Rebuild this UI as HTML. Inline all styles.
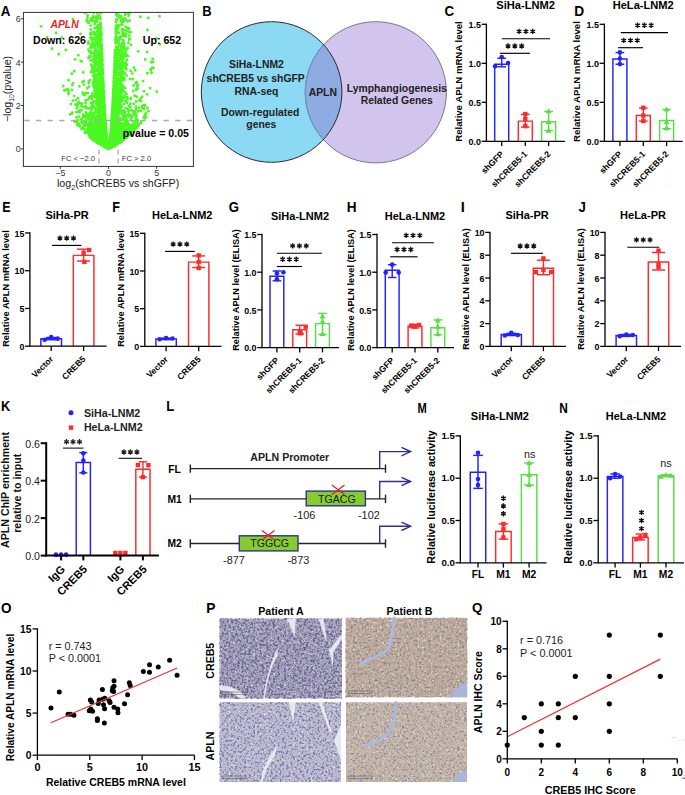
<!DOCTYPE html>
<html><head><meta charset="utf-8"><style>html,body{margin:0;padding:0;background:#fff;overflow:hidden}svg{display:block}text{font-family:"Liberation Sans",sans-serif}</style></head><body>
<svg width="685" height="795" viewBox="0 0 685 795" font-family='"Liberation Sans", sans-serif'>
<rect width="685" height="795" fill="#fff"/>
<text transform="translate(0.71,15.9) scale(0.923,1)" font-size="14.53" font-weight="bold" fill="#000">A</text>
<clipPath id="clipA"><rect x="23.4" y="12.4" width="170.0" height="154.0"/></clipPath>
<path clip-path="url(#clipA)" d="M104.5 139.1h0M113.8 81.0h0M108.1 148.6h0M117.5 130.7h0M105.6 134.3h0M102.7 130.1h0M107.2 147.5h0M105.6 136.8h0M109.8 141.4h0M97.0 96.9h0M88.0 21.8h0M124.2 136.6h0M111.0 128.8h0M114.6 137.3h0M102.1 81.7h0M108.3 148.6h0M95.1 85.5h0M112.3 115.7h0M106.5 136.0h0M110.3 138.8h0M110.2 147.2h0M107.4 141.7h0M74.6 121.7h0M108.1 147.2h0M108.0 147.7h0M116.7 144.0h0M100.3 58.1h0M111.2 137.9h0M118.9 66.9h0M105.4 145.1h0M111.5 135.0h0M108.2 147.5h0M115.1 132.2h0M109.4 143.3h0M105.4 132.4h0M99.2 97.3h0M106.5 135.8h0M100.5 112.7h0M104.7 121.3h0M111.8 142.6h0M108.6 148.7h0M106.0 141.0h0M109.0 146.9h0M106.2 142.1h0M106.3 132.8h0M114.6 100.4h0M104.2 106.1h0M117.9 49.0h0M107.3 142.8h0M107.0 145.3h0M109.7 144.3h0M99.4 34.0h0M109.0 147.1h0M106.1 141.2h0M110.1 144.2h0M104.4 146.6h0M116.6 120.6h0M100.5 116.6h0M105.7 137.6h0M107.3 142.1h0M106.2 130.3h0M99.8 82.3h0M111.6 145.4h0M114.7 106.7h0M98.5 142.1h0M101.9 143.3h0M105.1 145.4h0M113.6 144.0h0M122.7 128.1h0M104.0 96.0h0M118.5 105.6h0M109.5 146.9h0M108.5 148.8h0M108.4 148.4h0M111.9 121.1h0M107.3 146.3h0M106.3 140.1h0M116.5 60.0h0M110.9 139.4h0M114.8 92.0h0M106.6 138.8h0M115.3 83.2h0M100.2 93.7h0M111.2 145.4h0M103.7 141.7h0M109.7 147.4h0M102.5 123.3h0M118.3 123.1h0M107.5 146.5h0M119.1 136.4h0M113.9 132.9h0M96.0 19.9h0M111.2 143.7h0M108.6 148.5h0M109.3 144.8h0M104.0 145.1h0M99.3 139.8h0M83.7 81.0h0M109.2 144.9h0M102.0 56.0h0M120.6 99.4h0M112.7 136.2h0M108.5 148.9h0M118.4 27.5h0M106.6 143.1h0M111.8 140.3h0M108.4 148.8h0M101.8 119.5h0M96.7 20.5h0M109.3 144.4h0M116.6 137.4h0M104.2 143.2h0M109.5 145.2h0M111.3 134.1h0M101.7 129.7h0M124.7 130.0h0M108.8 147.7h0M109.1 147.2h0M106.4 141.4h0M135.3 129.0h0M99.2 122.8h0M111.8 133.7h0M113.0 142.9h0M96.3 102.2h0M108.8 147.7h0M110.3 138.5h0M113.4 141.8h0M107.6 147.1h0M115.0 119.8h0M111.4 137.5h0M117.6 91.1h0M108.6 148.6h0M113.1 138.7h0M108.0 146.6h0M118.1 128.3h0M115.9 31.7h0M111.0 144.6h0M98.1 126.8h0M106.5 143.7h0M136.9 82.3h0M106.8 139.1h0M108.9 147.9h0M103.5 95.4h0M94.8 136.3h0M111.3 126.0h0M106.9 147.0h0M102.8 113.7h0M106.7 139.7h0M108.7 148.6h0M99.9 47.4h0M109.1 147.2h0M108.0 147.2h0M105.0 125.7h0M115.8 139.7h0M114.9 143.2h0M109.4 144.2h0M111.3 139.8h0M113.0 143.3h0M103.2 128.0h0M107.9 146.3h0M109.5 147.1h0M112.3 108.5h0M121.4 87.6h0M105.7 137.4h0M103.3 136.4h0M102.3 103.6h0M108.7 148.2h0M110.0 145.1h0M113.0 135.8h0M102.8 77.9h0M117.0 91.6h0M109.0 146.4h0M96.0 139.5h0M121.5 21.3h0M103.7 110.4h0M118.7 111.5h0M102.0 99.6h0M109.5 143.4h0M109.7 146.2h0M97.7 43.6h0M110.9 142.3h0M115.0 90.7h0M106.1 143.4h0M107.6 145.3h0M104.9 115.8h0M108.8 147.6h0M109.4 144.6h0M108.8 148.3h0M106.9 138.5h0M110.3 136.4h0M116.3 106.0h0M109.3 145.1h0M107.2 142.5h0M107.4 142.8h0M110.2 139.5h0M98.3 115.7h0M109.8 143.7h0M106.2 133.5h0M107.4 146.9h0M108.4 148.5h0M110.9 132.2h0M111.4 127.1h0M117.7 130.4h0M95.6 49.0h0M110.6 145.3h0M107.0 147.8h0M106.2 141.3h0M118.5 104.7h0M115.6 114.8h0M97.2 115.6h0M109.0 147.2h0M106.3 136.2h0M106.3 140.5h0M106.6 138.7h0M110.4 135.3h0M95.0 133.7h0M103.2 127.3h0M111.0 140.4h0M105.5 139.8h0M107.3 147.3h0M109.9 140.5h0M114.7 57.6h0M112.3 146.9h0M119.3 134.0h0M101.0 116.5h0M108.2 147.8h0M113.3 145.5h0M109.6 146.2h0M98.2 104.2h0M110.6 136.3h0M110.9 139.3h0M106.3 143.0h0M105.0 114.6h0M112.7 138.8h0M102.5 100.2h0M105.5 136.7h0M104.7 141.3h0M108.8 147.5h0M147.0 51.9h0M115.0 118.7h0M99.8 132.0h0M108.0 148.6h0M108.2 147.8h0M103.9 140.5h0M107.2 147.5h0M116.5 137.4h0M112.8 113.1h0M109.4 144.2h0M101.7 140.3h0M107.7 145.2h0M113.0 137.6h0M105.9 146.9h0M121.8 69.3h0M108.6 148.5h0M107.9 147.8h0M109.8 142.8h0M110.1 141.9h0M113.9 144.0h0M108.4 148.6h0M111.7 135.2h0M109.5 145.4h0M102.3 142.3h0M109.7 145.6h0M106.7 138.8h0M107.8 145.8h0M106.3 133.0h0M116.3 123.9h0M103.4 134.2h0M106.0 134.1h0M99.6 97.8h0M109.7 145.8h0M100.8 118.1h0M101.7 126.9h0M123.6 77.0h0M102.5 64.3h0M107.1 143.6h0M125.4 56.1h0M112.1 139.6h0M102.2 131.9h0M104.5 137.6h0M105.3 146.2h0M127.7 130.8h0M108.2 148.1h0M117.1 144.1h0M108.8 147.9h0M111.5 145.5h0M108.9 147.7h0M107.0 148.2h0M106.7 141.0h0M108.6 148.2h0M129.1 132.8h0M138.2 125.9h0M110.5 141.9h0M110.0 139.6h0M110.7 147.1h0M105.4 144.9h0M104.3 113.2h0M112.1 122.2h0M106.0 132.9h0M112.1 124.6h0M129.9 130.1h0M107.1 148.2h0M108.0 148.3h0M110.0 147.3h0M97.9 53.0h0M109.7 146.6h0M101.0 40.6h0M117.2 141.1h0M109.7 142.3h0M112.3 142.2h0M104.5 145.8h0M100.7 127.4h0M102.4 65.1h0M111.3 140.5h0M112.7 137.0h0M106.3 140.1h0M135.9 117.4h0M100.5 116.7h0M113.5 102.9h0M102.7 141.1h0M127.7 134.9h0M101.2 119.8h0M103.1 140.8h0M113.6 138.7h0M113.7 129.8h0M85.7 117.4h0M112.5 122.4h0M86.7 123.6h0M114.3 97.2h0M105.4 141.1h0M116.2 121.0h0M109.5 143.1h0M113.8 86.3h0M108.4 148.5h0M111.7 146.9h0M115.3 139.5h0M88.7 81.4h0M112.4 109.7h0M100.3 142.5h0M109.7 143.2h0M106.4 134.9h0M109.0 146.2h0M106.8 143.8h0M105.2 137.9h0M106.6 137.2h0M124.9 122.6h0M117.2 123.3h0M106.7 137.5h0M110.2 144.9h0M102.7 124.1h0M105.4 137.6h0M121.5 112.5h0M110.3 145.5h0M104.3 121.2h0M109.4 145.5h0M97.4 133.0h0M107.0 148.0h0M105.6 142.3h0M99.4 115.7h0M109.6 145.9h0M109.4 146.0h0M113.0 145.5h0M121.2 71.7h0M110.2 146.3h0M110.9 143.0h0M110.3 147.5h0M107.6 146.4h0M108.2 147.9h0M111.3 129.3h0M106.2 142.2h0M106.7 137.9h0M115.4 106.2h0M114.9 130.1h0M105.5 136.9h0M110.1 145.3h0M107.3 146.8h0M114.0 101.8h0M107.5 144.4h0M103.0 133.2h0M106.6 144.5h0M110.1 145.0h0M112.2 131.0h0M120.0 139.0h0M90.1 127.0h0M109.2 145.9h0M108.5 148.9h0M105.5 142.3h0M112.9 130.7h0M107.2 145.2h0M107.7 147.1h0M109.4 147.0h0M114.0 145.4h0M106.1 138.0h0M109.1 147.1h0M116.0 116.2h0M107.7 145.7h0M100.1 116.2h0M107.4 144.2h0M103.9 144.9h0M93.9 116.4h0M114.3 141.8h0M107.6 147.7h0M122.0 135.3h0M105.2 132.1h0M102.4 82.9h0M107.4 147.0h0M109.6 147.3h0M88.7 108.3h0M107.7 146.7h0M105.8 129.0h0M103.9 135.8h0M107.2 148.3h0M102.0 61.5h0M105.6 144.7h0M106.6 145.8h0M110.8 131.5h0M108.6 148.4h0M98.1 143.3h0M105.9 125.9h0M109.3 147.9h0M109.1 147.0h0M110.7 142.8h0M101.4 87.0h0M109.7 143.3h0M115.8 69.9h0M110.8 141.8h0M112.7 126.5h0M110.0 141.1h0M108.6 148.6h0M109.1 145.9h0M93.6 32.4h0M108.1 147.9h0M111.2 135.9h0M91.7 134.8h0M107.2 142.2h0M119.5 97.7h0M110.6 139.2h0M106.8 144.7h0M118.7 130.3h0M98.6 128.2h0M107.5 146.7h0M112.9 140.7h0M147.5 108.0h0M109.8 142.0h0M109.7 144.6h0M102.1 56.9h0M109.4 145.7h0M108.3 148.7h0M105.0 143.0h0M104.1 134.3h0M105.5 121.9h0M114.1 129.2h0M105.8 138.6h0M91.8 102.7h0M110.3 142.2h0M111.0 139.4h0M109.5 144.2h0M109.3 145.8h0M103.5 121.1h0M115.1 139.5h0M107.7 145.2h0M106.8 141.0h0M103.3 137.9h0M98.2 134.1h0M105.4 137.1h0M108.4 148.7h0M114.5 121.4h0M104.5 136.0h0M126.3 65.1h0M115.8 37.4h0M100.6 124.4h0M109.6 144.3h0M105.4 139.2h0M129.6 20.7h0M109.3 146.6h0M124.8 73.4h0M110.8 137.0h0M114.6 130.6h0M107.4 144.1h0M104.2 138.7h0M115.8 141.9h0M111.7 146.1h0M107.8 145.9h0M137.8 123.4h0M101.6 48.6h0M109.6 142.7h0M102.0 145.0h0M101.0 143.8h0M125.7 132.2h0M106.4 141.3h0M106.4 136.5h0M111.8 116.2h0M106.8 142.5h0M106.0 138.3h0M107.8 146.6h0M95.0 128.4h0M109.7 142.6h0M98.2 138.5h0M109.8 147.9h0M108.2 148.1h0M108.9 148.0h0M103.1 128.8h0M113.1 146.6h0M117.6 140.7h0M111.3 128.3h0M120.4 135.8h0M97.9 80.8h0M108.6 148.6h0M95.4 68.4h0M123.8 124.4h0M97.6 139.6h0M109.2 145.5h0M104.7 109.8h0M116.7 135.7h0M110.8 143.7h0M94.7 48.5h0M102.4 59.1h0M111.4 142.2h0M107.8 144.9h0M97.4 13.0h0M107.0 147.2h0M106.6 144.5h0M117.5 141.9h0M103.9 129.3h0M108.0 147.3h0M107.2 145.6h0M115.5 141.4h0M115.9 77.0h0M108.0 146.6h0M100.4 128.1h0M100.6 95.0h0M105.5 141.0h0M109.6 142.9h0M104.1 99.4h0M108.0 147.6h0M107.3 142.6h0M114.1 116.8h0M108.5 148.9h0M106.8 145.8h0M122.8 21.3h0M107.5 146.4h0M108.6 148.3h0M103.0 138.0h0M103.6 119.3h0M106.9 139.5h0M107.7 146.3h0M108.9 146.9h0M111.8 134.0h0M106.9 146.9h0M106.9 139.3h0M107.3 146.0h0M117.6 107.3h0M100.5 24.6h0M117.6 142.4h0M102.0 130.0h0M96.8 104.0h0M109.9 141.3h0M120.9 127.7h0M109.6 148.2h0M104.7 132.7h0M115.6 115.7h0M95.4 130.3h0M120.0 87.6h0M107.0 143.9h0M106.0 127.8h0M112.0 130.0h0M127.6 134.7h0M121.4 19.6h0M93.6 129.9h0M109.5 147.2h0M102.7 138.1h0M95.2 126.7h0M106.4 140.3h0M99.3 88.6h0M113.5 139.6h0M113.5 118.3h0M106.8 139.5h0M113.2 142.8h0M99.2 133.3h0M105.8 139.1h0M102.0 120.5h0M93.5 43.3h0M99.2 75.1h0M110.5 134.1h0M99.7 33.2h0M104.3 105.1h0M105.9 146.9h0M101.3 139.3h0M117.4 140.7h0M112.7 139.1h0M105.3 123.2h0M115.0 81.7h0M114.0 100.7h0M98.7 143.1h0M108.6 148.4h0M103.1 144.5h0M109.1 146.2h0M116.8 102.9h0M108.2 147.8h0M110.2 147.4h0M111.8 120.4h0M126.4 93.9h0M98.9 136.6h0M111.7 130.0h0M111.4 129.7h0M106.1 132.3h0M110.2 147.7h0M108.7 147.9h0M125.8 131.1h0M93.3 132.8h0M106.2 133.6h0M111.1 144.6h0M109.6 146.7h0M102.5 111.4h0M109.6 142.8h0M109.3 145.3h0M106.6 146.8h0M83.1 117.3h0M119.7 106.7h0M123.8 44.3h0M111.3 143.8h0M112.2 144.6h0M144.6 104.9h0M113.3 144.4h0M111.4 146.5h0M104.9 146.4h0M106.6 145.5h0M110.3 140.8h0M110.7 144.7h0M117.6 111.1h0M105.3 131.3h0M110.5 144.7h0M116.0 128.6h0M110.8 145.1h0M112.3 115.9h0M106.4 146.6h0M105.6 143.2h0M117.4 130.0h0M103.1 84.4h0M109.1 147.1h0M108.1 148.7h0M102.7 140.2h0M106.0 143.8h0M111.4 145.1h0M100.9 99.2h0M116.3 46.7h0M108.9 147.0h0M106.9 140.2h0M113.7 101.0h0M104.7 131.0h0M116.9 125.9h0M106.4 135.1h0M109.6 143.7h0M109.6 148.0h0M109.4 147.6h0M108.1 147.3h0M104.8 143.3h0M118.4 126.5h0M103.1 121.5h0M104.1 141.0h0M100.1 137.0h0M110.4 146.7h0M107.9 148.6h0M105.3 146.1h0M107.5 142.9h0M105.5 138.3h0M111.1 146.1h0M110.9 147.1h0M105.4 135.1h0M114.7 145.2h0M110.3 144.5h0M102.7 143.6h0M113.7 145.2h0M106.9 139.9h0M105.9 135.7h0M114.5 144.1h0M104.7 140.0h0M105.9 140.1h0M118.5 137.7h0M98.3 141.1h0M105.9 133.0h0M101.1 34.0h0M96.2 83.1h0M107.2 148.0h0M109.8 146.4h0M111.0 141.7h0M104.1 144.1h0M130.1 134.7h0M97.1 42.4h0M108.8 147.8h0M131.0 45.0h0M119.1 126.3h0M106.7 139.0h0M130.1 127.2h0M114.3 144.7h0M110.4 138.4h0M106.6 142.3h0M108.1 147.6h0M114.6 81.7h0M109.3 146.9h0M110.0 147.8h0M108.8 148.0h0M106.2 145.6h0M112.0 140.4h0M116.7 71.5h0M107.9 148.1h0M107.6 146.1h0M107.5 145.2h0M104.1 115.4h0M109.4 144.5h0M112.1 126.3h0M134.3 126.8h0M107.6 145.8h0M107.6 145.4h0M112.9 143.6h0M98.2 31.7h0M109.8 140.4h0M97.9 28.3h0M105.5 139.5h0M110.2 145.8h0M101.9 140.6h0M107.4 144.3h0M110.9 138.1h0M113.6 135.5h0M108.7 147.7h0M112.3 142.4h0M103.5 133.2h0M113.2 113.8h0M99.9 30.9h0M110.1 145.4h0M108.5 148.8h0M112.3 122.7h0M105.4 141.5h0M109.7 143.8h0M114.2 136.1h0M120.2 141.9h0M106.3 143.1h0M98.4 139.9h0M115.4 124.3h0M105.6 142.4h0M117.0 48.2h0M109.6 142.9h0M103.9 126.9h0M106.6 139.4h0M104.9 114.5h0M113.1 118.5h0M111.2 141.4h0M109.3 144.2h0M99.3 140.0h0M117.9 93.9h0M124.6 121.1h0M108.5 148.8h0M101.0 138.5h0M118.1 138.8h0M109.1 146.1h0M103.6 110.5h0M140.8 110.9h0M119.6 107.1h0M110.3 138.9h0M106.3 135.7h0M107.7 146.7h0M109.2 146.4h0M133.8 103.7h0M105.5 137.9h0M150.6 69.4h0M107.4 146.0h0M118.3 126.2h0M108.9 147.4h0M108.5 148.8h0M110.3 144.9h0M118.9 111.2h0M113.1 146.1h0M108.8 148.2h0M108.1 147.1h0M108.3 148.3h0M106.6 140.2h0M112.5 124.4h0M113.9 103.8h0M93.8 62.1h0M92.7 132.0h0M114.2 140.3h0M109.3 147.2h0M104.6 127.4h0M106.5 145.2h0M112.9 140.1h0M105.9 135.5h0M119.1 108.2h0M99.9 110.4h0M104.5 144.3h0M111.7 145.0h0M112.8 100.5h0M111.0 146.1h0M104.2 139.8h0M106.3 138.2h0M105.3 144.0h0M115.5 141.8h0M106.1 143.0h0M106.1 143.7h0M113.8 84.6h0M106.2 147.0h0M113.0 116.8h0M115.7 140.3h0M91.6 126.1h0M117.9 133.6h0M108.8 147.9h0M105.6 145.8h0M104.7 143.9h0M106.0 147.2h0M116.4 111.4h0M108.3 148.1h0M97.4 93.3h0M104.9 112.8h0M116.3 98.0h0M106.2 139.0h0M88.6 57.9h0M112.8 134.5h0M110.8 143.3h0M109.8 146.3h0M108.0 146.3h0M107.9 145.9h0M110.2 139.7h0M105.9 135.4h0M106.6 147.4h0M127.8 56.2h0M113.2 112.9h0M108.6 148.7h0M104.6 116.5h0M109.1 147.3h0M116.1 53.5h0M112.8 141.0h0M107.6 147.1h0M113.1 120.9h0M107.2 145.9h0M105.3 139.1h0M113.1 138.5h0M94.6 80.5h0M111.7 124.9h0M92.0 137.1h0M108.1 148.6h0M127.8 115.0h0M107.1 142.3h0M108.1 147.2h0M111.4 147.0h0M100.4 114.6h0M116.2 139.8h0M101.2 123.5h0M107.5 143.4h0M116.1 142.8h0M111.4 134.3h0M101.5 44.0h0M111.5 145.6h0M109.2 145.5h0M105.3 138.3h0M100.6 107.1h0M102.3 144.4h0M119.2 59.5h0M114.1 139.2h0M113.9 140.5h0M113.0 138.8h0M117.0 115.7h0M109.7 148.0h0M110.3 140.8h0M106.3 139.1h0M105.6 142.6h0M101.5 132.9h0M97.9 11.7h0M104.4 144.2h0M104.3 104.0h0M115.3 127.2h0M107.4 146.3h0M109.8 146.7h0M110.1 142.6h0M115.5 104.0h0M81.6 106.5h0M105.5 137.2h0M110.0 143.9h0M105.3 144.2h0M106.3 143.5h0M95.0 32.8h0M105.2 136.4h0M112.1 144.3h0M106.0 133.5h0M107.7 145.9h0M121.7 140.3h0M107.3 146.5h0M119.1 136.9h0M85.3 115.3h0M112.0 132.9h0M105.0 144.1h0M122.5 58.4h0M105.2 137.4h0M106.4 133.6h0M105.7 126.9h0M118.2 78.9h0M104.4 145.6h0M110.0 142.3h0M101.8 49.3h0M110.5 137.9h0M115.1 65.0h0M101.8 101.5h0M113.8 112.4h0M110.1 139.7h0M81.7 61.2h0M101.7 68.6h0M106.7 146.3h0M105.9 142.7h0M105.6 146.2h0M104.2 127.6h0M109.4 146.5h0M102.0 72.4h0M106.1 146.6h0M108.4 148.5h0M108.6 148.7h0M110.6 140.1h0M104.2 113.5h0M94.7 90.8h0M109.3 147.8h0M125.2 111.9h0M116.8 13.1h0M116.5 70.8h0M109.3 144.5h0M99.3 130.6h0M108.1 146.7h0M115.4 132.8h0M116.9 59.3h0M104.8 123.3h0M123.2 133.4h0M108.7 148.4h0M114.2 99.5h0M96.2 121.1h0M117.0 112.7h0M99.9 98.2h0M121.1 125.0h0M110.0 140.0h0M106.4 137.1h0M107.9 148.2h0M111.5 141.1h0M106.6 136.5h0M110.4 136.3h0M108.6 148.4h0M101.9 131.1h0M106.5 135.0h0M109.1 147.1h0M109.7 142.3h0M107.8 146.0h0M105.5 137.3h0M112.0 142.0h0M109.0 146.2h0M105.0 145.6h0M98.4 125.7h0M113.5 137.0h0M107.4 144.0h0M95.3 136.7h0M107.3 146.3h0M96.0 125.5h0M122.0 78.3h0M112.7 139.4h0M103.8 144.6h0M113.0 99.5h0M107.0 144.8h0M109.9 147.6h0M110.1 145.7h0M107.2 145.6h0M105.9 146.3h0M108.7 148.5h0M108.8 147.8h0M108.1 148.5h0M100.1 137.7h0M108.6 148.6h0M99.0 115.8h0M105.7 135.8h0M114.3 144.6h0M106.2 132.5h0M104.9 124.9h0M118.0 64.2h0M111.9 115.6h0M107.4 144.5h0M78.7 101.9h0M111.0 142.7h0M101.8 58.2h0M111.6 137.7h0M106.9 144.9h0M110.3 145.5h0M103.1 106.3h0M110.4 140.8h0M112.0 142.4h0M112.4 131.2h0M107.2 145.8h0M110.3 143.0h0M112.2 139.0h0M108.3 148.3h0M110.4 138.5h0M104.0 110.0h0M112.9 137.6h0M126.0 108.1h0M119.6 123.6h0M102.7 145.2h0M112.4 108.1h0M110.2 138.1h0M113.7 102.8h0M106.8 143.9h0M98.6 110.4h0M107.8 146.4h0M112.4 112.5h0M110.1 139.3h0M112.0 114.7h0M99.5 52.7h0M106.9 147.6h0M113.4 145.7h0M107.7 144.5h0M106.7 147.2h0M114.4 123.3h0M104.1 98.0h0M132.9 79.1h0M148.4 111.2h0M106.1 132.6h0M111.4 140.9h0M100.8 137.0h0M106.3 147.5h0M114.2 142.5h0M106.3 143.3h0M107.1 144.8h0M112.0 135.5h0M123.5 21.3h0M111.2 128.7h0M107.4 147.8h0M99.6 87.0h0M111.9 135.8h0M112.5 144.0h0M107.0 142.8h0M108.7 147.9h0M117.4 68.8h0M94.9 130.8h0M108.7 148.6h0M114.8 143.6h0M123.2 58.8h0M122.4 134.4h0M104.4 134.9h0M105.6 136.5h0M115.4 127.5h0M111.6 136.7h0M117.9 25.2h0M104.9 136.7h0M103.6 119.4h0M102.3 112.0h0M110.0 141.6h0M107.1 142.5h0M106.7 144.1h0M119.3 68.7h0M108.2 148.1h0M103.1 143.8h0M109.8 141.8h0M114.2 125.0h0M116.3 142.8h0M109.4 147.6h0M107.4 146.1h0M108.2 147.7h0M112.9 130.2h0M114.0 135.7h0M93.9 140.2h0M107.1 145.5h0M104.9 136.1h0M95.8 112.3h0M112.8 146.5h0M95.8 68.2h0M108.6 148.6h0M104.4 138.6h0M110.2 141.4h0M108.2 147.2h0M104.8 139.2h0M129.1 40.1h0M113.0 146.0h0M106.5 135.7h0M99.5 93.4h0M109.0 147.4h0M104.4 141.1h0M111.3 144.7h0M110.0 145.4h0M105.8 131.2h0M110.3 136.8h0M110.6 138.0h0M105.8 136.2h0M107.1 147.8h0M106.5 136.8h0M112.1 142.1h0M111.3 144.8h0M106.4 141.5h0M107.3 142.5h0M114.1 143.8h0M120.0 17.8h0M117.0 141.9h0M108.6 148.5h0M96.5 132.8h0M111.0 133.0h0M109.2 145.7h0M105.5 145.8h0M88.2 132.0h0M99.6 32.5h0M107.1 148.0h0M110.5 145.0h0M123.4 138.0h0M109.1 147.1h0M109.1 147.8h0M111.0 141.4h0M110.1 139.6h0M108.2 148.1h0M123.2 46.4h0M103.1 137.6h0M109.9 144.2h0M107.6 148.0h0M107.2 141.4h0M110.3 140.5h0M109.8 143.9h0M110.7 137.2h0M87.0 124.3h0M109.9 140.3h0M122.8 138.5h0M111.2 124.6h0M108.8 147.6h0M103.8 141.0h0M107.4 146.3h0M110.7 142.1h0M107.3 141.9h0M101.7 91.7h0M110.0 142.0h0M110.3 140.0h0M95.3 45.3h0M111.6 123.7h0M124.6 138.2h0M105.1 135.8h0M102.7 128.8h0M112.5 124.0h0M106.2 135.0h0M108.4 148.4h0M100.5 137.5h0M114.9 144.9h0M110.2 140.8h0M110.0 139.4h0M109.4 147.0h0M104.5 144.2h0M79.1 116.6h0M106.6 147.1h0M105.3 118.6h0M95.8 91.3h0M99.4 46.5h0M106.5 142.2h0M110.6 147.6h0M108.3 148.0h0M107.9 147.5h0M106.3 143.2h0M108.6 148.3h0M111.0 147.7h0M99.1 135.3h0M96.4 135.1h0M92.4 128.8h0M101.4 140.6h0M107.7 144.7h0M88.3 125.8h0M99.8 59.9h0M120.1 119.7h0M107.3 142.1h0M103.8 120.3h0M100.9 97.0h0M108.0 146.7h0M109.8 141.4h0M108.6 148.7h0M109.7 147.6h0M109.2 145.1h0M109.6 145.4h0M111.8 119.0h0M106.3 146.7h0M117.7 132.0h0M109.8 143.8h0M104.8 116.8h0M107.7 146.8h0M108.7 148.4h0M114.8 141.0h0M103.0 142.5h0M102.9 111.5h0M103.2 118.9h0M118.4 100.0h0M93.7 43.0h0M108.7 148.0h0M113.2 139.9h0M107.4 147.7h0M107.5 145.2h0M103.5 107.1h0M101.5 86.8h0M93.0 60.0h0M106.7 141.6h0M68.9 91.6h0M108.8 148.7h0M109.7 145.2h0M103.6 115.9h0M109.7 141.3h0M110.8 133.7h0M91.7 96.2h0M108.4 148.7h0M111.0 139.2h0M90.9 34.7h0M111.5 133.9h0M113.0 131.2h0M91.3 48.1h0M124.5 133.2h0M109.6 145.6h0M108.6 148.6h0M101.9 132.1h0M110.7 138.8h0M104.2 124.9h0M111.4 132.6h0M106.7 144.8h0M112.5 131.5h0M96.1 50.7h0M111.0 141.2h0M101.1 124.0h0M97.9 139.7h0M113.3 113.5h0M107.3 146.6h0M111.1 143.7h0M110.1 144.3h0M108.3 148.7h0M112.3 114.7h0M116.6 84.4h0M120.1 109.1h0M105.8 139.4h0M99.0 41.7h0M108.4 148.3h0M99.9 54.5h0M114.6 130.0h0M115.4 134.2h0M108.7 148.1h0M100.0 141.1h0M103.3 118.0h0M112.7 124.3h0M108.6 148.8h0M108.6 148.8h0M106.1 143.0h0M102.1 139.2h0M108.9 148.4h0M151.5 72.7h0M108.2 147.9h0M94.3 136.4h0M111.4 126.8h0M85.9 124.2h0M103.8 133.1h0M121.9 137.8h0M110.3 143.2h0M124.2 43.1h0M108.4 148.4h0M94.9 137.3h0M123.7 127.0h0M113.3 146.3h0M111.7 139.0h0M107.4 144.2h0M106.9 142.6h0M109.0 146.5h0M116.7 52.3h0M108.9 147.3h0M106.4 144.1h0M113.8 122.2h0M108.3 148.4h0M99.6 72.9h0M109.7 148.1h0M118.0 127.9h0M118.1 137.3h0M94.7 107.7h0M107.9 147.8h0M110.4 140.1h0M107.8 146.1h0M92.0 132.2h0M113.7 93.7h0M110.7 143.5h0M108.3 148.2h0M111.5 139.5h0M115.2 72.9h0M121.9 134.7h0M109.4 148.0h0M111.7 144.4h0M116.1 129.1h0M114.5 140.8h0M114.8 142.9h0M102.8 101.6h0M107.3 144.5h0M102.5 136.0h0M110.8 133.9h0M103.1 143.8h0M111.6 143.2h0M107.3 146.5h0M108.3 148.7h0M116.5 137.7h0M111.6 144.0h0M105.1 123.2h0M122.6 133.9h0M138.7 124.5h0M110.5 138.8h0M116.0 111.7h0M108.1 146.9h0M107.5 146.3h0M110.0 142.8h0M106.9 139.5h0M115.3 144.1h0M109.2 147.5h0M105.2 136.6h0M94.6 126.4h0M105.1 117.4h0M103.1 86.1h0M114.0 75.3h0M109.2 147.1h0M90.8 138.0h0M115.6 143.2h0M118.8 141.7h0M118.1 121.9h0M111.6 146.2h0M126.5 125.8h0M123.8 127.5h0M121.2 75.4h0M111.4 144.8h0M104.0 144.9h0M83.3 122.2h0M112.3 137.7h0M110.3 138.2h0M104.7 127.4h0M113.0 123.4h0M112.4 112.1h0M96.6 68.4h0M104.0 102.2h0M105.9 145.6h0M110.0 146.9h0M110.2 141.9h0M107.0 139.0h0M108.2 147.7h0M92.7 42.5h0M107.1 140.1h0M109.0 147.0h0M125.2 132.4h0M107.6 148.3h0M125.9 132.0h0M109.5 144.1h0M105.5 130.7h0M98.8 26.0h0M130.6 32.3h0M107.5 144.1h0M100.4 74.0h0M108.6 148.8h0M112.5 139.8h0M123.7 104.3h0M105.9 129.9h0M107.9 146.8h0M105.2 138.3h0M101.0 118.6h0M106.2 135.1h0M114.7 91.8h0M106.8 137.9h0M110.0 141.1h0M92.5 126.5h0M101.9 103.7h0M113.4 133.7h0M110.7 134.0h0M109.5 146.4h0M121.5 101.8h0M113.9 94.7h0M109.1 147.5h0M111.3 135.3h0M145.2 59.5h0M107.6 148.0h0M94.6 70.7h0M100.1 110.7h0M100.2 119.1h0M110.0 141.5h0M108.6 148.6h0M111.7 134.4h0M112.3 114.6h0M108.4 148.7h0M107.0 139.8h0M103.9 130.5h0M110.4 139.4h0M98.3 142.4h0M77.4 104.0h0M108.0 146.5h0M108.9 146.8h0M96.0 136.2h0M114.1 110.0h0M79.3 124.3h0M102.8 142.7h0M107.5 145.6h0M98.7 35.1h0M109.7 142.7h0M109.1 148.5h0M114.4 128.4h0M112.4 140.6h0M111.4 128.8h0M109.0 146.9h0M104.5 144.4h0M96.3 97.5h0M98.4 133.9h0M112.8 132.2h0M90.5 11.5h0M101.1 74.8h0M123.1 138.0h0M110.2 145.4h0M103.1 78.2h0M108.8 148.3h0M104.9 112.9h0M118.3 139.6h0M109.3 146.5h0M115.2 53.4h0M110.8 139.1h0M112.1 133.3h0M134.6 95.7h0M98.9 111.8h0M104.2 133.6h0M112.3 108.8h0M105.3 146.2h0M114.9 136.1h0M125.9 137.2h0M112.2 139.0h0M126.1 124.4h0M109.9 141.2h0M102.4 143.3h0M105.4 142.6h0M119.5 123.5h0M114.2 72.2h0M114.1 145.4h0M106.7 137.5h0M110.8 140.9h0M116.8 142.6h0M102.3 98.4h0M107.7 145.3h0M106.3 130.9h0M108.0 148.4h0M106.6 145.7h0M108.5 148.9h0M100.0 121.2h0M110.9 136.0h0M107.6 144.0h0M110.5 133.5h0M102.6 129.5h0M106.5 145.2h0M96.3 137.8h0M114.5 133.5h0M109.1 148.0h0M103.7 109.2h0M113.1 111.0h0M103.3 135.3h0M106.8 142.3h0M108.2 147.7h0M109.8 143.0h0M103.5 110.8h0M109.7 147.3h0M101.7 122.6h0M79.3 111.1h0M113.2 143.9h0M109.2 144.9h0M101.3 72.9h0M122.0 134.5h0M121.9 140.6h0M89.4 126.2h0M101.7 130.7h0M110.4 145.0h0M103.5 105.7h0M108.0 146.6h0M99.6 126.3h0M105.9 136.7h0M113.0 140.6h0M115.5 65.3h0M106.9 139.4h0M106.6 135.9h0M109.4 144.0h0M113.6 128.5h0M114.8 142.8h0M106.6 147.2h0M127.2 131.1h0M112.2 121.1h0M117.4 131.4h0M104.4 140.1h0M111.2 134.5h0M109.7 144.9h0M105.9 147.2h0M123.1 41.5h0M110.1 139.7h0M106.3 146.4h0M103.9 113.0h0M97.6 131.8h0M105.9 129.1h0M134.5 121.4h0M109.2 146.9h0M111.8 147.0h0M102.5 77.9h0M98.0 138.1h0M112.4 127.2h0M119.6 16.4h0M112.6 145.6h0M75.2 59.4h0M119.8 134.5h0M113.4 130.7h0M103.5 84.8h0M128.5 128.8h0M102.8 87.5h0M109.0 147.8h0M109.2 145.4h0M102.5 127.4h0M107.7 145.0h0M108.2 147.8h0M108.5 148.9h0M101.5 116.1h0M104.7 130.9h0M107.4 145.9h0M112.7 128.9h0M110.4 143.5h0M106.9 144.3h0M110.6 134.5h0M113.4 126.6h0M109.3 146.5h0M111.1 141.3h0M110.5 136.5h0M111.0 143.0h0M109.9 146.6h0M106.2 134.9h0M103.3 127.5h0M111.1 131.9h0M106.0 143.5h0M117.3 138.3h0M107.6 144.5h0M122.8 127.8h0M112.2 140.9h0M107.3 147.1h0M103.3 104.7h0M116.9 69.8h0M108.0 146.6h0M109.1 145.9h0M104.9 135.6h0M100.2 82.5h0M112.8 121.7h0M107.7 145.7h0M109.5 144.4h0M105.8 132.4h0M112.6 125.7h0M114.5 125.7h0M118.6 143.4h0M111.5 127.3h0M108.4 148.5h0M109.4 144.9h0M107.9 146.1h0M107.5 143.8h0M118.1 119.0h0M100.7 115.7h0M96.8 120.3h0M106.7 144.7h0M94.5 130.5h0M109.9 141.1h0M116.8 116.9h0M110.1 146.2h0M109.9 143.8h0M105.4 139.0h0M112.4 146.6h0M110.6 145.2h0M110.1 140.1h0M102.2 56.3h0M112.3 111.1h0M110.2 142.6h0M101.3 145.0h0M94.9 118.5h0M114.4 121.5h0M106.5 144.9h0M124.1 138.4h0M102.9 118.8h0M120.8 125.0h0M114.0 93.8h0M113.1 128.3h0M96.8 137.2h0M109.0 146.3h0M106.0 138.6h0M88.4 49.8h0M111.9 127.1h0M101.6 128.8h0M106.3 133.9h0M101.7 121.9h0M108.5 148.9h0M107.0 143.4h0M117.3 15.9h0M114.0 144.7h0M108.9 147.8h0M106.6 145.5h0M109.9 143.9h0M110.9 144.0h0M113.6 146.5h0M109.1 145.6h0M116.4 27.3h0M108.8 147.8h0M110.6 137.4h0M110.0 143.7h0M90.9 137.9h0M105.6 140.7h0M126.7 125.7h0M102.7 140.7h0M113.7 143.4h0M105.2 147.4h0M120.7 75.7h0M105.2 130.3h0M107.6 148.3h0M102.2 142.1h0M107.3 140.9h0M109.2 145.1h0M113.4 107.9h0M121.1 139.3h0M103.8 111.5h0M111.7 142.4h0M105.3 142.7h0M108.8 148.4h0M107.4 146.0h0M104.2 133.2h0M105.7 141.5h0M101.2 117.2h0M119.8 53.8h0M94.5 140.8h0M116.2 134.9h0M108.9 148.2h0M109.2 147.2h0M110.2 140.0h0M75.6 121.2h0M112.1 128.8h0M116.4 124.6h0M110.0 146.1h0M98.2 141.2h0M105.8 136.0h0M106.8 147.4h0M108.1 147.5h0M107.9 148.3h0M112.8 136.2h0M106.0 127.9h0M103.7 136.1h0M109.1 147.9h0M108.0 148.3h0M130.8 115.1h0M106.7 141.5h0M109.4 146.2h0M129.3 135.5h0M105.6 140.9h0M108.4 148.6h0M113.4 137.2h0M109.0 147.5h0M97.9 107.2h0M111.3 133.5h0M109.6 147.2h0M110.2 141.6h0M106.8 146.0h0M116.0 58.2h0M125.1 14.8h0M101.3 106.6h0M112.8 145.9h0M112.0 139.8h0M108.9 147.2h0M109.2 145.4h0M84.5 95.1h0M107.2 143.5h0M116.0 43.0h0M109.6 147.4h0M112.8 128.8h0M120.9 140.4h0M110.2 141.7h0M103.6 134.5h0M108.9 147.1h0M110.6 137.2h0M103.3 96.7h0M99.8 122.1h0M119.8 104.9h0M106.2 140.5h0M107.3 145.2h0M104.8 138.4h0M110.9 145.6h0M112.1 138.6h0M87.4 17.4h0M110.9 146.9h0M101.3 90.5h0M108.1 146.8h0M104.8 139.5h0M124.3 80.0h0M103.8 136.7h0M113.4 108.6h0M100.9 144.7h0M115.1 118.7h0M101.0 136.2h0M100.0 117.9h0M120.6 134.4h0M98.8 129.4h0M107.7 145.3h0M108.5 148.8h0M105.4 135.3h0M108.7 148.0h0M104.9 116.7h0M104.8 146.3h0M109.2 147.2h0M94.2 137.2h0M107.2 145.7h0M119.9 66.6h0M131.5 127.0h0M102.3 125.2h0M104.0 140.3h0M110.5 138.7h0M108.0 146.1h0M110.6 136.2h0M115.0 74.8h0M119.2 60.7h0M117.9 11.4h0M100.6 87.7h0M104.7 137.4h0M110.4 139.1h0M112.2 114.2h0M118.9 137.2h0M99.3 133.4h0M102.7 99.0h0M108.9 147.6h0M114.0 75.3h0M92.8 127.6h0M108.5 148.8h0M99.2 82.6h0M108.5 148.9h0M124.1 110.4h0M109.4 146.7h0M108.1 148.1h0M125.5 132.5h0M104.4 145.9h0M103.9 125.2h0M110.0 142.6h0M106.9 140.3h0M112.4 140.9h0M118.1 139.4h0M108.5 148.7h0M107.9 146.8h0M106.7 136.9h0M88.4 125.6h0M107.0 143.5h0M112.2 143.8h0M111.6 143.7h0M113.5 106.2h0M106.3 147.3h0M112.8 109.3h0M82.4 82.0h0M101.7 143.3h0M84.6 116.6h0M109.3 148.3h0M111.7 139.2h0M106.5 143.6h0M108.3 148.0h0M108.3 148.3h0M99.4 36.6h0M110.4 144.1h0M111.1 140.1h0M61.7 37.7h0M106.4 142.7h0M113.1 141.7h0M116.2 128.8h0M118.2 135.9h0M119.8 109.8h0M105.2 131.2h0M111.4 139.6h0M109.7 148.2h0M101.5 39.7h0M107.9 147.1h0M109.3 145.7h0M105.3 136.5h0M117.2 95.7h0M117.0 51.1h0M112.0 145.5h0M104.8 131.7h0M108.3 148.1h0M107.2 141.8h0M106.6 136.5h0M104.1 115.5h0M102.5 129.6h0M94.2 115.3h0M118.4 140.7h0M114.0 144.3h0M107.4 144.4h0M101.2 143.0h0M76.5 117.4h0M112.4 127.7h0M106.9 143.3h0M105.8 144.5h0M106.3 133.9h0M106.9 148.0h0M98.9 34.1h0M108.4 148.4h0M108.9 147.7h0M109.2 147.1h0M98.0 55.0h0M107.7 147.0h0M100.4 124.7h0M109.3 146.7h0M107.5 144.8h0M112.9 130.3h0M109.7 145.2h0M110.7 147.9h0M111.6 134.2h0M110.3 137.2h0M105.2 138.4h0M108.8 148.2h0M103.2 113.0h0M120.3 106.3h0M126.9 97.3h0M106.3 146.8h0M108.9 146.9h0M101.8 59.7h0M110.1 145.9h0M91.0 72.2h0M90.3 129.3h0M120.5 129.6h0M109.4 147.1h0M114.2 145.4h0M107.9 146.7h0M105.9 141.4h0M114.5 89.3h0M110.1 143.8h0M122.8 40.3h0M109.8 144.7h0M117.8 137.6h0M93.9 125.3h0M108.2 148.7h0M111.5 143.0h0M113.0 136.1h0M107.6 147.0h0M111.3 145.0h0M103.9 132.8h0M106.3 141.8h0M104.8 139.9h0M97.5 120.2h0M105.9 135.5h0M104.4 135.5h0M99.4 133.5h0M100.8 117.7h0M102.8 77.6h0M92.3 67.4h0M99.3 88.4h0M110.4 147.4h0M104.6 109.6h0M103.5 125.2h0M110.0 147.7h0M111.2 137.4h0M111.7 142.0h0M108.8 148.5h0M102.0 137.5h0M112.1 142.5h0M110.6 143.9h0M105.6 146.8h0M99.8 134.5h0M105.2 120.7h0M99.9 144.3h0M110.9 133.7h0M107.2 145.5h0M111.2 130.7h0M111.8 123.1h0M108.4 148.6h0M118.9 93.1h0M118.2 124.6h0M102.2 119.6h0M110.0 140.4h0M105.3 138.1h0M112.4 121.2h0M117.9 126.9h0M102.0 144.8h0M109.0 147.0h0M104.8 139.2h0M114.1 110.6h0M104.6 140.1h0M109.1 147.4h0M108.0 146.8h0M108.8 148.2h0M108.7 148.8h0M116.9 143.3h0M107.5 145.1h0M116.8 79.7h0M111.8 130.9h0M102.7 98.4h0M109.7 143.4h0M96.6 131.0h0M118.0 141.2h0M96.7 136.5h0M112.1 146.5h0M103.9 146.6h0M110.5 137.7h0M104.1 116.9h0M103.5 140.5h0M99.2 99.5h0M110.1 141.0h0M108.2 147.6h0M99.7 103.2h0M107.9 147.0h0M114.4 71.3h0M108.6 148.7h0M109.9 141.0h0M117.8 129.4h0M107.8 145.8h0M108.5 148.8h0M92.4 136.5h0M117.0 14.7h0M100.7 125.5h0M110.4 142.0h0M113.8 85.8h0M114.4 132.1h0M106.3 139.1h0M111.3 134.7h0M107.6 145.7h0M108.2 147.8h0M106.1 131.9h0M105.1 147.0h0M105.1 139.7h0M101.5 114.2h0M109.8 141.2h0M113.3 143.4h0M98.8 72.1h0M108.0 147.0h0M107.5 144.0h0M103.2 137.1h0M109.4 144.2h0M125.5 137.2h0M111.4 126.0h0M122.7 138.2h0M92.1 134.3h0M113.6 124.2h0M101.7 114.6h0M115.5 142.5h0M106.3 145.4h0M105.1 136.9h0M109.6 144.0h0M119.4 124.2h0M108.2 148.3h0M101.6 120.9h0M106.9 143.0h0M110.0 147.6h0M111.6 145.5h0M112.8 144.8h0M106.7 140.4h0M104.0 111.1h0M101.5 137.8h0M118.1 142.3h0M106.4 136.0h0M111.3 141.1h0M105.6 132.5h0M109.2 147.7h0M114.4 82.8h0M106.6 145.3h0M108.5 148.8h0M114.4 144.8h0M104.3 108.3h0M110.0 142.8h0M92.4 135.5h0M111.6 134.9h0M102.2 139.8h0M107.6 143.9h0M104.9 116.7h0M108.4 148.6h0M115.6 70.8h0M114.6 140.4h0M107.6 143.6h0M107.6 145.9h0M114.1 100.3h0M109.0 146.7h0M102.1 130.5h0M108.3 147.8h0M108.1 148.1h0M110.4 136.9h0M108.3 147.9h0M109.0 147.6h0M103.9 94.1h0M117.0 143.1h0M121.3 53.5h0M112.7 137.1h0M122.8 47.4h0M105.4 144.6h0M114.8 144.2h0M97.8 93.9h0M103.8 131.2h0M98.3 124.9h0M106.1 139.3h0M109.8 141.9h0M106.7 139.3h0M107.3 142.2h0M108.7 148.7h0M105.5 139.1h0M113.6 116.0h0M109.9 142.3h0M104.2 142.7h0M114.5 145.0h0M105.6 145.6h0M105.2 140.2h0M109.8 146.7h0M115.1 74.5h0M102.3 141.4h0M101.7 136.9h0M113.6 89.3h0M125.9 121.7h0M101.1 143.3h0M105.2 132.8h0M123.6 139.9h0M110.9 143.4h0M120.2 141.2h0M111.5 123.6h0M105.5 138.5h0M108.4 148.6h0M109.7 147.2h0M110.2 143.1h0M113.4 125.5h0M111.2 145.3h0M112.0 145.0h0M107.7 146.2h0M110.7 143.9h0M99.3 142.2h0M121.4 65.8h0M93.6 68.5h0M104.2 133.1h0M103.8 138.3h0M95.8 88.3h0M107.1 142.1h0M104.5 105.2h0M114.0 146.2h0M108.1 148.5h0M107.7 146.0h0M111.4 138.3h0M103.3 101.3h0M107.5 146.5h0M101.4 101.2h0M106.6 142.8h0M106.9 139.3h0M94.3 136.3h0M113.1 136.8h0M102.4 109.5h0M111.2 145.8h0M106.9 145.7h0M94.7 61.7h0M108.1 147.6h0M105.8 128.9h0M104.4 128.0h0M107.5 147.5h0M111.6 130.0h0M105.0 121.2h0M101.8 93.2h0M123.0 126.6h0M108.1 147.0h0M109.6 142.4h0M105.6 134.9h0M98.8 139.7h0M99.6 110.7h0M110.6 142.6h0M107.1 141.5h0M115.1 127.4h0M106.0 136.5h0M106.9 139.1h0M115.8 139.5h0M94.5 88.1h0M107.9 147.7h0M102.8 78.8h0M99.9 70.7h0M105.5 132.0h0M111.6 146.6h0M110.0 139.3h0M113.1 133.7h0M108.4 148.3h0M99.0 142.8h0M111.0 128.6h0M109.4 146.5h0M122.0 30.4h0M101.4 145.1h0M102.6 132.7h0M103.1 135.9h0M107.8 146.9h0M101.8 144.7h0M106.3 132.1h0M110.0 144.9h0M112.8 105.5h0M117.0 19.7h0M111.5 124.3h0M104.0 138.2h0M104.7 115.4h0M105.0 136.3h0M117.8 134.4h0M113.0 141.1h0M114.3 122.2h0M107.9 146.8h0M110.5 142.1h0M108.3 148.2h0M106.3 145.3h0M121.9 138.7h0M107.9 147.7h0M107.7 146.8h0M109.8 143.0h0M109.7 147.5h0M119.1 40.3h0M109.8 143.5h0M114.5 120.5h0M104.7 115.6h0M103.7 136.9h0M111.3 134.7h0M106.7 147.9h0M94.5 137.8h0M97.9 141.2h0M110.4 140.2h0M109.4 146.0h0M114.1 72.4h0M109.2 147.1h0M111.9 133.4h0M109.4 148.0h0M72.3 84.9h0M111.4 123.7h0M97.0 131.2h0M108.1 147.6h0M103.7 134.6h0M110.5 146.7h0M112.8 145.9h0M110.1 138.5h0M107.6 143.9h0M108.5 148.9h0M106.3 135.0h0M135.3 111.2h0M109.6 146.7h0M110.0 143.3h0M109.6 146.3h0M117.1 140.4h0M111.2 136.7h0M109.4 146.7h0M105.9 134.9h0M121.9 133.7h0M114.1 113.9h0M107.3 143.9h0M105.0 132.7h0M114.2 72.4h0M96.2 139.8h0M105.5 144.0h0M108.7 148.1h0M117.8 117.0h0M109.6 146.9h0M111.7 144.2h0M108.4 148.7h0M108.6 148.8h0M81.7 128.5h0M104.2 100.5h0M90.6 126.0h0M102.7 133.6h0M106.4 139.9h0M112.4 124.8h0M103.9 143.5h0M100.7 144.0h0M103.6 90.3h0M110.1 137.2h0M122.4 89.5h0M97.4 90.4h0M112.3 146.4h0M115.3 143.3h0M101.5 100.0h0M110.4 148.0h0M109.7 145.3h0M111.6 128.7h0M118.8 100.6h0M115.2 128.9h0M110.3 146.0h0M93.4 128.1h0M108.6 148.7h0M102.0 115.2h0M116.9 134.7h0M110.4 135.9h0M101.0 139.4h0M109.9 141.0h0M108.3 148.5h0M101.2 141.5h0M112.0 113.7h0M112.7 126.4h0M106.9 145.3h0M105.0 147.2h0M101.9 108.6h0M92.5 130.8h0M108.6 148.8h0M109.3 147.1h0M117.6 90.2h0M113.5 101.5h0M104.9 146.6h0M103.0 141.9h0M108.5 148.9h0M110.6 142.5h0M108.8 147.9h0M110.4 147.0h0M138.1 51.4h0M105.7 147.0h0M105.6 146.6h0M105.1 138.6h0M110.5 138.9h0M123.9 33.7h0M114.6 132.8h0M102.5 110.1h0M106.2 140.5h0M112.0 141.1h0M107.5 144.1h0M106.1 129.4h0M111.2 140.5h0M104.8 131.0h0M106.6 143.2h0M93.0 138.2h0M106.7 144.5h0M112.9 129.1h0M100.6 134.2h0M104.9 117.8h0M115.4 136.3h0M92.3 105.7h0M114.7 139.3h0M111.5 137.6h0M109.4 144.8h0M95.4 134.8h0M93.6 12.7h0M110.1 141.8h0M108.2 147.9h0M109.6 147.9h0M104.3 141.0h0M117.7 142.9h0M113.9 140.1h0M91.1 64.7h0M106.6 145.4h0M124.8 129.0h0M107.4 146.4h0M108.0 146.7h0M128.3 122.9h0M110.8 136.8h0M95.5 70.3h0M112.0 140.3h0M119.3 119.2h0M99.4 143.5h0M108.1 146.7h0M102.6 133.5h0M103.6 100.9h0M110.2 138.4h0M121.5 128.7h0M108.5 148.8h0M122.6 74.2h0M108.0 146.6h0M112.4 123.5h0M109.0 147.9h0M114.3 132.1h0M116.3 124.5h0M110.2 138.0h0M126.2 100.6h0M106.9 142.0h0M111.0 141.8h0M107.7 146.4h0M102.9 123.8h0M105.5 135.5h0M103.6 108.5h0M132.3 125.0h0M99.6 105.0h0M109.9 146.6h0M118.2 142.2h0M99.6 112.9h0M109.1 147.8h0M103.1 88.3h0M106.6 138.7h0M114.2 121.6h0M123.3 140.0h0M106.3 135.6h0M111.0 135.1h0M110.7 147.4h0M112.1 133.4h0M100.8 113.2h0M98.7 100.6h0M118.2 139.1h0M108.1 147.8h0M105.2 146.5h0M104.0 139.6h0M112.2 142.5h0M109.7 143.7h0M99.2 10.5h0M113.2 107.6h0M103.2 140.0h0M90.6 124.4h0M116.4 139.4h0M110.8 147.8h0M112.5 125.5h0M105.8 131.9h0M119.1 74.5h0M108.9 148.3h0M108.5 148.8h0M96.2 98.2h0M106.6 147.1h0M102.7 106.9h0M101.0 121.1h0M101.4 123.1h0M99.0 15.4h0M115.9 144.7h0M112.5 132.0h0M111.1 137.8h0M108.7 148.5h0M109.4 144.5h0M116.5 126.5h0M109.4 145.3h0M120.2 139.4h0M109.5 145.2h0M100.4 143.3h0M107.4 144.7h0M104.9 136.7h0M107.1 143.8h0M114.9 102.1h0M108.1 147.1h0M107.4 142.7h0M102.8 111.2h0M107.8 146.3h0M111.7 129.7h0M102.3 139.4h0M111.4 130.1h0M110.9 130.7h0M106.2 144.4h0M102.9 135.0h0M98.4 129.8h0M106.9 139.0h0M102.3 120.0h0M89.1 135.1h0M101.3 28.5h0M101.5 129.9h0M100.1 123.7h0M112.1 129.2h0M107.0 144.5h0M110.1 140.2h0M107.9 148.6h0M107.1 147.5h0M111.1 137.1h0M107.4 146.9h0M108.3 148.2h0M108.1 147.5h0M114.3 126.8h0M110.8 133.4h0M108.4 148.7h0M111.4 133.3h0M85.7 131.6h0M113.0 98.5h0M122.4 61.5h0M104.9 142.7h0M83.4 123.4h0M99.8 119.6h0M98.0 33.9h0M117.6 117.9h0M120.5 51.4h0M114.0 102.4h0M115.0 142.6h0M121.5 125.1h0M103.8 131.2h0M110.0 141.5h0M111.6 137.9h0M122.7 56.6h0M109.6 144.4h0M109.1 146.2h0M84.2 115.4h0M109.5 143.7h0M105.9 140.4h0M116.3 118.4h0M112.2 111.1h0M99.0 143.0h0M109.0 148.4h0M107.9 147.7h0M114.6 133.3h0M108.8 147.9h0M103.9 141.0h0M107.0 139.5h0M107.6 145.6h0M106.3 147.7h0M106.5 139.4h0M106.8 144.9h0M105.8 137.9h0M106.5 147.7h0M109.8 144.5h0M109.4 147.1h0M104.1 141.4h0M106.6 144.8h0M126.9 137.4h0M104.6 145.1h0M107.7 144.7h0M107.8 148.5h0M110.5 146.2h0M102.4 103.4h0M109.5 143.2h0M120.4 136.1h0M79.2 111.5h0M108.0 146.7h0M108.2 147.3h0M112.9 97.8h0M100.7 117.5h0M110.6 139.3h0M110.5 144.1h0M106.6 145.5h0M108.2 148.8h0M122.0 134.3h0M115.6 127.5h0M99.3 31.0h0M109.4 146.1h0M108.1 148.2h0M107.9 146.0h0M113.3 110.6h0M108.7 148.4h0M107.5 144.1h0M113.7 138.2h0M109.8 147.3h0M116.3 35.8h0M104.3 130.6h0M124.1 139.4h0M112.0 113.8h0M102.5 74.0h0M122.8 139.2h0M106.2 137.8h0M104.2 136.9h0M114.7 130.8h0M118.8 96.9h0M110.2 139.2h0M120.8 136.9h0M108.5 148.9h0M111.9 137.4h0M110.6 140.2h0M108.7 148.2h0M104.8 120.3h0M116.0 60.0h0M116.8 56.6h0M95.7 121.6h0M96.3 101.4h0M105.7 142.5h0M100.9 140.7h0M116.9 119.3h0M106.4 134.4h0M110.0 142.6h0M104.9 132.1h0M105.7 134.2h0M121.7 74.5h0M113.6 135.5h0M102.4 136.4h0M81.5 121.9h0M106.9 139.6h0M107.8 147.5h0M145.3 114.6h0M106.6 147.4h0M107.8 145.5h0M98.5 125.6h0M101.2 52.8h0M119.8 95.3h0M111.4 136.6h0M101.9 128.0h0M108.8 148.1h0M105.3 144.7h0M108.8 148.2h0M119.8 139.3h0M92.5 19.1h0M102.6 132.6h0M110.1 145.1h0M104.1 133.8h0M134.1 114.4h0M114.7 120.5h0M105.5 124.8h0M109.6 143.6h0M107.1 143.1h0M114.7 141.0h0M95.8 134.9h0M97.5 131.0h0M98.1 130.7h0M102.6 110.2h0M118.1 142.1h0M107.1 141.5h0M104.2 126.4h0M100.4 123.5h0M98.6 138.0h0M98.5 130.5h0M86.8 132.1h0M112.1 115.3h0M112.8 135.8h0M104.5 119.5h0M105.1 138.7h0M116.6 121.5h0M106.4 142.7h0M116.6 131.9h0M114.1 142.1h0M102.4 145.2h0M107.9 146.3h0M110.2 137.9h0M107.4 142.6h0M111.4 143.5h0M106.4 146.5h0M105.0 147.0h0M125.4 132.4h0M120.7 125.5h0M101.6 119.4h0M109.2 144.7h0M103.7 144.7h0M131.0 118.9h0M102.4 122.1h0M115.9 40.9h0M111.7 141.1h0M115.7 123.3h0M108.9 147.2h0M104.1 113.2h0M105.5 125.3h0M91.2 20.7h0M113.3 144.1h0M102.8 130.6h0M109.4 144.3h0M107.5 143.3h0M104.5 146.5h0M116.3 38.2h0M110.4 143.8h0M102.6 135.4h0M110.2 140.5h0M109.9 144.2h0M109.7 145.5h0M119.2 138.7h0M126.3 30.8h0M92.2 116.4h0M106.2 141.7h0M102.3 60.7h0M103.9 144.0h0M106.7 139.6h0M108.1 147.9h0M115.4 140.0h0M134.5 124.0h0M107.1 142.4h0M114.2 69.5h0M110.5 139.4h0M114.9 141.2h0M101.0 137.9h0M111.4 130.5h0M110.1 140.9h0M91.1 124.5h0M108.7 148.5h0M113.6 142.5h0M112.7 140.2h0M109.6 144.8h0M96.3 16.9h0M125.4 137.8h0M109.5 143.4h0M97.8 50.7h0M112.3 132.2h0M73.1 83.1h0M107.9 148.0h0M88.4 119.4h0M106.3 134.7h0M104.2 139.6h0M110.4 139.6h0M113.6 85.5h0M110.1 147.9h0M100.5 124.8h0M152.1 67.7h0M110.5 134.8h0M108.0 146.7h0M84.0 129.0h0M104.3 131.2h0M112.0 141.4h0M121.3 133.7h0M108.6 148.7h0M91.8 131.2h0M108.2 147.4h0M109.7 144.0h0M105.1 142.3h0M105.8 146.4h0M110.9 136.4h0M101.1 96.8h0M114.2 135.8h0M97.9 108.0h0M105.9 143.8h0M109.6 145.3h0M115.5 100.8h0M109.9 142.5h0M111.2 134.2h0M115.6 140.8h0M104.6 114.6h0M104.9 134.5h0M103.1 91.4h0M110.1 140.9h0M132.5 116.6h0M107.8 146.7h0M113.1 101.6h0M114.9 122.6h0M114.3 117.6h0M101.0 144.7h0M111.9 118.8h0M106.8 141.3h0M109.7 144.5h0M108.2 148.2h0M107.0 142.6h0M102.7 113.3h0M94.5 79.3h0M121.0 95.3h0M109.5 146.8h0M100.8 137.9h0M102.6 65.1h0M114.8 145.8h0M115.4 83.3h0M105.1 119.4h0M99.8 64.6h0M115.0 118.0h0M110.3 142.6h0M101.5 68.7h0M105.9 128.8h0M108.2 148.0h0M104.4 131.1h0M108.1 148.6h0M118.7 63.3h0M103.1 139.6h0M108.8 147.7h0M114.8 132.1h0M109.8 145.8h0M106.3 135.2h0M108.0 146.4h0M98.3 84.2h0M109.9 146.5h0M114.4 133.5h0M96.5 117.4h0M97.8 94.7h0M104.4 128.5h0M156.6 38.4h0M107.5 148.4h0M103.2 83.7h0M100.3 138.5h0M90.8 56.5h0M111.5 139.7h0M108.9 146.7h0M107.5 143.7h0M112.9 98.8h0M106.6 146.1h0M94.8 130.0h0M111.9 122.5h0M115.0 137.0h0M120.7 90.8h0M101.3 134.0h0M110.3 143.6h0M115.7 62.1h0M107.6 146.1h0M106.8 147.0h0M111.4 146.3h0M106.8 137.9h0M112.6 112.3h0M103.6 133.4h0M103.2 99.9h0M105.9 129.9h0M108.0 147.3h0M105.2 119.0h0M116.7 97.6h0M105.3 137.6h0M107.1 145.2h0M116.5 134.8h0M103.4 142.7h0M89.5 133.4h0M117.4 101.5h0M103.0 107.1h0M106.6 141.0h0M113.9 120.2h0M109.0 148.3h0M111.1 143.2h0M99.9 113.7h0M133.4 124.9h0M106.7 148.0h0M116.1 106.6h0M108.9 147.4h0M102.0 69.8h0M101.7 64.9h0M97.7 111.1h0M140.4 16.7h0M106.5 144.6h0M98.9 135.7h0M110.4 145.5h0M116.8 136.8h0M112.2 135.6h0M113.5 131.6h0M91.3 115.6h0M110.0 139.4h0M104.5 135.7h0M102.9 74.1h0M105.2 125.7h0M112.6 126.7h0M107.6 146.4h0M106.8 144.2h0M101.6 116.8h0M105.0 130.5h0M99.8 136.3h0M91.5 107.3h0M100.6 139.1h0M108.8 148.0h0M104.9 140.2h0M105.4 138.4h0M98.1 137.5h0M111.5 137.7h0M115.3 120.1h0M111.2 132.4h0M115.9 119.8h0M108.0 146.6h0M109.7 147.1h0M108.6 148.4h0M108.0 147.4h0M132.8 111.4h0M106.2 140.1h0M145.0 106.0h0M112.1 127.4h0M104.3 115.8h0M112.7 142.0h0M108.6 148.7h0M101.0 137.3h0M112.7 130.8h0M111.4 143.2h0M105.6 145.7h0M131.7 124.8h0M110.5 141.2h0M109.9 143.2h0M115.0 141.3h0M102.8 88.8h0M130.0 79.1h0M105.5 141.0h0M85.2 12.9h0M90.8 133.7h0M110.7 140.5h0M104.0 144.8h0M110.0 143.5h0M93.9 140.0h0M109.3 147.6h0M106.6 142.1h0M93.3 32.0h0M107.6 145.1h0M105.4 141.1h0M107.3 141.2h0M94.9 139.4h0M106.2 133.7h0M112.4 135.4h0M110.4 136.1h0M112.4 135.3h0M104.2 109.0h0M105.3 139.4h0M108.7 148.1h0M111.3 124.2h0M106.5 146.2h0M109.2 148.1h0M116.8 125.4h0M105.9 131.4h0M106.9 147.8h0M103.9 107.7h0M114.8 55.9h0M111.7 138.4h0M105.0 140.8h0M108.9 147.6h0M112.6 138.3h0M111.8 134.9h0M110.8 143.8h0M109.8 147.4h0M107.6 146.5h0M105.9 144.0h0M118.0 143.0h0M113.1 132.6h0M112.1 128.9h0M115.2 142.9h0M113.3 105.6h0M126.6 55.1h0M128.4 127.1h0M109.5 143.5h0M106.2 133.3h0M120.6 87.7h0M125.8 121.7h0M105.4 142.8h0M110.0 148.2h0M97.1 141.3h0M113.0 128.8h0M107.8 146.7h0M101.6 144.5h0M111.4 142.2h0M107.3 147.2h0M123.5 40.8h0M107.0 144.7h0M115.6 144.7h0M113.8 143.9h0M113.9 141.4h0M108.9 147.5h0M100.4 143.8h0M108.4 148.8h0M107.0 139.8h0M117.9 68.4h0M125.2 122.4h0M107.2 143.0h0M104.3 104.4h0M111.9 142.6h0M108.0 146.8h0M109.1 146.1h0M110.5 143.4h0M109.2 146.8h0M105.4 132.1h0M105.9 127.2h0M121.3 81.5h0M111.9 121.2h0M107.1 142.1h0M104.5 138.9h0M100.4 47.0h0M98.8 93.2h0M94.0 136.1h0M97.2 91.6h0M116.4 137.6h0M107.0 140.7h0M109.1 146.2h0M113.9 130.3h0M106.7 141.1h0M110.5 137.7h0M125.1 63.9h0M110.2 140.4h0M106.6 134.9h0M101.3 108.5h0M104.5 145.0h0M114.6 128.4h0M106.3 141.1h0M104.6 135.2h0M109.2 145.3h0M121.3 66.5h0M102.9 109.4h0M108.3 148.6h0M114.9 111.6h0M95.5 81.1h0M110.7 145.6h0M105.7 141.6h0M108.0 148.5h0M111.1 146.5h0M90.7 25.6h0M106.1 145.3h0M114.9 129.7h0M108.1 148.4h0M121.4 46.9h0M101.3 74.9h0M101.7 134.2h0M111.8 140.3h0M108.4 148.8h0M106.0 141.9h0M105.4 144.2h0M106.9 141.5h0M112.8 145.3h0M110.9 136.0h0M109.3 146.0h0M108.0 148.1h0M108.3 148.0h0M96.0 57.3h0M109.0 146.7h0M142.1 106.1h0M115.3 117.2h0M116.9 116.0h0M109.2 146.7h0M117.6 14.7h0M104.7 115.4h0M112.4 134.7h0M115.9 137.6h0M113.0 112.8h0M124.6 56.7h0M119.4 94.6h0M113.5 134.2h0M113.0 124.9h0M110.9 133.0h0M101.5 35.3h0M129.1 116.6h0M108.9 147.2h0M107.4 148.4h0M108.3 148.7h0M108.4 148.6h0M95.3 141.4h0M112.2 146.5h0M101.7 116.8h0M108.8 148.0h0M105.4 138.0h0M113.8 146.1h0M106.5 146.8h0M102.1 95.7h0M110.5 143.2h0M117.6 106.4h0M105.8 145.3h0M107.9 145.9h0M119.4 44.4h0M104.5 146.7h0M63.2 86.0h0M106.6 139.5h0M109.2 145.9h0M93.9 137.2h0M106.7 143.3h0M104.1 101.2h0M108.3 148.1h0M107.8 147.8h0M112.7 118.3h0M101.2 127.5h0M86.9 129.1h0M98.3 101.8h0M98.1 88.3h0M111.8 140.9h0M108.2 148.3h0M104.0 121.0h0M109.6 147.9h0M122.9 135.1h0M108.4 148.3h0M101.0 120.9h0M114.0 106.8h0M123.1 139.8h0M100.5 22.8h0M111.3 126.7h0M114.6 145.3h0M106.6 140.2h0M108.7 148.1h0M110.1 148.0h0M110.1 145.5h0M114.6 136.1h0M101.6 144.3h0M111.5 140.6h0M101.5 143.0h0M100.7 108.6h0M112.4 138.8h0M110.3 143.6h0M106.9 144.5h0M105.4 144.7h0M119.5 140.7h0M119.3 119.5h0M103.7 146.6h0M107.7 144.7h0M115.1 128.1h0M102.7 116.1h0M110.1 143.2h0M111.5 130.9h0M109.0 147.4h0M109.9 140.6h0M111.7 136.2h0M107.8 145.2h0M105.9 143.7h0M111.4 137.2h0M114.7 123.0h0M110.9 137.6h0M107.6 145.0h0M107.6 147.1h0M107.0 142.1h0M98.5 138.8h0M108.4 148.7h0M106.4 135.2h0M105.6 137.3h0M109.6 145.0h0M106.2 147.6h0M122.4 67.9h0M110.5 145.0h0M121.7 119.0h0M107.2 141.4h0M109.9 140.7h0M111.1 146.1h0M112.2 113.7h0M101.7 139.6h0M116.0 59.0h0M104.4 134.5h0M105.7 128.7h0M109.8 142.2h0M107.5 145.7h0M109.1 147.2h0M113.6 145.5h0M106.4 141.2h0M107.5 142.7h0M101.1 142.8h0M126.9 132.6h0M106.8 138.8h0M117.3 88.6h0M110.9 142.5h0M108.1 146.7h0M112.7 144.7h0M108.6 148.6h0M108.6 148.5h0M108.9 147.4h0M111.8 125.2h0M106.9 146.2h0M121.4 136.7h0M103.7 127.4h0M102.1 127.1h0M122.7 129.3h0M118.1 54.1h0M117.1 144.1h0M108.3 148.1h0M116.3 11.8h0M104.4 140.2h0M115.6 101.6h0M113.9 133.9h0M104.4 118.3h0M110.2 143.4h0M97.0 21.7h0M115.2 142.2h0M114.1 130.8h0M114.0 118.8h0M117.1 114.9h0M97.7 107.1h0M106.1 129.0h0M120.2 57.0h0M109.5 147.3h0M109.3 145.1h0M107.8 146.1h0M97.4 26.4h0M102.4 134.0h0M105.1 125.7h0M111.2 144.0h0M117.3 142.2h0M116.9 30.5h0M110.3 137.8h0M116.4 136.2h0M107.5 144.5h0M104.8 112.8h0M113.3 135.4h0M144.4 118.5h0M116.7 132.2h0M111.1 140.5h0M101.1 84.7h0M108.1 147.5h0M107.7 144.7h0M114.7 115.1h0M110.9 133.0h0M108.2 148.6h0M134.2 125.3h0M117.0 123.8h0M103.6 100.0h0M106.9 147.4h0M121.8 130.1h0M106.0 130.0h0M106.1 139.0h0M124.0 29.9h0M110.8 141.8h0M112.7 142.7h0M101.8 145.3h0M105.9 127.1h0M109.1 147.0h0M85.6 103.2h0M106.8 137.8h0M110.6 134.2h0M102.9 124.5h0M102.9 77.9h0M97.4 116.4h0M122.5 130.0h0M113.7 123.6h0M101.5 127.0h0M111.8 129.4h0M106.5 142.1h0M104.6 127.9h0M104.6 134.3h0M112.2 146.2h0M103.8 139.5h0M116.7 86.4h0M109.1 148.0h0M56.1 32.9h0M119.0 57.8h0M106.7 138.2h0M112.3 146.9h0M92.3 40.1h0M105.3 144.2h0M115.4 135.2h0M98.5 71.1h0M106.7 136.8h0M104.0 141.7h0M111.9 123.8h0M121.8 99.8h0M110.2 141.5h0M104.9 124.4h0M114.7 105.5h0M109.4 146.6h0M102.3 125.0h0M128.9 32.3h0M106.9 142.7h0M107.4 142.7h0M107.1 140.4h0M105.7 143.4h0M102.6 109.3h0M112.1 116.5h0M107.9 146.1h0M109.7 145.9h0M113.0 107.3h0M109.4 144.4h0M119.1 131.2h0M107.7 147.0h0M109.3 146.9h0M144.0 91.2h0M109.5 145.4h0M107.9 146.4h0M102.0 143.9h0M113.3 140.3h0M118.6 141.5h0M119.6 138.3h0M111.1 131.0h0M100.7 116.9h0M109.1 146.1h0M110.0 147.7h0M99.1 48.0h0M120.2 137.7h0M109.5 143.8h0M104.5 129.4h0M109.3 147.1h0M105.5 133.7h0M126.2 119.7h0M108.5 148.8h0M106.2 143.4h0M110.2 140.6h0M121.2 140.1h0M104.5 117.1h0M106.9 140.9h0M103.6 142.1h0M104.5 108.0h0M111.7 123.3h0M103.2 134.5h0M95.9 35.1h0M123.6 91.1h0M105.3 139.8h0M105.8 142.7h0M114.4 142.3h0M104.5 140.4h0M108.0 146.9h0M110.0 145.4h0M104.0 145.1h0M92.8 139.2h0M111.6 131.4h0M109.8 146.8h0M102.7 85.6h0M107.2 141.8h0M109.2 148.4h0M105.1 119.1h0M106.3 142.3h0M107.2 141.0h0M97.9 135.1h0M111.8 141.2h0M110.0 146.9h0M99.1 93.4h0M113.3 145.5h0M112.4 112.3h0M109.4 147.9h0M113.7 145.4h0M105.6 135.4h0M89.9 10.9h0M117.0 136.4h0M109.0 146.4h0M106.6 141.3h0M105.1 123.3h0M115.2 83.5h0M102.2 92.8h0M112.5 115.0h0M108.7 148.7h0M98.0 116.8h0M110.3 143.3h0M102.9 72.0h0M106.9 141.0h0M117.0 61.8h0M110.9 136.5h0M97.3 92.7h0M108.8 147.7h0M109.7 144.0h0M108.5 148.9h0M111.1 129.5h0M106.0 131.3h0M110.9 146.3h0M118.1 112.4h0M123.4 114.2h0M105.7 145.0h0M107.6 145.5h0M111.6 136.0h0M112.8 135.6h0M107.0 138.5h0M107.9 145.7h0M107.0 139.8h0M99.7 142.9h0M107.6 147.7h0M89.4 128.0h0M106.6 144.1h0M81.5 105.8h0M105.8 128.1h0M102.0 96.9h0M109.0 146.3h0M125.5 126.5h0M107.1 142.2h0M95.1 70.0h0M109.1 146.5h0M106.2 146.7h0M106.9 146.4h0M103.0 132.4h0M112.5 145.0h0M108.4 148.8h0M108.1 147.3h0M106.6 136.5h0M106.3 136.6h0M109.5 143.5h0M110.1 139.6h0M108.8 147.6h0M105.7 129.8h0M104.9 130.9h0M107.2 142.6h0M110.5 136.7h0M111.8 145.0h0M106.3 139.5h0M109.8 143.7h0M111.1 145.5h0M112.4 122.6h0M104.5 126.0h0M108.0 146.7h0M106.1 143.1h0M100.4 120.8h0M110.2 140.1h0M108.0 148.1h0M108.5 148.9h0M109.9 139.9h0M104.8 132.1h0M107.6 144.5h0M121.2 133.2h0M120.0 126.0h0M111.8 145.7h0M102.5 119.5h0M109.0 147.3h0M102.1 66.3h0M124.0 136.8h0M110.7 134.4h0M130.7 98.1h0M107.7 148.2h0M112.7 118.5h0M121.1 129.1h0M123.1 99.4h0M113.9 131.7h0M103.7 128.0h0M108.4 148.7h0M88.6 132.2h0M113.4 122.9h0M103.9 115.6h0M97.5 89.9h0M108.2 148.2h0M106.9 145.9h0M106.7 142.7h0M104.9 134.3h0M112.0 142.4h0M107.5 146.4h0M111.9 125.6h0M108.9 148.7h0M107.8 145.2h0M107.7 144.7h0M111.8 135.9h0M109.2 146.3h0M108.4 148.6h0M106.9 141.9h0M94.2 135.3h0M102.2 137.7h0M99.6 119.6h0M70.1 114.4h0M109.6 143.7h0M108.6 148.5h0M112.5 131.0h0M108.8 148.2h0M109.4 146.8h0M109.1 147.9h0M116.0 69.5h0M128.4 42.9h0M118.6 140.8h0M65.8 50.0h0M110.4 138.3h0M105.9 143.5h0M122.0 89.4h0M113.7 108.2h0M101.0 34.7h0M109.7 142.3h0M89.9 96.8h0M109.1 146.5h0M110.2 144.5h0M109.7 147.4h0M110.2 138.0h0M117.1 39.6h0M111.0 146.2h0M98.4 97.5h0M109.5 147.0h0M97.8 110.8h0M113.2 118.0h0M113.0 112.0h0M89.1 11.1h0M108.8 147.7h0M85.2 125.6h0M106.8 145.3h0M107.3 144.2h0M101.1 143.2h0M109.7 148.1h0M113.0 130.1h0M106.7 136.8h0M108.4 148.5h0M99.0 134.6h0M109.6 146.1h0M109.3 146.3h0M113.3 142.0h0M103.3 139.4h0M117.9 73.1h0M110.8 131.3h0M98.4 118.1h0M107.8 146.5h0M107.1 140.2h0M101.0 124.4h0M97.0 142.7h0M99.0 138.0h0M109.4 144.8h0M110.6 140.9h0M98.7 113.1h0M105.4 122.8h0M113.2 95.6h0M110.1 141.0h0M113.7 138.8h0M109.3 145.2h0M106.6 136.9h0M107.2 142.1h0M101.1 102.2h0M102.5 130.0h0M95.6 124.2h0M112.7 127.2h0M118.3 111.0h0M106.8 147.7h0M115.8 141.9h0M107.4 142.9h0M111.5 132.8h0M124.4 130.4h0M108.6 148.4h0M111.0 144.4h0M128.3 133.0h0M103.1 132.6h0M105.5 140.3h0M109.2 145.5h0M111.0 142.0h0M97.7 106.1h0M114.4 138.5h0M115.4 138.1h0M109.0 147.9h0M119.2 78.3h0M92.8 118.5h0M100.4 91.2h0M100.6 143.8h0M101.5 126.6h0M126.4 69.2h0M111.8 128.8h0M66.6 89.7h0M109.4 145.8h0M121.7 107.0h0M117.4 57.6h0M114.2 113.0h0M101.4 143.5h0M102.0 70.6h0M117.1 136.2h0M97.4 44.7h0M109.6 143.2h0M102.8 134.2h0M106.0 138.0h0M117.8 91.0h0M117.1 98.8h0M98.8 125.5h0M112.2 138.4h0M109.3 144.6h0M110.3 138.1h0M106.3 143.8h0M105.0 119.8h0M103.3 138.1h0M105.8 141.5h0M111.3 124.2h0M107.3 146.2h0M105.3 141.9h0M115.8 32.5h0M106.6 144.2h0M103.6 141.4h0M118.6 111.2h0M105.9 130.1h0M104.8 119.9h0M101.3 45.1h0M109.5 143.9h0M111.1 141.0h0M105.6 143.2h0M103.5 140.8h0M94.7 134.2h0M106.4 145.1h0M97.8 137.5h0M108.3 147.9h0M108.1 148.0h0M120.4 127.6h0M103.4 99.0h0M131.9 132.5h0M105.9 128.6h0M98.8 129.1h0M98.8 111.7h0M125.1 120.9h0M113.2 92.7h0M113.7 140.6h0M125.1 68.1h0M123.3 118.0h0M107.5 145.1h0M109.6 147.8h0M97.8 141.6h0M109.4 144.3h0M88.5 123.0h0M111.7 140.3h0M110.8 147.5h0M109.3 146.7h0M99.9 123.8h0M85.9 112.4h0M67.8 89.2h0M97.3 63.7h0M132.2 73.6h0M106.1 131.1h0M101.8 75.9h0M109.1 146.2h0M108.0 148.3h0M117.9 103.7h0M107.6 146.2h0M84.3 107.1h0M52.0 48.8h0M110.1 145.4h0M116.0 20.2h0M111.4 124.9h0M108.5 148.9h0M110.3 142.1h0M111.6 147.4h0M109.1 146.0h0M106.6 145.3h0M111.9 142.4h0M123.3 131.1h0M118.0 140.3h0M103.9 103.9h0M111.0 140.9h0M110.5 133.8h0M112.5 141.4h0M107.2 147.1h0M109.0 148.5h0M108.4 148.8h0M124.9 133.3h0M107.4 143.0h0M107.4 145.5h0M109.6 144.3h0M104.5 138.0h0M99.2 117.3h0M108.5 148.7h0M101.1 139.2h0M126.9 103.1h0M111.6 133.3h0M105.0 129.7h0M106.9 140.4h0M111.0 133.1h0M109.8 142.6h0M104.0 133.6h0M106.5 138.2h0M97.9 128.8h0M109.6 142.6h0M95.5 62.9h0M112.4 110.8h0M90.8 46.5h0M106.1 143.5h0M100.2 29.8h0M123.2 35.1h0M108.2 148.2h0M107.7 145.7h0M105.9 140.4h0M103.7 134.3h0M109.7 142.3h0M111.3 142.8h0M108.1 148.7h0M108.9 147.4h0M103.8 136.5h0M108.1 147.1h0M113.5 146.4h0M108.9 147.4h0M109.7 141.7h0M121.8 53.3h0M96.7 81.1h0M106.3 142.7h0M112.7 138.3h0M121.3 71.5h0M99.0 138.7h0M113.7 121.4h0M105.1 121.9h0M101.2 145.0h0M108.8 148.7h0M111.0 146.6h0M105.8 141.1h0M111.7 137.9h0M117.2 138.3h0M99.3 65.9h0M113.2 92.7h0M116.1 25.8h0M111.2 138.8h0M117.2 142.6h0M108.7 148.3h0M112.1 117.7h0M108.1 148.3h0M108.1 147.2h0M111.0 136.1h0M108.7 148.4h0M100.2 122.9h0M91.2 133.2h0M112.9 125.5h0M106.4 138.0h0M100.6 70.5h0M109.1 147.0h0M107.8 145.1h0M105.3 125.8h0M111.7 136.6h0M110.3 143.4h0M108.0 147.4h0M86.4 108.3h0M103.2 132.0h0M92.9 97.0h0M112.4 128.5h0M110.3 140.2h0M100.9 112.4h0M95.5 118.1h0M104.7 135.3h0M111.0 137.7h0M108.8 148.4h0M104.7 136.1h0M118.3 117.9h0M114.8 138.2h0M110.2 138.6h0M107.0 141.3h0M103.5 138.9h0M97.2 123.9h0M96.3 138.7h0M104.7 146.5h0M106.3 147.1h0M109.5 143.8h0M103.1 87.7h0M112.2 146.9h0M107.4 142.7h0M109.1 146.1h0M114.1 117.4h0M107.8 145.4h0M100.1 141.2h0M105.3 137.2h0M92.2 37.9h0M108.9 148.0h0M85.0 93.9h0M115.2 128.2h0M116.3 128.0h0M109.0 146.8h0M110.5 135.8h0M111.0 139.2h0M110.0 142.2h0M119.6 54.5h0M104.7 139.1h0M106.8 144.0h0M137.1 125.8h0M114.0 84.8h0M103.9 143.5h0M120.9 137.3h0M109.2 147.0h0M106.6 138.9h0M123.1 100.1h0M109.7 142.3h0M115.8 130.4h0M97.8 140.3h0M109.0 146.4h0M110.4 142.7h0M115.6 137.8h0M110.5 142.7h0M126.7 136.1h0M108.1 148.4h0M112.5 105.6h0M107.8 147.4h0M117.6 73.2h0M107.2 142.6h0M121.0 133.7h0M109.1 146.7h0M110.2 141.1h0M109.4 146.6h0M119.8 98.7h0M110.6 137.9h0M113.5 91.2h0M111.4 142.3h0M108.4 148.7h0M104.7 121.9h0M108.4 148.7h0M111.1 145.9h0M117.4 100.2h0M117.1 70.3h0M105.4 145.0h0M111.5 146.9h0M109.0 146.7h0M106.1 132.9h0M102.3 74.3h0M108.7 148.1h0M109.3 148.3h0M108.9 147.6h0M108.7 148.3h0M99.8 138.4h0M107.8 146.1h0M106.4 142.5h0M101.8 121.8h0M105.1 121.3h0M107.0 141.5h0M108.5 148.9h0M101.7 140.5h0M107.9 147.7h0M122.6 127.2h0M114.6 127.3h0M100.9 90.2h0M112.3 121.1h0M106.9 143.8h0M127.7 28.3h0M109.6 145.0h0M106.7 140.7h0M109.2 146.1h0M101.8 118.6h0M91.4 124.0h0M106.5 137.5h0M112.6 107.6h0M105.8 128.6h0M112.0 123.1h0M103.3 117.2h0M140.8 122.9h0M106.2 142.2h0M104.9 144.5h0M119.2 25.7h0M111.6 141.1h0M111.5 128.3h0M85.8 118.5h0M107.5 144.0h0M130.7 70.9h0M100.0 143.3h0M112.1 138.3h0M116.4 124.5h0M112.1 118.0h0M108.7 148.8h0M98.1 115.3h0M121.5 59.2h0M111.0 128.0h0M110.8 134.1h0M97.4 102.9h0M106.5 137.5h0M80.1 103.1h0M108.1 147.4h0M106.8 140.0h0M109.3 147.4h0M108.9 147.9h0M104.9 128.9h0M112.6 111.7h0M104.2 130.6h0M109.8 141.3h0M102.6 142.4h0M106.3 143.0h0M106.9 144.2h0M106.9 145.9h0M104.7 137.2h0M111.3 138.9h0M105.6 126.0h0M113.8 92.6h0M109.6 143.2h0M114.2 133.6h0M111.0 144.5h0M105.5 144.4h0M109.6 142.8h0M96.5 141.0h0M107.2 147.1h0M99.3 39.5h0M120.1 74.4h0M118.3 130.1h0M110.5 138.7h0M111.5 130.4h0M110.3 139.2h0M114.8 125.5h0M107.3 142.1h0M108.5 148.9h0M104.4 138.9h0M107.5 147.1h0M107.9 147.7h0M118.2 64.0h0M106.8 147.4h0M106.7 138.4h0M111.5 135.2h0M112.3 136.9h0M98.7 107.7h0M102.3 141.3h0M120.2 131.2h0M114.1 92.3h0M113.5 141.9h0M110.6 133.4h0M107.3 146.9h0M102.5 115.3h0M110.2 143.4h0M121.5 134.4h0M110.8 144.9h0M118.8 140.4h0M106.4 142.5h0M123.1 19.3h0M116.5 42.3h0M118.9 140.8h0M126.1 136.3h0M112.5 140.7h0M111.8 130.2h0M107.9 148.1h0M101.4 141.0h0M106.5 137.6h0M97.4 135.4h0M109.1 146.5h0M99.7 121.4h0M132.0 131.9h0M77.1 122.4h0M114.2 75.8h0M103.0 112.1h0M111.9 134.2h0M107.5 146.3h0M112.9 121.6h0M101.2 135.2h0M97.2 135.0h0M107.5 144.0h0M137.7 88.3h0M101.7 130.1h0M105.0 145.4h0M112.3 136.5h0M113.4 146.0h0M112.1 139.0h0M100.7 123.4h0M88.4 130.1h0M110.9 137.7h0M109.3 144.9h0M90.5 47.4h0M107.7 144.5h0M109.2 145.5h0M104.3 107.8h0M105.7 131.4h0M99.8 96.8h0M114.3 71.4h0M105.7 138.0h0M104.1 141.5h0M102.4 108.0h0M111.4 136.2h0M112.9 123.2h0M107.2 142.3h0M103.8 96.0h0M71.8 89.9h0M99.2 107.5h0M112.3 139.0h0M106.5 135.7h0M114.7 123.0h0M98.5 39.6h0M105.8 131.2h0M107.4 144.3h0M101.1 109.4h0M106.5 144.9h0M109.5 144.0h0M107.9 145.9h0M108.6 148.4h0M110.5 142.4h0M122.6 119.6h0M102.5 122.0h0M109.7 143.6h0M117.2 101.1h0M108.0 147.3h0M101.4 132.2h0M108.1 147.7h0M112.9 143.6h0M108.1 148.4h0M115.6 82.9h0M107.3 142.1h0M106.2 143.5h0M106.1 142.7h0M113.3 142.5h0M98.1 111.2h0M94.7 51.5h0M108.5 148.8h0M105.1 135.5h0M109.4 144.6h0M104.0 96.1h0M87.9 93.1h0M109.6 143.4h0M115.6 118.0h0M107.4 143.4h0M100.5 142.8h0M112.4 138.4h0M102.8 139.7h0M113.0 124.2h0M109.8 143.0h0M113.7 144.2h0M96.2 93.3h0M115.5 57.6h0M117.0 134.0h0M108.0 147.9h0M108.2 148.6h0M105.5 139.0h0M100.1 142.4h0M112.4 141.4h0M116.1 88.6h0M103.2 106.1h0M95.9 96.9h0M113.4 130.8h0M111.9 142.5h0M100.8 142.7h0M109.0 147.5h0M107.4 143.2h0M123.8 128.4h0M110.8 133.3h0M107.9 147.7h0M110.6 135.3h0M110.9 147.0h0M106.4 146.5h0M109.9 143.1h0M125.2 87.9h0M112.3 109.3h0M105.7 142.2h0M116.6 118.3h0M112.3 141.7h0M104.1 133.7h0M112.2 116.3h0M112.3 143.1h0M80.7 61.0h0M105.2 134.2h0M109.1 145.8h0M106.2 135.3h0M113.8 133.8h0M120.4 82.3h0M107.0 147.4h0M106.5 142.9h0M110.4 139.1h0M104.2 143.1h0M107.0 140.5h0M115.1 131.6h0M102.8 74.5h0M110.0 145.1h0M104.8 144.5h0M105.7 131.7h0M108.4 148.6h0M108.8 147.8h0M111.8 136.7h0M109.6 146.6h0M109.3 145.5h0M114.1 129.8h0M96.2 125.0h0M112.9 133.3h0M101.7 145.4h0M113.0 132.5h0M117.0 74.1h0M118.0 137.5h0M118.6 79.7h0M107.5 144.0h0M119.9 85.2h0M110.1 147.0h0M114.1 119.4h0M105.4 127.9h0M108.5 148.8h0M111.8 119.4h0M106.1 129.5h0M104.6 117.9h0M112.2 115.4h0M103.5 103.2h0M112.2 139.5h0M116.5 141.8h0M94.4 126.1h0M107.1 144.0h0M102.4 142.1h0M96.7 97.4h0M107.3 145.3h0M104.9 128.6h0M114.4 130.9h0M99.8 140.7h0M111.3 142.7h0M123.2 53.5h0M109.2 145.2h0M107.1 145.0h0M108.2 147.8h0M101.4 143.4h0M99.2 101.4h0M121.0 21.5h0M105.9 139.1h0M109.0 146.6h0M120.5 98.3h0M108.9 148.4h0M117.6 50.4h0M108.6 148.3h0M102.3 120.0h0M108.0 146.5h0M92.9 75.9h0M109.3 145.3h0M115.1 100.0h0M107.3 143.0h0M118.1 108.5h0M124.6 135.0h0M111.4 142.3h0M109.1 145.9h0M106.3 147.2h0M107.1 143.3h0M111.0 130.7h0M94.9 108.0h0M124.4 62.9h0M108.7 148.1h0M112.4 146.4h0M118.3 16.3h0M110.1 145.2h0M131.8 128.8h0M106.9 147.3h0M102.6 132.0h0M110.7 145.2h0M123.8 137.3h0M110.8 143.0h0M99.3 142.5h0M113.9 137.8h0M78.4 55.2h0M98.3 46.9h0M93.5 46.0h0M107.6 145.5h0M110.2 146.7h0M105.5 128.5h0M118.5 130.4h0M126.4 31.0h0M114.2 74.9h0M102.2 74.0h0M103.5 141.9h0M104.8 118.8h0M104.1 106.8h0M97.1 41.9h0M99.8 139.7h0M116.0 100.3h0M113.1 145.3h0M97.3 89.0h0M111.5 142.6h0M94.0 66.9h0M120.1 38.9h0M118.6 136.1h0M108.2 147.9h0M104.2 140.0h0M106.4 139.7h0M101.7 114.1h0M114.6 124.7h0M121.7 84.3h0M109.4 145.7h0M106.0 134.7h0M107.5 145.6h0M108.7 148.6h0M112.9 99.9h0M103.4 136.0h0M110.1 145.6h0M109.3 147.1h0M111.1 138.8h0M118.2 103.0h0M119.6 134.9h0M102.6 128.5h0M103.1 138.0h0M101.7 139.8h0M107.0 142.4h0M109.9 143.5h0M102.7 134.7h0M100.2 126.1h0M116.8 102.2h0M108.7 147.8h0M117.7 120.8h0M88.9 127.3h0M126.9 114.9h0M111.7 117.8h0M94.8 21.5h0M108.0 146.3h0M124.7 55.5h0M101.6 137.9h0M97.7 74.9h0M106.7 137.6h0M97.6 81.9h0M113.4 88.0h0M110.7 139.9h0M103.7 114.3h0M102.4 96.9h0M112.7 103.3h0M108.5 148.7h0M116.4 127.0h0M104.9 139.0h0M109.8 147.2h0M112.1 117.0h0M112.4 145.2h0M113.0 140.9h0M115.6 139.2h0M113.1 140.2h0M111.0 145.0h0M102.0 117.6h0M110.7 137.6h0M107.2 143.2h0M107.0 143.7h0M109.0 146.4h0M114.7 136.5h0M98.8 117.4h0M105.5 131.8h0M101.3 120.6h0M102.2 74.1h0M101.6 44.0h0M105.7 136.8h0M110.5 137.8h0M111.3 133.5h0M123.6 127.5h0M104.9 111.4h0M103.3 134.9h0M109.2 148.6h0M101.7 112.1h0M106.4 135.2h0M108.9 148.0h0M92.2 137.5h0M105.5 137.1h0M108.3 148.5h0M102.2 128.1h0M112.5 123.8h0M108.1 148.6h0M100.3 98.3h0M108.2 147.6h0M107.9 147.0h0M108.5 148.9h0M113.7 137.1h0M110.3 138.3h0M104.8 140.8h0M105.8 126.5h0M95.9 131.1h0M113.2 116.0h0M108.1 147.3h0M114.3 128.1h0M104.5 137.7h0M110.3 139.0h0M114.7 102.9h0M106.8 147.1h0M105.0 127.7h0M97.7 140.1h0M103.0 138.4h0M107.8 147.5h0M111.7 127.4h0M108.8 147.4h0M108.7 148.4h0M107.3 147.4h0M105.8 145.0h0M105.0 140.2h0M110.8 147.5h0M100.7 107.1h0M94.7 23.9h0M120.2 101.0h0M111.0 142.4h0M98.8 120.8h0M153.5 68.0h0M107.1 148.3h0M103.3 143.6h0M100.1 85.3h0M112.0 140.6h0M105.1 123.5h0M113.1 142.8h0M111.3 132.4h0M129.9 126.4h0M110.9 141.0h0M113.0 144.6h0M102.0 97.0h0M107.5 145.0h0M113.4 141.9h0M110.7 143.6h0M116.2 133.5h0M108.8 147.8h0M115.0 142.3h0M110.5 142.4h0M92.9 82.3h0M100.1 144.2h0M123.0 45.2h0M110.1 144.4h0M108.6 148.4h0M105.2 144.9h0M101.5 140.7h0M111.2 131.5h0M115.6 130.4h0M97.8 129.3h0M110.0 139.8h0M109.8 143.6h0M107.9 146.1h0M110.5 136.5h0M113.2 142.9h0M89.3 118.9h0M105.2 126.0h0M107.3 144.3h0M99.7 132.1h0M115.2 138.0h0M106.5 147.3h0M112.6 145.1h0M115.0 81.1h0M106.8 147.9h0M108.7 148.0h0M114.6 140.2h0M106.7 144.6h0M112.7 122.6h0M105.3 121.1h0M104.9 146.5h0M109.3 145.3h0M94.5 28.2h0M115.1 130.1h0M105.5 143.9h0M109.1 147.6h0M108.8 147.5h0M104.7 131.4h0M109.3 144.7h0M109.0 147.3h0M107.9 147.6h0M102.1 84.0h0M110.7 141.5h0M109.3 144.5h0M85.7 11.7h0M94.8 121.0h0M108.9 148.1h0M107.9 146.2h0M112.0 146.0h0M102.8 70.8h0M115.2 124.2h0M111.6 120.4h0M107.5 147.3h0M109.2 147.6h0M92.0 68.1h0M105.0 135.8h0M108.6 148.8h0M115.2 136.9h0M119.8 125.7h0M103.3 139.2h0M102.0 139.8h0M101.9 53.9h0M109.9 147.4h0M107.3 143.7h0M113.8 123.7h0M106.6 145.4h0M104.4 115.6h0M108.7 148.1h0M106.7 146.6h0M106.8 138.8h0M108.3 148.3h0M78.1 104.1h0M109.8 144.5h0M111.9 119.5h0M114.5 81.2h0M113.5 137.0h0M109.9 144.4h0M103.3 125.6h0M96.8 11.3h0M108.9 147.1h0M102.3 58.3h0M105.9 128.8h0M107.2 141.2h0M127.3 100.4h0M105.9 144.0h0M108.1 148.3h0M107.4 142.6h0M98.3 132.8h0M109.5 148.3h0M116.9 118.1h0M98.4 115.6h0M109.1 148.2h0M106.1 128.9h0M107.5 143.9h0M88.6 128.3h0M108.0 146.7h0M81.7 110.2h0M108.6 148.6h0M87.2 88.2h0M96.4 138.1h0M90.5 20.0h0M104.9 132.7h0M114.8 55.6h0M102.7 95.4h0M107.6 144.1h0M112.0 133.4h0M106.9 143.8h0M110.4 136.3h0M111.2 145.9h0M113.0 129.9h0M110.1 144.4h0M107.9 145.5h0M114.4 133.7h0M107.0 140.3h0M115.2 141.7h0M116.6 86.6h0M110.4 147.0h0M112.6 147.0h0M108.5 148.9h0M107.9 146.7h0M109.9 139.9h0M91.4 128.3h0M101.7 139.3h0M105.1 139.4h0M107.6 146.8h0M106.1 133.4h0M127.6 98.8h0M104.0 143.2h0M106.7 137.7h0M110.1 140.8h0M118.7 97.1h0M94.1 55.3h0M110.5 141.1h0M104.7 117.8h0M107.7 145.7h0M109.9 141.4h0M100.8 144.3h0M129.4 35.7h0M104.1 139.6h0M104.7 141.5h0M105.7 136.7h0M104.4 137.5h0M109.0 146.5h0M108.9 147.1h0M96.6 16.4h0M103.2 133.2h0M107.2 142.7h0M97.7 59.1h0M101.2 135.6h0M109.1 148.3h0M109.0 148.1h0M108.3 148.8h0M102.1 120.6h0M104.7 146.1h0M122.0 22.3h0M109.7 146.7h0M109.9 148.0h0M109.9 147.5h0M107.6 147.0h0M106.7 147.5h0M106.3 141.6h0M116.5 19.2h0M111.4 144.1h0M107.4 143.5h0M111.8 143.8h0M90.2 137.1h0M125.0 18.4h0M101.8 75.4h0M109.2 145.9h0M100.9 61.3h0M109.6 142.9h0M110.5 145.0h0M109.0 146.2h0M110.2 146.9h0M112.5 136.1h0M114.6 143.4h0M123.2 131.2h0M108.0 147.4h0M108.7 148.8h0M96.0 123.0h0M105.2 131.5h0M103.3 111.3h0M137.8 84.9h0M104.5 144.5h0M114.1 126.5h0M92.3 129.6h0M131.2 109.7h0M156.9 91.7h0M105.4 131.7h0M116.1 70.6h0M105.0 121.4h0M117.7 58.0h0M99.2 127.9h0M108.5 148.8h0M117.6 121.2h0M110.1 139.4h0M104.6 137.8h0M110.7 138.0h0M110.5 145.0h0M108.6 148.4h0M109.5 143.7h0M107.5 147.0h0M113.6 143.9h0M101.2 33.2h0M117.2 132.4h0M94.6 95.3h0M105.2 121.1h0M110.2 144.5h0M113.3 93.7h0M105.8 142.3h0M93.5 65.7h0M110.7 145.6h0M109.8 145.6h0M111.2 136.0h0M101.6 114.8h0M94.2 80.0h0M106.3 139.1h0M113.8 89.8h0M103.4 118.2h0M109.2 145.9h0M108.1 146.9h0M104.5 105.4h0M106.3 145.3h0M101.7 88.8h0M103.9 106.3h0M104.0 114.1h0M109.0 148.1h0M112.4 147.0h0M100.1 67.5h0M109.3 144.3h0M110.1 145.2h0M95.8 130.7h0M116.1 139.3h0M121.8 137.9h0M117.3 92.3h0M117.0 143.1h0M112.6 143.0h0M115.0 61.1h0M112.2 130.3h0M107.5 146.9h0M108.7 148.7h0M102.5 141.6h0M110.2 146.9h0M107.9 146.7h0M94.3 113.3h0M109.7 145.3h0M127.6 21.2h0M100.1 120.4h0M99.5 44.9h0M106.7 143.6h0M110.1 138.6h0M103.1 82.5h0M112.4 133.5h0M79.9 110.3h0M102.4 85.0h0M112.0 129.9h0M93.3 85.4h0M119.9 87.4h0M104.6 145.9h0M109.5 145.6h0M108.8 147.5h0M108.8 147.8h0M107.0 145.8h0M108.3 148.2h0M104.5 143.7h0M109.1 146.2h0M108.2 148.5h0M110.7 144.3h0M115.2 133.1h0M116.0 142.3h0M117.1 140.3h0M111.0 136.0h0M117.0 67.9h0M102.4 141.9h0M99.6 138.5h0M109.2 145.8h0M108.6 148.6h0M108.0 147.9h0M108.0 148.7h0M118.8 137.4h0M107.8 148.1h0M112.8 125.5h0M115.9 33.2h0M117.9 124.5h0M117.1 137.8h0M112.6 134.7h0M111.6 146.3h0M104.1 99.4h0M108.8 148.0h0M100.8 43.6h0M112.8 103.1h0M111.0 145.6h0M106.2 146.8h0M108.6 148.7h0M105.4 144.4h0M105.0 146.3h0M108.2 148.0h0M106.6 135.0h0M106.5 141.5h0M113.6 138.5h0M108.3 148.5h0M108.9 148.4h0M129.1 111.2h0M110.5 141.0h0M94.4 11.2h0M110.1 142.4h0M104.4 136.9h0M112.5 144.9h0M110.7 136.1h0M107.2 147.9h0M109.8 145.6h0M114.5 63.6h0M108.6 148.5h0M110.6 143.3h0M112.9 136.4h0M105.7 146.6h0M109.2 145.0h0M105.6 146.6h0M106.3 142.6h0M92.7 20.2h0M102.0 120.9h0M104.5 138.0h0M106.2 135.6h0M125.8 11.5h0M97.4 134.1h0M127.4 131.0h0M110.2 138.5h0M107.1 143.6h0M110.9 131.6h0M114.4 96.5h0M110.0 145.6h0M114.2 142.2h0M109.1 145.6h0M110.6 134.0h0M108.6 148.5h0M98.6 107.7h0M107.2 141.4h0M106.4 137.2h0M118.3 131.6h0M106.7 137.6h0M109.4 144.8h0M111.4 138.1h0M107.7 146.7h0M104.2 142.4h0M113.8 115.1h0M105.4 142.1h0M112.3 146.0h0M104.8 140.0h0M112.2 137.7h0M87.5 133.1h0M109.6 143.1h0M106.4 139.4h0M107.7 147.3h0M120.9 78.4h0M108.3 148.4h0M113.2 146.1h0M103.0 143.7h0M111.4 139.6h0M112.5 135.4h0M107.8 146.8h0M112.1 118.0h0M120.0 102.0h0M107.7 146.6h0M103.5 95.5h0M103.9 101.6h0M107.4 146.8h0M110.3 139.0h0M107.9 147.1h0M95.5 140.3h0M90.1 80.1h0M116.7 92.1h0M110.0 139.8h0M114.4 141.1h0M88.5 127.9h0M113.1 135.0h0M111.3 127.5h0M107.9 147.9h0M109.9 142.3h0M102.3 106.9h0M103.4 96.2h0M110.8 141.9h0M106.4 141.7h0M115.3 131.8h0M99.1 112.1h0M110.7 139.1h0M109.3 145.8h0M88.4 130.4h0M110.5 138.5h0M107.1 140.8h0M99.2 124.7h0M109.0 147.6h0M115.5 42.4h0M115.8 136.9h0M113.6 138.7h0M94.8 38.9h0M109.4 146.2h0M109.3 145.4h0M113.2 135.2h0M102.9 137.5h0M109.2 145.9h0M105.8 134.0h0M107.4 147.3h0M122.8 97.5h0M112.4 138.4h0M115.5 142.9h0M109.3 145.3h0M139.0 100.4h0M108.3 148.6h0M117.3 92.4h0M109.9 142.4h0M103.0 105.4h0M107.2 145.8h0M105.3 141.1h0M107.0 140.4h0M104.1 146.3h0M108.6 148.9h0M101.8 122.8h0M108.3 148.7h0M99.5 141.9h0M116.4 143.7h0M112.4 144.8h0M105.3 137.1h0M118.7 137.4h0M106.4 135.2h0M109.3 147.9h0M107.9 148.1h0M107.6 144.9h0M109.0 146.5h0M109.8 142.7h0M105.5 135.8h0M102.9 145.2h0M101.9 134.7h0M126.0 12.4h0M127.0 60.1h0M102.3 111.9h0M112.2 134.8h0M143.3 105.5h0M115.1 137.5h0M108.5 148.9h0M102.2 140.0h0M111.9 125.9h0M111.1 147.5h0M100.9 122.6h0M105.0 133.7h0M110.3 135.5h0M99.8 139.6h0M91.9 133.7h0M113.2 101.8h0M111.2 140.1h0M111.0 143.1h0M98.6 141.3h0M112.5 144.8h0M111.3 147.5h0M106.0 132.7h0M113.3 136.8h0M105.0 136.9h0M111.1 132.3h0M119.1 110.6h0M104.0 142.6h0M109.4 148.3h0M109.2 148.1h0M115.6 110.8h0M108.7 148.8h0M114.4 140.7h0M106.2 131.4h0M117.9 67.5h0M108.3 148.1h0M108.4 148.5h0M99.7 81.3h0M107.8 145.4h0M110.0 145.5h0M106.3 137.5h0M104.6 143.4h0M110.0 143.3h0M106.4 134.7h0M111.9 139.8h0M101.7 119.2h0M107.9 145.9h0M109.5 144.8h0M98.3 110.3h0M127.4 128.8h0M106.5 146.8h0M109.5 145.7h0M109.2 145.0h0M96.7 61.7h0M93.9 118.2h0M108.2 148.6h0M105.0 147.0h0M104.1 145.5h0M108.2 147.5h0M109.0 147.8h0M128.5 131.9h0M110.0 145.4h0M100.6 140.4h0M107.4 143.1h0M106.4 144.1h0M125.7 121.3h0M101.6 95.9h0M105.1 143.5h0M105.9 133.3h0M113.1 112.2h0M117.2 134.9h0M113.3 143.9h0M112.6 139.2h0M106.0 145.1h0M102.9 144.5h0M111.6 144.6h0M106.2 134.7h0M92.2 93.8h0M108.2 148.4h0M104.3 132.2h0M89.3 57.0h0M107.0 146.0h0M114.6 98.5h0M109.5 146.5h0M110.5 136.8h0M109.2 145.8h0M103.1 141.3h0M112.2 139.1h0M109.6 145.5h0M106.1 128.7h0M107.9 145.6h0M109.7 146.6h0M105.2 140.4h0M112.6 140.2h0M122.6 138.8h0M113.2 139.5h0M95.7 54.1h0M99.6 126.7h0M101.6 138.0h0M101.9 61.1h0M106.2 132.7h0M109.6 143.5h0M114.7 96.7h0M110.5 140.3h0M113.2 93.4h0M109.8 144.5h0M94.5 83.8h0M148.3 17.9h0M110.4 141.3h0M102.0 59.1h0M120.6 131.3h0M100.0 142.1h0M108.8 148.6h0M99.4 135.5h0M102.4 131.2h0M112.5 125.4h0M106.3 138.9h0M106.0 131.1h0M105.6 129.6h0M109.3 148.4h0M104.9 131.4h0M121.3 84.5h0M109.7 141.5h0M106.4 134.0h0M111.1 135.1h0M105.2 123.9h0M113.4 113.8h0M82.8 94.2h0M107.0 139.4h0M110.5 136.0h0M109.0 146.5h0M119.2 128.6h0M117.5 124.4h0M142.2 96.6h0M102.3 136.3h0M110.3 138.1h0M119.5 138.8h0M91.9 52.9h0M133.5 125.5h0M105.2 120.9h0M110.3 141.1h0M108.6 148.3h0M107.7 146.1h0M103.3 122.2h0M92.0 40.2h0M111.7 146.4h0M112.1 131.1h0M109.5 145.8h0M106.6 145.6h0M88.9 83.0h0M100.1 60.5h0M94.5 94.7h0M113.2 124.7h0M105.7 144.2h0M115.9 119.2h0M106.4 144.8h0M103.2 144.9h0M98.2 107.5h0M95.1 136.0h0M107.0 139.2h0M112.3 113.6h0M106.7 142.2h0M114.9 94.3h0M117.3 139.6h0M98.7 100.7h0M106.8 139.4h0M104.5 138.6h0M82.1 123.1h0M110.1 145.2h0M120.9 136.8h0M116.7 70.4h0M109.0 147.2h0M112.7 115.6h0M104.7 146.0h0M98.0 97.4h0M114.6 105.0h0M105.9 142.9h0M116.4 50.4h0M101.8 128.7h0M110.0 140.0h0M105.0 144.0h0M109.5 144.0h0M106.7 145.6h0M106.8 136.4h0M109.6 146.6h0M111.3 145.4h0M99.1 128.2h0M105.6 127.1h0M87.4 116.8h0M110.0 144.6h0M107.8 147.4h0M112.6 106.6h0M113.2 141.5h0M109.5 146.2h0M105.5 141.9h0M108.0 146.6h0M117.4 76.5h0M97.5 135.1h0M105.1 142.6h0M107.3 145.9h0M102.3 65.8h0M110.8 132.3h0M103.7 142.7h0M112.4 146.0h0M107.9 146.4h0M103.9 125.6h0M104.4 139.0h0M112.1 122.6h0M113.8 88.6h0M89.3 129.8h0M107.9 145.7h0M108.1 147.3h0M111.6 140.7h0M106.8 139.2h0M109.9 146.2h0M107.1 144.3h0M106.1 141.5h0M113.4 143.0h0M107.7 145.2h0M125.3 49.4h0M106.9 147.4h0M107.7 147.6h0M112.8 135.5h0M107.9 148.2h0M117.0 65.6h0M102.4 129.6h0M121.7 110.8h0M110.0 140.7h0M112.4 145.9h0M116.2 76.6h0M108.7 148.1h0M106.7 142.9h0M108.8 147.6h0M114.7 137.7h0M113.4 89.6h0M113.7 127.0h0M122.2 33.7h0M113.5 140.5h0M94.9 132.2h0M103.8 98.1h0M102.2 114.2h0M95.3 137.9h0M109.3 145.5h0M108.0 146.3h0M104.7 125.9h0M106.7 137.3h0M113.8 139.4h0M106.9 141.8h0M112.0 128.0h0M107.7 144.9h0M116.6 125.4h0M106.5 139.8h0M107.0 145.5h0M108.5 148.9h0M100.8 37.6h0M112.8 124.0h0M109.8 145.5h0M112.0 120.8h0M119.8 104.2h0M115.5 121.7h0M106.6 141.0h0M109.7 147.7h0M109.9 142.5h0M112.7 133.7h0M109.7 144.1h0M107.8 146.3h0M113.8 133.4h0M114.5 123.3h0M106.7 137.5h0M108.0 147.9h0M95.7 82.2h0M116.0 74.0h0M107.5 147.3h0M108.4 148.5h0M108.1 148.5h0M106.7 142.3h0M91.2 112.9h0M119.1 94.6h0M85.6 100.2h0M103.2 117.1h0M106.1 141.0h0M92.7 133.0h0M109.3 147.9h0M103.9 144.8h0M114.0 141.1h0M99.7 10.4h0M97.3 116.6h0M107.7 147.4h0M147.2 94.4h0M114.5 116.9h0M108.1 146.8h0M106.7 142.1h0M110.8 137.8h0M101.8 107.2h0M104.8 132.3h0M110.2 145.3h0M83.2 72.5h0M108.3 148.4h0M110.6 135.9h0M108.7 148.1h0M120.3 91.7h0M109.6 145.7h0M117.0 55.6h0M104.5 146.3h0M109.0 147.3h0M113.1 143.9h0M115.7 132.9h0M104.5 118.3h0M103.0 82.3h0M94.7 90.4h0M103.6 138.6h0M107.9 147.6h0M102.3 123.7h0M111.4 128.8h0M105.1 141.2h0M90.6 53.3h0M87.0 20.0h0M106.8 138.8h0M118.5 97.5h0M96.9 95.1h0M112.4 122.7h0M110.6 141.5h0M94.2 60.3h0M116.6 139.2h0M123.0 71.7h0M111.4 145.6h0M102.4 134.9h0M106.9 141.2h0M102.5 128.5h0M112.8 145.1h0M89.4 97.5h0M105.0 141.3h0M113.5 134.2h0M121.9 100.9h0M110.5 144.7h0M105.7 129.7h0M107.9 148.1h0M104.1 142.4h0M106.3 145.2h0M120.3 140.9h0M111.9 142.2h0M104.3 134.3h0M104.4 128.2h0M121.3 47.9h0M102.8 74.3h0M116.8 130.6h0M107.3 146.8h0M116.7 143.0h0M107.7 145.3h0M113.8 119.4h0M79.7 126.2h0M110.9 142.9h0M111.3 144.6h0M111.0 138.9h0M105.6 143.5h0M103.9 132.9h0M112.1 126.4h0M107.3 145.9h0M109.8 143.5h0M101.3 128.5h0M99.6 137.3h0M110.9 144.0h0M110.8 139.6h0M111.3 142.2h0M112.3 137.7h0M107.9 148.2h0M107.8 148.3h0M109.2 145.5h0M116.0 126.6h0M99.5 104.4h0M106.2 141.4h0M105.4 144.6h0M104.7 122.5h0M106.2 133.4h0M109.5 143.9h0M118.4 106.4h0M109.3 147.7h0M99.6 60.4h0M105.7 128.5h0M101.1 139.7h0M121.0 140.7h0M105.2 137.3h0M117.9 130.8h0M107.3 142.0h0M101.7 144.0h0M107.8 146.2h0M109.7 142.5h0M114.4 64.1h0M119.4 140.3h0M115.9 138.3h0M109.0 148.2h0M113.1 115.1h0M112.3 140.4h0M108.4 148.7h0M112.4 137.9h0M109.8 147.1h0M104.9 124.3h0M116.2 140.4h0M113.9 127.2h0M106.3 144.1h0M110.0 146.0h0M87.7 15.4h0M113.8 125.8h0M99.7 76.8h0M108.0 146.3h0M107.3 141.6h0M103.3 82.0h0M100.9 58.1h0M104.4 104.4h0M110.8 143.1h0M101.9 106.2h0M113.8 87.6h0M105.6 129.8h0M109.1 147.3h0M105.0 117.7h0M111.6 144.4h0M118.5 129.0h0M112.9 104.1h0M109.7 147.4h0M108.7 148.4h0M111.8 141.7h0M88.3 43.7h0M121.0 99.0h0M116.0 109.6h0M108.7 148.0h0M109.3 146.8h0M103.4 141.3h0M95.5 132.0h0M119.3 121.7h0M105.7 128.8h0M105.4 141.0h0M111.3 131.6h0M117.5 61.6h0M120.9 97.4h0M99.2 64.4h0M113.0 130.6h0M110.6 147.4h0M90.4 130.0h0M98.5 85.6h0M105.2 125.1h0M108.0 148.0h0M110.2 138.6h0M123.5 128.3h0M109.8 147.6h0M109.3 147.2h0M101.0 48.0h0M108.2 147.6h0M113.6 98.2h0M108.3 148.2h0M109.5 146.2h0M112.9 139.8h0M118.5 65.0h0M112.0 141.5h0M108.0 147.0h0M105.6 136.4h0M116.2 133.3h0M108.7 148.0h0M110.2 137.3h0M99.5 103.2h0M99.8 78.8h0M108.0 147.7h0M107.9 145.9h0M100.7 112.3h0M109.8 143.7h0M112.0 129.3h0M109.0 147.6h0M103.9 131.0h0M108.1 146.8h0M111.2 130.1h0M104.2 145.7h0M99.2 132.7h0M107.9 145.6h0M103.4 128.5h0M107.7 146.1h0M98.9 55.0h0M100.1 127.1h0M93.5 106.1h0M104.6 126.3h0M108.2 147.9h0M128.1 28.9h0M109.6 145.2h0M107.9 147.9h0M116.8 92.0h0M98.0 123.2h0M101.0 118.2h0M113.3 130.3h0M106.7 146.8h0M116.2 111.0h0M105.9 133.7h0M108.6 148.8h0M112.6 135.2h0M110.1 148.1h0M110.9 144.1h0M115.9 123.0h0M109.7 144.8h0M95.7 124.9h0M109.0 147.8h0M110.0 146.7h0M97.8 140.8h0M108.0 146.9h0M109.5 145.7h0M109.8 144.4h0M105.2 141.8h0M109.8 141.7h0M110.0 145.2h0M120.7 141.0h0M106.7 142.2h0M109.8 142.1h0M113.8 125.1h0M110.1 146.6h0M93.7 133.4h0M113.5 115.5h0M103.4 141.1h0M108.2 147.5h0M109.9 143.0h0M95.8 131.8h0M95.9 109.3h0M108.3 148.2h0M109.3 144.7h0M110.2 142.5h0M103.8 103.2h0M100.7 141.0h0M106.7 139.1h0M103.0 113.9h0M110.1 148.0h0M110.5 137.2h0M115.1 141.2h0M118.5 140.0h0M101.8 132.7h0M107.3 145.2h0M83.9 84.6h0M109.4 144.1h0M107.8 146.6h0M112.1 133.5h0M96.0 42.4h0M119.1 134.1h0M103.7 94.7h0M110.6 142.5h0M124.6 96.0h0M114.0 130.4h0M106.2 133.3h0M111.0 143.2h0M104.7 135.9h0M110.0 140.3h0M105.4 136.9h0M105.3 127.2h0M100.7 39.2h0M114.6 133.0h0M110.8 142.1h0M107.4 147.5h0M106.6 137.8h0M107.3 143.1h0M109.8 143.7h0M94.5 137.9h0M105.6 128.0h0M100.9 123.6h0M111.9 127.5h0M105.8 128.1h0M107.5 147.8h0M136.9 86.1h0M103.0 134.3h0M108.5 148.9h0M115.1 138.1h0M93.6 116.7h0M106.7 143.0h0M111.6 137.9h0M109.6 144.1h0M110.3 143.1h0M109.6 144.8h0M106.5 146.5h0M110.6 138.5h0M114.5 132.1h0M100.7 142.6h0M108.2 147.7h0M77.4 106.5h0M102.4 70.4h0M107.8 148.4h0M108.1 148.3h0M111.2 134.5h0M102.1 114.9h0M102.3 102.9h0M119.2 108.5h0M109.3 146.1h0M113.1 116.6h0M113.7 141.3h0M106.7 145.4h0M109.0 148.0h0M109.2 147.5h0M108.3 148.4h0M96.7 85.6h0M108.4 148.5h0M91.3 38.4h0M117.5 138.5h0M106.3 146.0h0M118.1 126.1h0M117.4 106.6h0M101.9 136.8h0M109.7 146.9h0M113.4 103.7h0M105.7 143.8h0M97.3 136.2h0M103.6 146.5h0M102.8 134.4h0M120.0 86.9h0M109.6 146.5h0M109.5 144.1h0M107.1 143.6h0M108.1 148.3h0M102.2 128.8h0M102.5 127.5h0M107.2 141.7h0M115.9 43.4h0M109.5 146.7h0M121.3 68.4h0M135.8 128.2h0M95.1 88.3h0M109.8 144.6h0M99.5 94.8h0M109.7 143.2h0M110.3 146.1h0M103.6 126.9h0M109.7 145.1h0M106.6 146.8h0M108.5 148.8h0M111.6 127.7h0M102.5 131.9h0M119.2 93.0h0M115.7 73.4h0M92.2 128.6h0M114.7 70.8h0M100.0 140.2h0M103.5 139.7h0M109.5 144.4h0M110.5 136.8h0M106.8 144.2h0M109.5 142.4h0M109.5 143.5h0M105.7 133.2h0M109.1 146.9h0M106.8 141.9h0M109.0 146.7h0M112.8 102.3h0M108.3 148.1h0M110.4 147.2h0M117.8 140.4h0M112.9 143.0h0M107.8 145.3h0M108.4 148.6h0M95.9 130.1h0M100.3 141.5h0M104.8 142.3h0M124.3 53.4h0M114.3 131.8h0M109.2 148.5h0M104.7 136.8h0M108.6 148.8h0M143.0 81.1h0M113.6 129.5h0M96.3 109.8h0M96.3 91.8h0M102.4 114.8h0M88.5 126.5h0M107.0 139.1h0M114.4 112.4h0M99.1 96.0h0M88.8 116.2h0M113.7 129.7h0M110.1 138.8h0M104.2 140.2h0M111.4 145.8h0M95.1 141.0h0M117.7 32.5h0M107.8 146.5h0M117.1 68.5h0M108.9 147.7h0M107.6 145.5h0M113.3 97.8h0M89.1 126.7h0M114.0 89.2h0M112.7 138.0h0M105.6 134.9h0M112.6 136.8h0M111.5 124.2h0M111.4 140.5h0M117.4 141.4h0M128.2 128.4h0M107.9 145.9h0M114.9 143.3h0M105.8 137.7h0M110.7 135.9h0M112.9 131.6h0M103.9 92.9h0M105.9 140.6h0M107.4 142.9h0M107.4 144.6h0M102.7 90.6h0M146.0 113.3h0M108.5 148.8h0M135.5 82.9h0M121.7 130.2h0M114.1 141.5h0M103.5 120.2h0M116.7 54.1h0M100.2 132.9h0M109.7 145.5h0M114.5 144.2h0M109.2 146.0h0M113.4 145.7h0M99.7 92.5h0M105.3 118.7h0M89.5 120.1h0M106.7 142.0h0M109.8 145.2h0M112.5 112.0h0M116.5 141.0h0M108.9 148.0h0M107.9 147.5h0M106.3 144.4h0M114.7 113.6h0M106.9 139.3h0M107.8 145.2h0M113.9 137.9h0M110.7 132.3h0M109.9 146.1h0M107.0 140.1h0M108.5 148.9h0M113.4 143.3h0M105.6 122.2h0M110.2 142.4h0M108.1 147.2h0M102.3 113.9h0M114.2 133.6h0M99.9 139.7h0M106.2 132.7h0M108.5 148.8h0M110.2 144.5h0M104.3 118.6h0M116.3 116.5h0M106.2 143.7h0M108.3 148.0h0M109.3 145.0h0M103.8 133.6h0M106.7 140.8h0M100.8 130.0h0M97.7 103.1h0M111.5 139.6h0M102.8 143.8h0M112.1 134.8h0M110.7 139.3h0M105.8 137.1h0M109.7 143.6h0M106.7 139.1h0M110.0 140.1h0M124.6 120.7h0M114.0 102.0h0M111.6 141.0h0M102.2 132.9h0M101.2 32.3h0M106.9 146.4h0M106.2 138.8h0M108.3 148.5h0M111.5 147.5h0M111.1 131.4h0M110.9 141.7h0M109.5 143.1h0M108.5 148.9h0M108.2 148.3h0M106.5 146.0h0M110.9 138.3h0M79.8 112.2h0M108.3 148.3h0M107.5 144.8h0M107.8 146.4h0M108.0 147.2h0M110.3 137.9h0M105.9 133.2h0M114.9 119.5h0M111.6 131.0h0M101.6 45.8h0M113.4 137.3h0M114.8 116.9h0M104.0 142.8h0M95.9 121.4h0M103.3 145.4h0M114.0 104.2h0M110.2 145.0h0M117.6 132.2h0M95.6 111.5h0M105.9 138.3h0M105.2 135.7h0M116.7 20.0h0M97.5 57.9h0M106.3 136.1h0M116.1 140.3h0M102.8 139.2h0M103.6 145.7h0M103.8 98.1h0M110.0 145.6h0M111.5 146.0h0M108.0 146.7h0M107.1 140.6h0M106.3 147.0h0M100.5 125.4h0M108.9 148.1h0M111.0 142.7h0M111.7 133.8h0M100.0 18.4h0M103.1 90.0h0M108.4 148.3h0M68.4 93.7h0M112.6 120.1h0M109.6 142.6h0M105.1 135.3h0M112.2 123.5h0M108.7 148.7h0M112.8 135.4h0M107.4 142.4h0M129.2 28.7h0M90.4 37.6h0M103.5 122.6h0M110.2 139.3h0M126.0 62.8h0M108.3 148.8h0M108.3 148.6h0M107.3 148.0h0M110.0 143.1h0M105.7 128.2h0M92.5 44.3h0M107.7 148.4h0M110.6 139.8h0M111.4 145.9h0M109.3 146.4h0M105.6 147.4h0M108.0 148.1h0M111.7 141.5h0M108.1 148.1h0M108.1 147.6h0M109.7 144.8h0M118.5 107.3h0M109.4 145.9h0M122.7 112.4h0M107.5 143.8h0M123.5 115.8h0M100.2 121.8h0M108.4 148.7h0M106.1 141.4h0M109.3 148.2h0M109.6 144.0h0M95.3 132.3h0M105.7 141.8h0M109.3 147.8h0M119.3 108.5h0M118.3 139.2h0M107.5 143.5h0M94.2 11.2h0M113.2 101.2h0M99.4 132.2h0M106.1 135.8h0M111.4 134.0h0M107.5 144.8h0M104.2 146.3h0M108.0 147.4h0M108.9 147.4h0M97.4 92.8h0M101.3 102.7h0M107.5 143.3h0M103.2 136.4h0M105.8 143.0h0M106.7 141.5h0M112.2 142.3h0M98.3 112.3h0M102.8 115.3h0M101.9 143.6h0M119.1 101.1h0M98.5 138.2h0M114.1 129.6h0M92.9 137.2h0M107.1 141.7h0M106.7 138.2h0M104.2 140.2h0M110.8 137.2h0M107.3 148.2h0M109.8 141.6h0M110.7 145.7h0M100.9 118.8h0M108.1 147.4h0M105.5 145.0h0M112.1 139.6h0M111.7 125.3h0M126.5 137.8h0M106.3 141.7h0M108.2 148.5h0M106.3 144.1h0M110.0 144.3h0M105.4 141.9h0M101.2 137.9h0M112.4 132.5h0M109.3 146.9h0M107.9 147.2h0M106.9 145.6h0M119.0 142.8h0M110.3 143.2h0M108.4 148.8h0M111.6 138.6h0M101.7 120.8h0M108.0 146.1h0M96.7 134.9h0M102.3 74.4h0M120.0 133.9h0M107.9 148.6h0M108.2 148.4h0M109.7 143.0h0M112.4 142.4h0M114.8 132.7h0M106.8 147.9h0M105.7 132.2h0M97.7 77.6h0M100.3 96.1h0M97.9 131.7h0M117.2 100.9h0M113.5 117.8h0M74.1 95.9h0M114.2 140.9h0M116.9 123.3h0M109.1 146.7h0M96.7 100.4h0M108.8 147.6h0M120.7 124.1h0M110.3 142.3h0M118.2 142.4h0M88.6 126.9h0M94.2 129.6h0M109.4 145.0h0M112.9 131.7h0M118.1 113.5h0M108.5 148.8h0M90.8 129.1h0M110.8 134.1h0M108.2 147.8h0M108.0 148.0h0M101.4 117.7h0M107.1 141.9h0M118.1 89.2h0M104.3 142.1h0M117.7 141.7h0M104.1 124.3h0M106.8 145.0h0M108.5 148.8h0M115.6 84.7h0M108.5 148.8h0M103.2 84.4h0M104.9 141.1h0M108.5 148.9h0M111.0 144.2h0M106.0 133.2h0M108.2 147.6h0M114.8 138.7h0M109.0 146.6h0M103.9 130.2h0M122.1 61.0h0M102.4 144.6h0M106.8 146.4h0M109.8 141.9h0M134.7 123.0h0M107.1 141.5h0M104.8 136.8h0M108.7 148.1h0M110.4 147.2h0M116.8 114.1h0M105.6 146.4h0M104.1 140.5h0M108.8 147.7h0M100.6 136.5h0M123.9 78.9h0M109.7 142.8h0M105.2 142.9h0M107.6 144.4h0M106.4 147.7h0M150.8 70.1h0M104.3 144.1h0M109.3 144.4h0M109.1 147.3h0M105.1 130.5h0M118.0 136.2h0M100.4 141.3h0M107.1 145.9h0M107.9 146.6h0M107.3 141.8h0M93.8 133.0h0M105.8 132.0h0M118.8 143.0h0M105.5 130.9h0M105.4 145.3h0M104.7 111.6h0M114.9 142.0h0M108.7 148.6h0M116.9 124.1h0M119.8 108.9h0M89.4 51.2h0M107.1 145.3h0M116.9 33.1h0M122.3 139.5h0M117.3 115.3h0M110.7 146.7h0M113.7 126.6h0M110.6 145.0h0M113.3 142.9h0M106.9 140.3h0M133.7 130.6h0M108.2 148.4h0M105.9 139.7h0M104.4 132.9h0M111.4 124.6h0M115.1 115.7h0M110.8 136.5h0M114.6 143.6h0M107.6 143.9h0M108.1 147.1h0M111.7 142.6h0M113.1 134.2h0M112.4 122.8h0M109.4 144.4h0M103.0 90.9h0M107.5 144.7h0M110.3 146.5h0M113.6 146.4h0M110.9 139.0h0M116.3 119.0h0M108.0 147.4h0M105.1 133.5h0M103.8 141.9h0M81.9 103.6h0M103.9 121.2h0M108.2 148.6h0M113.9 135.5h0M105.4 138.9h0M117.0 66.9h0M119.9 125.0h0M105.4 145.9h0M101.7 144.2h0M104.9 137.7h0M106.4 135.3h0M108.1 147.0h0M117.3 89.7h0M113.4 118.0h0M113.7 131.2h0M98.6 133.5h0M108.9 146.6h0M109.7 144.3h0M98.9 110.5h0M111.2 130.2h0M113.3 141.0h0M108.7 148.6h0M107.0 139.6h0M109.2 146.0h0M111.8 143.4h0M128.7 15.2h0M113.6 92.3h0M129.2 13.1h0M108.7 148.2h0M120.7 141.0h0M118.8 109.5h0M108.7 148.3h0M107.6 147.4h0M98.5 108.7h0M104.3 138.5h0M101.1 131.5h0M112.5 139.8h0M108.2 147.9h0M105.6 134.2h0M113.5 141.8h0M108.7 148.3h0M134.0 67.6h0M97.7 127.3h0M116.7 19.7h0M103.4 126.3h0M102.9 138.4h0M107.9 145.9h0M136.0 119.8h0M108.1 148.2h0M113.5 130.4h0M122.2 133.9h0M106.6 139.7h0M108.8 148.4h0M102.2 141.3h0M105.8 141.1h0M104.6 143.6h0M105.2 133.6h0M114.5 125.3h0M84.1 125.7h0M102.5 143.6h0M102.8 128.7h0M102.9 86.1h0M105.9 141.3h0M105.3 142.1h0M109.1 148.4h0M102.6 82.0h0M109.8 145.5h0M117.1 30.0h0M109.1 147.6h0M110.3 135.2h0M121.0 111.0h0M112.7 145.9h0M102.9 142.7h0M119.8 109.5h0M108.2 148.5h0M97.9 122.4h0M114.4 69.9h0M110.8 134.9h0M113.5 137.8h0M109.9 140.8h0M109.9 139.7h0M117.0 56.8h0M107.9 147.7h0M96.9 142.2h0M103.7 117.4h0M105.8 129.6h0M100.4 140.3h0M110.8 137.3h0M108.8 147.9h0M96.5 80.2h0M110.6 139.5h0M120.4 136.7h0M113.6 123.5h0M108.1 147.6h0M99.1 103.1h0M107.3 147.2h0M110.5 144.0h0M102.2 141.7h0M102.5 128.2h0M108.8 147.3h0M111.3 128.9h0M107.6 145.2h0M119.6 118.1h0M107.0 144.9h0M111.4 133.7h0M87.7 99.7h0M105.6 139.6h0M110.8 140.9h0M108.6 148.6h0M110.7 142.7h0M115.4 111.8h0M108.9 147.4h0M106.1 142.0h0M102.1 110.5h0M133.6 85.4h0M116.8 104.6h0M137.2 127.5h0M105.2 126.0h0M118.4 116.3h0M98.9 134.1h0M105.1 129.7h0M109.8 141.4h0M111.4 139.3h0M115.8 59.4h0M111.5 140.9h0M112.4 111.0h0M111.2 135.5h0M117.7 137.6h0M97.8 69.8h0M104.7 141.5h0M103.9 115.8h0M107.6 145.4h0M105.1 129.7h0M114.4 143.6h0M108.1 147.5h0M111.9 146.8h0M114.3 131.6h0M106.7 140.9h0M111.9 132.6h0M103.5 143.0h0M112.2 144.4h0M112.3 135.8h0M108.7 148.2h0M109.9 141.0h0M111.4 131.9h0M109.6 143.2h0M98.3 99.2h0M107.2 141.7h0M109.8 141.6h0M109.4 145.3h0M105.4 137.1h0M115.1 111.5h0M102.6 127.6h0M113.6 82.8h0M95.4 74.9h0M101.7 142.6h0M112.2 138.9h0M109.7 146.5h0M108.1 147.5h0M109.2 146.5h0M107.6 145.7h0M105.5 131.0h0M110.9 147.3h0M104.8 142.7h0M108.4 148.7h0M109.4 146.2h0M111.8 120.6h0M108.4 148.5h0M106.2 143.2h0M110.2 142.0h0M125.5 116.6h0M109.4 144.6h0M107.6 146.2h0M104.2 133.6h0M115.0 139.2h0M105.8 143.6h0M115.2 142.8h0M107.4 143.3h0M114.6 133.7h0M98.9 139.0h0M106.2 144.0h0M104.5 141.0h0M109.3 145.2h0M109.9 143.3h0M100.5 132.5h0M104.1 115.5h0M103.8 101.7h0M107.0 142.1h0M105.4 140.9h0M108.0 146.6h0M111.7 126.3h0M101.1 140.0h0M93.7 129.4h0M95.3 134.5h0M115.3 142.3h0M98.1 122.7h0M106.6 141.4h0M109.4 144.0h0M86.1 113.0h0M107.9 148.2h0M101.9 76.8h0M108.7 148.6h0M93.1 115.0h0M107.4 143.1h0M104.8 133.6h0M109.1 147.0h0M110.4 142.4h0M105.0 142.4h0M108.5 148.8h0M109.5 145.7h0M115.9 121.8h0M113.4 112.5h0M107.5 146.8h0M107.0 141.9h0M103.8 139.4h0M116.1 135.5h0M115.6 129.1h0M114.1 101.0h0M105.5 141.1h0M113.8 126.9h0M110.3 141.0h0M105.1 137.9h0M105.8 146.6h0M113.2 146.0h0M103.1 137.8h0M105.3 131.3h0M109.6 145.5h0M146.1 117.2h0M107.7 147.9h0M106.1 146.6h0M97.8 123.2h0M97.6 139.8h0M100.6 143.5h0M115.7 88.6h0M109.9 144.0h0M115.1 130.6h0M116.4 141.7h0M106.0 136.0h0M100.6 115.8h0M108.5 148.9h0M116.8 85.7h0M108.2 148.2h0M115.5 59.0h0M112.4 109.3h0M107.4 143.0h0M108.0 146.9h0M109.1 147.0h0M107.3 142.5h0M115.0 128.4h0M97.7 28.3h0M101.7 63.7h0M126.6 123.4h0M71.0 104.1h0M104.1 145.3h0M110.1 145.2h0M87.5 130.1h0M100.1 73.9h0M115.0 129.8h0M116.1 119.8h0M108.8 147.7h0M106.2 144.4h0M108.3 148.8h0M114.2 140.0h0M107.8 146.6h0M109.3 144.6h0M99.5 110.3h0M101.8 126.6h0M100.5 74.3h0M102.7 135.5h0M105.3 133.5h0M109.8 147.3h0M107.8 147.5h0M109.3 144.6h0M105.4 125.9h0M105.2 137.6h0M122.1 44.2h0M108.8 148.5h0M120.6 47.0h0M109.5 146.3h0M107.2 140.0h0M83.1 114.8h0M97.0 133.0h0M107.3 141.9h0M108.2 148.2h0M106.4 139.1h0M86.7 21.3h0M135.9 107.0h0M124.3 46.7h0M98.1 74.3h0M114.3 140.5h0M112.4 130.8h0M114.0 128.3h0M107.1 144.4h0M98.4 68.3h0M110.0 139.1h0M108.6 148.7h0M85.2 131.6h0M117.3 117.9h0M108.7 148.3h0M107.2 142.9h0M114.7 70.0h0M106.8 138.9h0M106.2 147.1h0M111.2 138.0h0M103.2 113.9h0M105.3 124.2h0M125.5 36.4h0M136.9 96.7h0M113.1 143.7h0M107.4 142.2h0M106.6 139.3h0M105.5 121.5h0M98.9 127.6h0M109.0 148.0h0M102.6 142.0h0M115.2 117.6h0M111.2 139.1h0M96.5 141.2h0M119.9 78.9h0M114.2 109.6h0M101.8 80.6h0M105.7 131.6h0M105.4 143.7h0M108.7 147.9h0M103.5 95.5h0M112.3 143.2h0M106.9 145.6h0M98.4 133.7h0M110.6 138.2h0M115.5 85.9h0M110.4 146.9h0M109.8 144.7h0M104.2 130.4h0M85.4 117.2h0M109.8 143.8h0M109.0 148.2h0M104.4 145.4h0M109.2 145.6h0M98.4 128.2h0M109.6 145.6h0M114.3 69.1h0M115.8 144.2h0M111.7 135.6h0M111.3 141.0h0M108.1 146.9h0M109.6 143.0h0M108.4 148.7h0M109.4 147.7h0M104.5 112.8h0M115.7 116.8h0M109.1 145.6h0M110.7 144.9h0M93.6 71.3h0M109.3 144.4h0M110.1 139.6h0M112.1 123.8h0M94.2 138.2h0M115.2 134.5h0M110.1 147.8h0M108.1 147.7h0M111.6 126.3h0M110.4 140.9h0M102.8 119.9h0M108.3 148.3h0M123.2 33.0h0M117.6 138.4h0M106.7 144.8h0M105.9 145.4h0M105.8 132.6h0M109.5 144.5h0M102.2 141.2h0M106.9 143.4h0M100.2 99.6h0M102.8 128.7h0M88.1 10.9h0M111.1 129.5h0M93.2 20.7h0M100.3 138.5h0M101.4 89.9h0M115.3 126.9h0M114.8 58.2h0M107.6 146.2h0M107.3 146.5h0M114.6 141.7h0M104.2 135.1h0M110.8 130.1h0M117.1 142.7h0M109.9 140.3h0M110.1 142.0h0M110.4 147.0h0M114.0 127.3h0M114.2 126.9h0M110.1 142.0h0M110.5 136.8h0M112.0 119.2h0M115.4 137.5h0M115.9 140.8h0M109.8 146.8h0M104.0 120.7h0M114.2 84.3h0M101.5 126.0h0M102.1 59.2h0M104.8 129.7h0M109.2 146.9h0M103.5 140.0h0M113.8 135.8h0M111.7 127.1h0M101.0 142.2h0M105.2 137.6h0M99.8 41.4h0M105.2 145.8h0M111.1 146.6h0M99.4 138.1h0M119.9 108.2h0M122.3 136.7h0M112.3 126.1h0M110.6 135.4h0M116.6 82.8h0M105.5 128.0h0M101.1 61.9h0M105.9 133.8h0M108.4 148.6h0M101.5 56.1h0M109.9 147.7h0M116.0 49.0h0M115.9 105.1h0M112.1 136.9h0M104.2 129.9h0M117.8 138.8h0M104.9 143.8h0M107.3 145.4h0M107.9 146.2h0M112.4 134.8h0M107.5 143.7h0M104.2 122.3h0M114.4 139.9h0M116.1 133.2h0M109.6 143.5h0M115.9 65.2h0M107.6 147.8h0M109.2 146.6h0M109.7 147.7h0M114.7 136.0h0M108.2 147.6h0M89.0 86.6h0M105.3 122.3h0M108.9 147.9h0M106.7 138.3h0M105.2 125.4h0M106.4 142.4h0M124.6 133.4h0M119.1 136.5h0M110.8 146.2h0M103.8 128.3h0M121.1 129.7h0M111.3 127.7h0M124.1 87.9h0M94.0 53.0h0M100.2 66.2h0M110.7 135.9h0M109.1 146.8h0M115.4 39.8h0M110.4 144.3h0M109.2 145.4h0M107.7 144.9h0M101.5 63.3h0M110.2 142.4h0M114.3 87.1h0M130.6 128.5h0M109.5 145.5h0M98.2 91.5h0M125.6 52.9h0M109.7 147.9h0M110.5 142.5h0M108.9 148.6h0M121.8 122.9h0M117.6 98.6h0M112.3 145.3h0M114.6 105.6h0M113.0 125.5h0M105.9 145.7h0M102.1 131.5h0M107.5 147.3h0M114.8 125.4h0M132.1 124.6h0M106.1 135.0h0M112.5 143.3h0M106.3 138.3h0M100.4 97.0h0M91.3 137.3h0M105.4 136.2h0M102.8 118.4h0M113.0 132.2h0M109.7 144.1h0M102.1 124.5h0M107.6 147.7h0M109.7 141.3h0M115.2 134.6h0M117.1 128.1h0M94.9 136.6h0M116.8 105.3h0M107.8 145.9h0M111.4 140.0h0M103.4 139.8h0M110.2 140.5h0M109.1 148.2h0M91.8 113.2h0M105.2 145.3h0M106.6 145.0h0M108.0 148.3h0M122.7 56.1h0M108.1 148.5h0M107.4 146.1h0M109.8 142.9h0M105.9 138.3h0M98.2 108.4h0M108.8 147.6h0M118.7 88.8h0M105.0 133.5h0M108.4 148.4h0M112.7 120.2h0M112.8 139.3h0M111.9 135.6h0M112.8 136.4h0M131.3 133.6h0M103.4 85.8h0M113.3 139.7h0M101.3 130.7h0M113.5 101.4h0M116.2 89.1h0M109.2 148.3h0M113.3 138.4h0M111.5 146.9h0M109.4 147.4h0M110.3 146.5h0M112.1 144.5h0M110.2 143.5h0M106.7 141.2h0M108.5 148.8h0M105.0 131.0h0M110.9 138.2h0M131.1 131.8h0M110.7 146.9h0M103.3 114.2h0M108.3 148.2h0M109.8 140.9h0M105.4 138.7h0M107.5 145.1h0M107.3 146.3h0M102.6 69.1h0M103.2 119.5h0M159.8 44.2h0M106.8 145.7h0M109.2 146.1h0M112.7 119.5h0M72.0 113.5h0M109.2 145.7h0M112.9 142.5h0M105.8 145.3h0M115.0 50.3h0M102.8 133.3h0M114.0 125.7h0M107.5 148.4h0M120.4 54.7h0M95.9 77.7h0M109.5 146.5h0M89.5 113.5h0M103.9 143.5h0M106.0 144.4h0M128.2 129.6h0M109.1 147.1h0M99.5 107.9h0M107.8 148.4h0M105.0 143.0h0M108.9 148.0h0M101.3 50.0h0M103.1 135.9h0M102.1 110.5h0M111.2 132.6h0M117.1 135.0h0M101.6 62.8h0M108.9 147.6h0M109.4 143.9h0M111.8 130.9h0M118.9 16.1h0M107.1 142.5h0M100.3 109.4h0M115.4 95.5h0M113.1 128.5h0M104.4 133.9h0M129.3 38.6h0M128.7 124.6h0M105.1 139.2h0M108.5 148.9h0M120.2 128.4h0M106.4 146.0h0M107.3 144.4h0M109.0 148.1h0M108.5 148.7h0M105.6 135.0h0M105.8 130.7h0M116.3 127.4h0M107.7 145.8h0M113.3 122.9h0M108.1 147.9h0M110.2 138.6h0M108.2 148.1h0M110.1 142.8h0M96.5 133.5h0M107.2 141.8h0M99.9 37.3h0M107.7 148.0h0M112.0 146.7h0M107.0 145.5h0M120.9 87.8h0M101.8 129.9h0M108.9 147.2h0M105.9 126.3h0M104.2 108.4h0M102.2 127.7h0M114.3 118.4h0M105.7 129.1h0M101.9 139.4h0M111.3 131.0h0M110.4 145.1h0M102.0 48.3h0M98.8 31.6h0M111.1 135.8h0M116.5 64.8h0M108.1 148.1h0M111.5 145.2h0M107.1 147.7h0M98.2 63.8h0M103.7 122.4h0M104.2 107.3h0M109.9 144.5h0M109.2 147.3h0M114.9 134.0h0M116.6 130.6h0M108.8 148.2h0M104.0 126.4h0M110.7 138.3h0M109.3 145.0h0M107.7 144.4h0M106.1 135.4h0M114.9 142.0h0M108.4 148.4h0M114.3 132.1h0M111.7 143.4h0M110.3 135.4h0M109.5 147.1h0M110.7 140.0h0M102.8 115.3h0M110.0 143.0h0M109.0 148.3h0M121.0 66.2h0M110.1 139.5h0M125.1 138.2h0M105.1 146.2h0M118.8 138.3h0M108.0 146.8h0M106.4 132.8h0M109.5 144.8h0M107.2 144.9h0M106.2 144.1h0M108.4 148.5h0M109.3 146.8h0M105.1 128.4h0M109.1 148.1h0M101.3 120.3h0M100.3 144.5h0M109.6 144.2h0M107.3 146.2h0M101.8 47.2h0M111.1 140.2h0M113.0 136.3h0M107.5 144.2h0M107.9 146.3h0M110.4 144.2h0M111.0 130.1h0M106.4 138.5h0M106.5 141.2h0M108.7 148.5h0M112.1 138.1h0M105.5 123.1h0M109.7 143.2h0M102.6 129.3h0M105.7 139.4h0M117.8 142.5h0M101.5 70.1h0M104.8 115.8h0M115.7 28.3h0M114.2 145.3h0M109.2 146.9h0M103.0 142.3h0M107.1 142.9h0M100.7 98.0h0M111.6 136.2h0M110.1 143.4h0M104.8 144.2h0M91.1 109.2h0M98.8 132.7h0M109.8 147.6h0M107.7 147.3h0M109.0 148.0h0M112.3 130.6h0M109.9 140.9h0M111.7 140.9h0M112.3 144.1h0M109.4 148.0h0M115.9 39.6h0M110.7 145.9h0M105.7 133.2h0M97.9 38.0h0M109.1 148.0h0M104.7 141.4h0M108.8 147.9h0M111.0 129.0h0M125.3 135.3h0M113.7 145.6h0M109.2 147.1h0M110.9 135.6h0M108.6 148.5h0M108.7 148.1h0M109.1 146.1h0M108.3 148.2h0M108.8 147.4h0M118.3 38.5h0M113.0 130.7h0M125.9 34.0h0M97.4 60.9h0M110.0 146.6h0M121.5 93.1h0M117.4 132.2h0M109.3 147.7h0M107.5 146.3h0M109.7 144.9h0M103.6 129.2h0M109.9 140.6h0M121.4 36.6h0M107.1 141.7h0M111.0 138.0h0M115.6 137.4h0M106.7 141.0h0M112.6 105.5h0M108.7 148.5h0M123.7 72.5h0M103.7 91.2h0M109.6 146.5h0M102.7 144.7h0M106.3 135.0h0M113.3 138.9h0M109.3 147.2h0M93.1 83.0h0M81.4 119.4h0M105.9 139.1h0M121.5 84.6h0M104.1 122.7h0M121.8 131.7h0M111.4 139.1h0M112.7 140.0h0M109.2 145.2h0M106.5 143.5h0M115.0 144.7h0M103.8 134.6h0M109.3 146.5h0M105.5 147.2h0M107.4 145.4h0M109.8 144.5h0M100.6 143.6h0M106.7 137.9h0M109.2 148.1h0M107.9 148.6h0M103.6 139.0h0M102.2 140.9h0M111.1 145.3h0M97.4 126.4h0M100.0 104.3h0M109.3 145.9h0M110.2 140.3h0M126.7 64.8h0M109.4 144.0h0M113.8 132.0h0M104.1 137.2h0M107.5 146.4h0M112.7 142.2h0M135.2 70.3h0M111.6 141.5h0M105.1 142.5h0M107.2 142.0h0M110.0 140.8h0M114.1 114.4h0M89.6 97.9h0M103.4 111.0h0M108.2 147.5h0M92.8 121.6h0M109.2 147.5h0M107.9 148.6h0M110.0 140.5h0M110.6 139.6h0M122.8 136.8h0M111.1 139.6h0M112.3 133.8h0M109.5 148.2h0M107.5 145.6h0M106.6 134.8h0M120.3 132.6h0M110.2 140.1h0M128.6 129.6h0M120.3 90.4h0M101.6 137.7h0M107.7 146.6h0M104.0 143.3h0M124.9 12.8h0M112.6 128.8h0M115.8 105.2h0M109.5 147.0h0M110.7 146.0h0M110.8 140.5h0M110.2 142.6h0M103.6 145.5h0M108.7 148.0h0M102.3 95.5h0M105.6 147.6h0M97.1 131.3h0M100.7 106.1h0M133.5 130.1h0M122.8 137.4h0M111.1 128.0h0M106.6 141.4h0M102.6 139.0h0M102.6 140.4h0M98.1 70.0h0M113.9 141.2h0M111.2 147.3h0M107.0 141.1h0M109.6 143.8h0M107.1 141.6h0M103.7 126.7h0M108.0 147.0h0M107.2 145.4h0M101.3 135.1h0M96.0 135.1h0M112.2 112.7h0M107.8 146.8h0M95.8 41.0h0M107.0 140.1h0M106.4 137.2h0M121.7 141.5h0M94.5 37.8h0M113.8 146.3h0M101.5 135.4h0M109.1 147.2h0M106.0 141.8h0M113.1 145.3h0M116.6 107.8h0M92.4 138.1h0M105.9 130.6h0M108.1 148.3h0M107.8 148.2h0M98.9 117.8h0M111.8 121.6h0M109.2 145.5h0M110.9 139.5h0M108.0 146.8h0M97.7 98.4h0M111.2 142.6h0M91.1 110.8h0M112.5 111.2h0M110.7 142.1h0M107.4 148.2h0M108.6 148.5h0M110.3 141.8h0M107.2 145.9h0M105.4 139.9h0M106.3 140.6h0M105.1 140.3h0M104.6 138.7h0M114.1 117.3h0M125.6 55.6h0M103.3 121.8h0M109.9 142.1h0M108.6 148.8h0M108.8 147.4h0M111.6 127.3h0M110.2 143.4h0M109.4 144.0h0M102.4 127.9h0M114.2 120.2h0M109.5 146.2h0M113.6 92.6h0M109.6 142.9h0M110.0 140.1h0M118.8 107.6h0M100.6 143.5h0M114.1 126.1h0M120.1 139.7h0M113.8 124.3h0M111.0 133.5h0M105.7 129.2h0M105.6 131.1h0M109.4 144.0h0M116.7 55.5h0M102.2 125.0h0M102.6 77.7h0M105.8 138.3h0M113.6 136.4h0M108.0 147.9h0M104.2 108.6h0M105.5 139.9h0M102.6 91.8h0M111.2 145.5h0M114.0 114.5h0M97.3 88.2h0M109.4 148.2h0M110.0 146.9h0M114.3 128.4h0M100.0 131.0h0M109.3 146.1h0M114.9 76.6h0M105.3 136.7h0M92.1 46.7h0M115.8 135.8h0M110.0 144.6h0M108.4 148.5h0M108.9 147.0h0M119.5 79.4h0M114.0 86.3h0M99.2 26.5h0M111.5 134.2h0M115.7 143.9h0M113.3 117.0h0M103.4 137.5h0M112.9 141.5h0M108.8 148.3h0M107.6 145.3h0M113.3 131.8h0M113.1 102.8h0M115.8 61.2h0M125.9 34.7h0M100.8 92.3h0M114.5 93.6h0M102.7 97.4h0M108.3 148.1h0M109.7 143.1h0M107.2 142.4h0M109.6 148.0h0M106.8 136.9h0M113.1 104.4h0M109.3 144.8h0M101.6 92.6h0M111.9 145.1h0M107.5 145.0h0M89.4 135.6h0M107.4 142.4h0M116.4 19.7h0M103.3 140.9h0M104.3 118.7h0M92.5 67.7h0M112.0 113.4h0M114.6 65.5h0M111.0 132.4h0M110.8 142.5h0M107.1 145.8h0M118.1 130.6h0M107.7 144.6h0M104.8 129.6h0M110.5 136.2h0M106.9 140.3h0M101.4 86.4h0M115.8 38.8h0M110.7 133.3h0M115.9 121.1h0M98.5 139.6h0M109.7 144.9h0M107.5 145.2h0M100.1 88.4h0M105.1 120.1h0M126.1 65.6h0M115.0 120.3h0M89.0 127.7h0M115.6 144.0h0M113.5 145.5h0M110.7 139.1h0M108.8 148.5h0M107.4 146.1h0M111.5 135.8h0M106.1 139.5h0M109.8 145.0h0M113.3 144.0h0M102.8 118.4h0M122.8 139.7h0M113.7 107.4h0M109.4 145.3h0M106.8 136.2h0M106.3 131.4h0M112.1 143.8h0M105.9 135.8h0M114.6 129.7h0M108.9 147.1h0M105.6 130.4h0M113.8 126.5h0M122.4 43.4h0M100.6 26.6h0M101.1 137.4h0M119.7 86.3h0M110.6 146.6h0M106.4 144.3h0M110.4 144.3h0M106.3 138.1h0M116.9 105.5h0M101.8 105.2h0M118.8 143.3h0M97.7 62.8h0M110.8 146.1h0M109.7 147.9h0M103.1 96.2h0M123.4 65.5h0M110.4 147.7h0M104.8 127.5h0M109.1 148.3h0M101.7 132.5h0M106.9 144.0h0M104.7 122.8h0M97.4 140.9h0M82.3 122.3h0M111.1 132.2h0M108.6 148.8h0M107.2 141.2h0M107.6 144.2h0M91.2 103.2h0M114.4 90.2h0M107.1 140.9h0M118.0 123.5h0M111.2 142.4h0M114.7 58.3h0M99.7 59.2h0M98.8 107.0h0M106.5 136.0h0M110.3 137.4h0M108.9 148.0h0M112.0 125.2h0M115.9 138.3h0M109.9 143.4h0M97.7 18.3h0M122.8 34.7h0M107.3 142.8h0M108.9 147.5h0M106.6 147.4h0M107.5 146.1h0M106.1 145.7h0M108.8 148.1h0M109.0 146.8h0M104.7 140.4h0M120.0 137.5h0M68.5 80.3h0M102.5 84.8h0M108.5 148.9h0M116.5 140.8h0M112.0 137.6h0M106.5 142.4h0M93.3 116.4h0M108.4 148.7h0M106.7 145.0h0M102.2 67.4h0M108.8 148.3h0M102.4 71.1h0M112.2 131.7h0M111.7 129.7h0M113.4 138.7h0M90.4 132.6h0M114.6 93.5h0M99.8 63.0h0M117.8 137.7h0M102.3 118.5h0M98.4 60.6h0M107.5 146.1h0M108.3 148.4h0M108.6 148.3h0M113.5 128.4h0M109.7 145.3h0M118.5 78.7h0M100.7 122.2h0M112.7 124.3h0M106.2 147.4h0M107.2 147.5h0M109.2 146.3h0M102.0 143.8h0M107.8 148.3h0M109.9 144.1h0M109.2 145.1h0M107.9 147.1h0M104.8 136.3h0M111.6 144.8h0M100.4 142.8h0M108.4 148.4h0M101.1 55.9h0M111.7 130.1h0M107.7 145.8h0M107.1 143.9h0M110.0 145.9h0M106.1 147.6h0M113.8 78.2h0M112.0 132.1h0M110.7 143.8h0M111.3 138.7h0M114.0 120.4h0M92.1 139.2h0M102.1 110.6h0M97.2 95.7h0M108.2 148.1h0M109.1 147.0h0M110.2 146.0h0M110.9 134.0h0M98.3 142.7h0M108.1 148.4h0M105.5 141.4h0M114.7 133.8h0M116.7 139.5h0M109.5 146.0h0M109.5 144.1h0M109.3 146.4h0M98.8 141.4h0M115.7 116.2h0M99.8 136.9h0M112.6 130.2h0M115.4 142.5h0M115.9 119.9h0M113.2 140.7h0M122.8 135.5h0M110.1 141.7h0M109.3 144.9h0M98.9 139.7h0M107.1 142.7h0M111.3 138.6h0M105.7 127.4h0M106.6 144.6h0M109.2 145.7h0M110.9 143.4h0M108.1 147.1h0M107.2 146.9h0M109.1 146.4h0M101.1 74.8h0M121.5 67.9h0M109.6 144.7h0M102.8 141.3h0M111.3 139.0h0M111.4 145.5h0M108.2 148.1h0M90.2 33.9h0M111.4 142.5h0M109.6 145.3h0M105.9 132.6h0M124.8 126.5h0M127.6 48.0h0M118.3 96.8h0M121.1 54.9h0M109.3 147.0h0M102.6 86.6h0M101.2 142.5h0M109.8 144.5h0M107.0 139.6h0M117.9 137.9h0M125.4 134.3h0M110.9 146.3h0M98.6 92.7h0M114.0 116.7h0M111.5 124.4h0M118.5 42.3h0M111.4 138.3h0M107.2 144.2h0M107.7 146.4h0M104.7 125.0h0M106.8 145.0h0M90.2 129.3h0M111.0 146.1h0M124.8 135.8h0M114.6 85.9h0M97.9 62.5h0M112.9 135.0h0M140.6 98.5h0M110.4 135.9h0M107.8 146.7h0M110.2 140.8h0M110.9 139.3h0M108.1 148.0h0M106.7 141.5h0M100.9 116.5h0M100.9 133.4h0M98.7 106.0h0M111.4 142.8h0M94.4 91.0h0M110.1 138.1h0M97.5 51.1h0M108.6 148.5h0M111.6 146.2h0M110.0 144.2h0M106.2 136.6h0M112.3 137.5h0M147.4 30.0h0M106.0 130.8h0M118.4 134.4h0M105.6 138.1h0M104.6 140.5h0M108.9 146.9h0M106.6 142.4h0M98.3 140.5h0M121.7 136.9h0M106.1 139.3h0M106.3 145.7h0M102.1 74.6h0M109.4 144.4h0M141.2 101.1h0M99.3 77.2h0M126.5 119.3h0M114.1 140.0h0M100.5 127.1h0M109.8 141.2h0M105.4 131.5h0M111.9 128.4h0M110.0 146.6h0M116.9 79.0h0M109.1 147.3h0M105.9 141.5h0M114.5 144.2h0M98.7 136.6h0M107.6 145.9h0M105.6 140.5h0M108.4 148.6h0M111.0 135.1h0M107.8 147.0h0M110.8 138.2h0M109.1 147.5h0M105.1 134.4h0M111.8 118.8h0M113.0 134.0h0M111.1 143.3h0M98.9 99.8h0M106.9 147.2h0M105.7 140.4h0M102.6 82.4h0M105.6 124.2h0M89.8 137.2h0M100.0 142.6h0M110.0 142.0h0M120.0 96.5h0M106.1 130.6h0M111.1 139.4h0M106.5 141.5h0M104.3 145.8h0M106.4 139.7h0M109.7 143.2h0M108.8 148.2h0M111.1 141.8h0M115.3 124.8h0M111.3 139.2h0M107.8 147.3h0M118.9 139.2h0M124.9 137.1h0M106.5 147.3h0M104.6 136.9h0M101.9 101.9h0M126.1 133.6h0M116.2 130.1h0M103.2 141.8h0M103.9 141.1h0M100.8 136.4h0M107.5 147.7h0M105.3 122.3h0M120.7 126.5h0M106.7 142.9h0M106.3 143.1h0M122.8 117.7h0M104.9 142.8h0M109.3 144.9h0M116.8 19.6h0M119.6 104.4h0M113.7 133.0h0M108.2 147.7h0M116.2 89.1h0M108.0 148.1h0M110.3 135.9h0M96.1 104.2h0M112.1 128.3h0M108.5 148.7h0M117.6 140.4h0M104.0 138.4h0M105.6 125.5h0M103.6 130.0h0M102.7 140.4h0M106.1 131.8h0M103.9 122.0h0M114.1 106.0h0M72.9 100.6h0M107.8 145.6h0M101.9 88.8h0M126.4 49.8h0M114.3 103.1h0M108.6 148.5h0M115.4 90.6h0M105.7 127.2h0M104.0 144.1h0M114.6 128.2h0M101.9 144.2h0M111.0 137.6h0M108.6 148.5h0M108.4 148.5h0M109.0 148.1h0M107.0 142.8h0M106.9 147.8h0M105.3 125.6h0M119.1 128.1h0M111.8 143.8h0M112.7 145.4h0M109.6 142.7h0M64.4 90.5h0M129.1 106.0h0M107.6 144.7h0M120.1 106.9h0M109.3 146.0h0M111.3 126.6h0M92.8 115.9h0M108.6 148.7h0M104.0 146.6h0M108.4 148.5h0M103.2 145.0h0M106.4 147.4h0M106.2 142.2h0M110.2 147.4h0M116.3 120.6h0M101.0 118.6h0M109.4 144.6h0M108.4 148.2h0M100.9 55.9h0M101.0 124.1h0M112.8 130.6h0M109.7 148.3h0M110.1 148.0h0M109.3 144.5h0M107.3 143.3h0M105.5 140.4h0M107.0 146.5h0M109.0 146.1h0M111.8 121.1h0M108.1 148.6h0M89.5 132.3h0M104.5 146.5h0M111.2 142.7h0M105.7 123.1h0M108.8 148.6h0M104.0 126.3h0M113.6 143.9h0M113.9 126.4h0M106.4 135.3h0M108.4 148.5h0M108.4 148.5h0M106.4 139.6h0M105.3 139.0h0M131.0 99.0h0M108.5 148.9h0M105.7 126.7h0M114.8 83.9h0M108.9 147.0h0M105.1 121.3h0M107.9 145.6h0M112.5 136.7h0M113.8 144.6h0M107.8 146.1h0M106.5 147.9h0M106.2 137.6h0M103.4 83.8h0M110.5 141.4h0M107.6 147.3h0M109.4 145.0h0M104.9 129.5h0M110.1 141.8h0M115.9 128.0h0M120.8 135.0h0M109.8 144.4h0M106.7 138.2h0M109.2 145.6h0M104.7 141.2h0M107.9 148.2h0M114.4 115.4h0M111.4 141.9h0M110.2 146.6h0M113.0 134.2h0M104.2 113.8h0M101.4 139.5h0M106.5 146.7h0M106.0 138.5h0M106.8 138.8h0M109.7 145.0h0M103.5 120.3h0M108.1 147.0h0M107.6 148.1h0M117.7 110.3h0M106.7 143.3h0M109.0 148.6h0M98.2 57.7h0M107.4 143.1h0M100.7 128.0h0M111.7 141.4h0M110.1 144.1h0M115.0 144.0h0M107.5 146.7h0M106.8 136.3h0M105.6 139.9h0M110.8 143.3h0M109.4 145.4h0M110.9 145.7h0M112.4 117.7h0M113.2 142.0h0M96.0 34.8h0M98.9 94.6h0M115.0 92.2h0M110.2 137.1h0M113.5 134.5h0M105.0 140.9h0M104.4 133.9h0M109.0 146.9h0M109.5 142.7h0M108.4 148.8h0M108.0 147.5h0M105.4 123.9h0M107.1 145.2h0M104.5 132.8h0M108.8 147.5h0M107.6 148.3h0M107.4 142.9h0M125.5 50.8h0M108.4 148.4h0M107.2 143.8h0M110.0 140.0h0M109.8 142.4h0M125.7 20.3h0M108.9 147.6h0M101.9 127.6h0M107.9 146.1h0M107.8 145.3h0M107.5 143.6h0M105.1 123.1h0M107.3 145.4h0M101.5 125.3h0M94.0 17.5h0M104.4 133.8h0M105.3 138.9h0M100.4 120.9h0M112.2 137.2h0M105.5 124.7h0M107.7 144.9h0M110.3 141.7h0M111.5 125.5h0M101.3 119.2h0M115.9 133.4h0M110.5 144.5h0M136.4 118.2h0M106.4 145.3h0M108.9 147.7h0M147.4 73.3h0M105.2 147.4h0M105.7 141.7h0M114.9 74.1h0M98.7 90.0h0M109.3 145.4h0M100.6 141.9h0M107.9 147.4h0M116.5 123.6h0M106.9 145.2h0M108.9 147.4h0M108.2 148.2h0M118.7 40.7h0M110.8 142.9h0M123.2 127.3h0M99.5 105.3h0M106.6 142.7h0M104.6 142.4h0M106.7 136.1h0M109.9 147.9h0M111.4 137.7h0M119.4 135.9h0M106.2 147.8h0M107.9 148.2h0M107.7 146.9h0M103.1 107.5h0M116.3 136.4h0M119.7 125.9h0M111.7 136.8h0M119.8 140.0h0M103.3 143.6h0M117.0 108.0h0M115.8 143.6h0M111.5 134.7h0M102.2 109.9h0M111.4 125.8h0M108.8 147.7h0M106.5 139.6h0M107.0 141.7h0M145.2 114.7h0M115.3 119.2h0M112.7 145.4h0M104.3 116.2h0M105.8 134.8h0M112.4 147.0h0M111.5 142.7h0M112.6 136.9h0M109.8 141.7h0M119.1 134.3h0M108.3 148.5h0M111.2 142.7h0M109.4 145.4h0M119.9 111.1h0M103.2 134.2h0M105.3 133.2h0M107.4 145.9h0M111.5 126.5h0M109.4 146.3h0M106.9 143.6h0M105.2 139.8h0M111.9 134.5h0M93.9 75.5h0M90.9 119.0h0M112.5 141.1h0M107.7 144.9h0M112.8 113.9h0M109.3 148.5h0M103.8 120.2h0M108.6 148.3h0M106.0 143.4h0M114.2 124.8h0M113.9 100.1h0M98.0 137.6h0M107.8 147.5h0M101.2 136.0h0M111.8 134.1h0M109.3 144.4h0M105.9 133.6h0M106.6 143.0h0M106.1 132.2h0M106.4 147.6h0M108.4 148.7h0M105.0 123.6h0M98.0 140.4h0M115.3 68.5h0M108.5 148.7h0M101.0 133.7h0M116.4 140.7h0M114.2 143.1h0M108.3 148.3h0M100.4 115.4h0M103.3 141.8h0M105.2 143.5h0M108.2 147.9h0M98.9 17.2h0M89.2 127.9h0M94.8 70.8h0M111.9 133.9h0M100.7 90.4h0M116.2 115.5h0M113.4 117.8h0M108.4 148.6h0M110.9 143.6h0M107.2 146.8h0M112.6 127.1h0M106.1 137.1h0M111.9 127.1h0M107.6 145.0h0M106.1 144.0h0M114.5 129.0h0M108.8 148.4h0M106.3 141.0h0M111.7 127.1h0M118.3 26.0h0M106.9 147.6h0M107.1 147.9h0M123.2 140.4h0M111.9 144.2h0M108.0 146.4h0M110.1 147.1h0M97.6 25.9h0M101.2 134.3h0M103.0 73.3h0M99.1 89.9h0M101.0 83.2h0M107.8 146.1h0M109.2 147.1h0M112.9 143.8h0M108.1 147.6h0M107.2 147.9h0M95.5 42.5h0M101.3 129.0h0M107.1 145.3h0M117.2 143.0h0M105.8 128.8h0M104.3 129.1h0M106.6 144.6h0M112.9 113.1h0M110.2 144.8h0M110.7 138.9h0M108.0 146.6h0M111.3 132.2h0M105.3 133.6h0M110.3 141.5h0M108.8 147.7h0M126.7 75.6h0M100.6 68.0h0M105.7 133.2h0M110.8 144.4h0M105.5 133.3h0M110.2 139.3h0M114.7 136.0h0M104.2 134.7h0M105.4 120.2h0M106.4 141.3h0M122.8 86.0h0M108.4 148.5h0M111.1 142.4h0M153.2 62.1h0M109.0 146.5h0M106.5 138.3h0M107.5 148.2h0M108.0 147.5h0M105.6 126.1h0M97.9 139.6h0M115.4 55.4h0M106.9 146.6h0M109.4 146.7h0M111.7 132.4h0M104.1 146.0h0M112.8 105.7h0M103.1 141.7h0M108.3 148.0h0M102.0 63.6h0M94.5 121.5h0M111.5 135.9h0M110.1 144.2h0M111.4 137.5h0M109.1 146.0h0M108.3 148.2h0M117.7 46.6h0M103.8 142.2h0M93.7 57.2h0M97.9 136.0h0M105.0 135.4h0M113.6 98.5h0M103.3 121.0h0M103.4 139.3h0M111.9 134.3h0M111.4 147.3h0M86.4 123.0h0M105.0 139.8h0M103.0 109.2h0M104.5 110.8h0M103.6 102.1h0M108.9 147.3h0M107.6 146.3h0M114.9 141.2h0M107.6 144.3h0M107.6 146.8h0M109.7 145.0h0M104.1 130.9h0M108.9 148.0h0M101.5 140.5h0M113.1 128.8h0M117.4 138.1h0M110.4 146.9h0M112.5 144.6h0M108.4 148.6h0M102.4 144.3h0M107.6 147.1h0M115.3 131.1h0M115.3 142.7h0M119.6 97.8h0M103.7 142.5h0M109.0 148.0h0M107.9 147.6h0M108.3 148.0h0M106.9 146.0h0M106.0 128.8h0M95.3 137.9h0M94.7 82.4h0M107.5 147.8h0M107.3 141.6h0M122.0 140.7h0M108.8 147.5h0M95.6 55.3h0M137.6 120.2h0M108.8 148.0h0M117.9 129.8h0M101.3 139.7h0M107.4 147.1h0M111.8 145.6h0M104.0 95.7h0M109.1 148.3h0M107.5 144.6h0M108.5 148.8h0M109.0 146.9h0M108.8 148.8h0M108.0 146.4h0M109.3 144.5h0M111.3 127.9h0M111.5 126.9h0M110.1 148.0h0M107.5 144.0h0M105.3 129.4h0M117.0 137.3h0M114.9 100.4h0M102.6 136.1h0M120.0 36.7h0M101.1 140.3h0M99.4 142.5h0M121.4 63.1h0M107.4 142.5h0M100.7 89.4h0M132.3 121.1h0M115.5 144.1h0M100.2 74.7h0M143.7 117.0h0M107.0 140.4h0M108.8 147.9h0M115.6 107.8h0M106.7 140.1h0M109.9 140.3h0M106.8 142.9h0M111.4 134.0h0M105.6 147.4h0M111.3 145.2h0M109.7 142.4h0M91.2 115.5h0M103.7 116.7h0M107.9 146.6h0M100.8 141.4h0M115.7 30.3h0M108.1 147.2h0M119.9 142.7h0M107.3 148.0h0M105.6 144.2h0M111.0 144.7h0M103.1 119.5h0M109.5 142.8h0M118.5 140.5h0M113.3 111.3h0M110.0 144.2h0M80.5 33.9h0M104.9 120.4h0M141.4 121.7h0M110.1 145.6h0M110.3 145.9h0M105.4 139.8h0M113.1 126.9h0M114.5 139.5h0M97.5 134.2h0M107.7 148.2h0M107.3 145.9h0M101.0 108.7h0M104.4 135.3h0M107.8 148.1h0M114.7 133.4h0M110.6 143.9h0M114.4 126.4h0M115.6 142.3h0M107.7 146.2h0M108.2 148.3h0M107.0 140.1h0M105.7 145.1h0M76.4 112.2h0M104.9 128.2h0M109.4 147.1h0M107.3 142.8h0M125.8 26.8h0M104.4 139.5h0M113.7 93.0h0M103.3 126.1h0M107.4 147.5h0M101.8 138.1h0M108.4 148.7h0M122.7 133.6h0M115.9 140.5h0M105.7 125.4h0M109.8 144.1h0M100.0 99.3h0M111.9 120.1h0M107.0 143.4h0M109.8 144.2h0M108.3 148.3h0M98.1 86.6h0M111.7 135.3h0M111.6 141.7h0M106.1 143.3h0M112.9 131.1h0M103.9 123.8h0M94.8 82.7h0M75.9 100.1h0M103.2 133.9h0M100.2 109.6h0M109.8 145.2h0M111.9 137.4h0M105.1 133.2h0M106.4 142.9h0M108.7 148.3h0M105.9 132.5h0M109.0 147.3h0M108.6 148.7h0M88.4 41.8h0M112.0 121.7h0M108.3 148.3h0M109.4 146.7h0M112.0 133.6h0M116.1 135.4h0M110.1 142.4h0M106.0 137.6h0M94.4 86.7h0M103.2 92.7h0M120.5 133.7h0M107.1 147.6h0M99.9 62.1h0M108.1 147.0h0M109.5 144.5h0M109.8 142.2h0M120.9 131.6h0M106.9 147.0h0M111.1 130.5h0M98.2 124.6h0M119.2 91.6h0M107.8 147.6h0M112.9 107.4h0M105.9 147.6h0M97.1 28.5h0M112.3 139.3h0M112.5 124.0h0M107.9 148.2h0M109.7 145.4h0M108.0 146.4h0M110.0 138.8h0M106.8 137.9h0M109.5 145.9h0M105.2 142.2h0M104.7 131.3h0M94.5 77.8h0M117.6 128.2h0M110.5 138.1h0M107.9 147.5h0M106.7 138.9h0M119.9 72.6h0M108.7 148.5h0M97.6 38.9h0M120.7 98.9h0M100.6 64.1h0M110.0 145.9h0M111.2 145.4h0M112.3 141.1h0M109.7 145.1h0M96.1 135.3h0M106.7 144.2h0M105.5 130.1h0M105.4 144.3h0M120.6 101.3h0M104.5 119.2h0M111.8 115.9h0M108.7 148.3h0M106.7 140.9h0M112.9 103.3h0M114.7 119.6h0M113.8 141.5h0M102.7 72.5h0M111.2 137.7h0M109.6 142.6h0M109.9 142.1h0M108.1 146.9h0M107.3 142.8h0M103.0 84.1h0M119.6 15.7h0M110.0 145.6h0M105.1 143.4h0M106.0 141.1h0M101.1 115.4h0M111.5 130.4h0M112.5 133.8h0M107.4 142.8h0M115.3 144.8h0M85.8 122.3h0M105.9 137.0h0M115.8 116.7h0M110.5 135.7h0M105.2 137.5h0M109.5 147.1h0M108.8 147.4h0M103.1 143.5h0M108.5 148.9h0M102.9 135.2h0M109.9 143.6h0M109.3 146.7h0M121.1 126.0h0M109.0 148.2h0M99.3 106.6h0M117.9 141.3h0M124.4 136.3h0M105.7 138.4h0M98.1 51.6h0M112.1 132.6h0M118.7 143.1h0M124.7 120.4h0M103.2 127.8h0M104.2 141.2h0M104.7 119.8h0M108.2 147.6h0M106.3 147.2h0M109.9 144.0h0M109.6 142.9h0M101.9 135.4h0M100.9 59.3h0M95.1 65.2h0M111.4 126.6h0M97.4 96.1h0M109.0 146.9h0M98.0 142.9h0M109.3 146.1h0M108.9 147.4h0M99.3 112.0h0M93.8 101.4h0M112.7 142.9h0M111.3 141.0h0M96.3 85.9h0M104.8 141.0h0M111.0 139.3h0M93.4 134.6h0M130.4 103.7h0M128.9 135.7h0M104.7 125.6h0M136.6 115.6h0M105.2 147.0h0M112.0 122.7h0M107.6 146.6h0M111.2 137.0h0M88.5 22.9h0M96.3 127.0h0M104.8 145.6h0M107.0 146.4h0M106.1 129.1h0M110.6 134.7h0M96.3 79.3h0M123.2 132.5h0M97.2 64.8h0M124.2 126.4h0M109.8 143.9h0M104.6 140.1h0M96.8 137.2h0M108.8 148.0h0M104.3 130.1h0M105.7 128.6h0M101.1 55.7h0M113.1 102.2h0M121.6 138.7h0M103.4 142.8h0M101.0 113.7h0M110.1 138.7h0M105.7 142.8h0M108.2 148.1h0M114.1 145.0h0M109.7 147.8h0M99.4 127.4h0M91.9 39.0h0M111.0 140.8h0M108.3 148.7h0M110.3 137.0h0M104.9 131.8h0M104.8 146.2h0M104.6 136.7h0M91.9 134.9h0M110.8 147.1h0M109.2 146.5h0M115.5 143.7h0M113.9 126.4h0M106.5 142.8h0M102.1 134.4h0M133.8 128.6h0M110.3 138.6h0M110.6 140.3h0M106.3 143.3h0M111.5 135.0h0M111.8 122.4h0M107.5 148.1h0M108.4 148.6h0M103.6 136.6h0M134.1 113.1h0M104.6 144.4h0M109.2 147.9h0M107.1 143.0h0M107.5 146.1h0M78.0 124.8h0M112.1 116.5h0M98.3 54.0h0M107.7 148.2h0M107.9 147.1h0M111.3 138.9h0M123.2 36.0h0M101.9 52.5h0M90.4 131.4h0M109.2 147.6h0M103.8 105.8h0M106.6 143.1h0M90.8 134.1h0M116.3 136.9h0M108.9 146.6h0M115.2 94.9h0M109.4 144.9h0M93.9 139.0h0M108.5 148.8h0M99.3 72.7h0M108.6 148.7h0M108.4 148.7h0M112.2 136.4h0M93.4 130.0h0M99.0 127.6h0M116.4 122.8h0M94.8 47.8h0M111.9 119.9h0M112.4 145.8h0M102.6 144.0h0M97.5 61.7h0M105.6 138.2h0M113.9 137.5h0M113.0 137.9h0M100.0 38.4h0M114.7 143.2h0M108.9 148.7h0M109.9 146.2h0M108.0 146.7h0M109.5 146.6h0M105.1 121.7h0M109.4 147.8h0M110.0 140.4h0M109.0 146.8h0M101.9 135.0h0M111.2 146.4h0M112.0 144.9h0M108.7 148.0h0M114.2 74.6h0M100.9 33.8h0M102.4 87.4h0M98.2 123.5h0M113.3 127.7h0M100.9 56.3h0M114.0 101.1h0M108.1 147.4h0M106.7 146.2h0M108.0 147.1h0M106.1 144.0h0M113.5 100.9h0M109.1 146.6h0M96.0 127.3h0M107.3 144.4h0M111.0 133.1h0M107.4 144.8h0M118.0 137.4h0M109.7 146.4h0M113.0 144.6h0M107.7 145.6h0M116.0 105.5h0M109.8 145.2h0M105.4 122.3h0M108.7 147.9h0M107.6 148.0h0M104.0 144.7h0M113.3 139.1h0M107.4 146.4h0M80.9 119.1h0M112.2 111.3h0M113.6 133.1h0M119.1 134.6h0M109.6 146.0h0M110.6 139.0h0M113.2 105.1h0M107.3 142.5h0M103.1 116.2h0M111.9 136.0h0M107.1 143.7h0M101.7 115.0h0M108.2 148.5h0M106.1 134.0h0M106.5 138.2h0M108.8 148.0h0M92.7 131.6h0M107.5 143.7h0M101.4 92.4h0M105.3 139.5h0M109.4 143.9h0M108.5 148.9h0M112.2 122.7h0M104.7 132.8h0M110.6 142.6h0M98.1 138.9h0M125.8 66.6h0M102.4 144.2h0M111.7 137.1h0M111.6 143.2h0M108.4 148.7h0M105.2 132.0h0M103.0 107.7h0M107.2 140.3h0M114.0 77.4h0M112.1 144.3h0M113.3 133.4h0M113.2 109.0h0M108.3 148.2h0M109.4 143.3h0M114.4 113.2h0M114.9 131.9h0M106.6 136.5h0M106.8 140.6h0M109.1 146.1h0M90.5 33.2h0M109.1 145.9h0M113.8 146.3h0M116.0 132.0h0M103.8 144.5h0M105.2 137.6h0M109.3 144.9h0M110.0 139.5h0M117.0 138.1h0M107.6 145.6h0M107.9 145.9h0M111.5 139.0h0M113.7 81.4h0M112.0 128.1h0M115.8 104.1h0M107.1 145.0h0M109.2 147.3h0M117.1 130.6h0M103.1 91.9h0M122.2 29.1h0M114.0 127.8h0M111.7 136.5h0M107.6 145.1h0M113.7 86.3h0M107.9 146.3h0M110.1 138.8h0M125.1 92.6h0M105.8 145.3h0M105.5 129.8h0M111.0 141.8h0M83.2 122.8h0M102.2 85.0h0M97.6 112.4h0M95.5 81.8h0M101.3 43.9h0M103.7 101.8h0M106.7 140.7h0M110.5 134.1h0M106.4 139.0h0M107.8 147.0h0M109.3 146.4h0M109.1 146.4h0M159.5 16.2h0M119.2 84.1h0M83.8 115.2h0M110.4 143.8h0M108.3 148.6h0M100.3 138.9h0M109.5 144.9h0M116.0 109.0h0M105.6 129.9h0M104.0 145.7h0M107.3 141.9h0M94.7 86.5h0M110.8 145.5h0M108.0 147.1h0M113.3 132.5h0M110.0 138.9h0M113.6 116.8h0M106.4 136.1h0M108.1 147.1h0M118.6 141.1h0M102.8 90.1h0M106.9 141.9h0M112.6 122.9h0M106.2 139.4h0M97.9 35.3h0M107.2 144.0h0M121.3 123.3h0M108.4 148.5h0M109.4 144.2h0M114.8 79.6h0M108.1 148.6h0M117.3 139.5h0M111.5 131.0h0M105.1 140.9h0M136.8 122.3h0M108.2 147.4h0M114.5 146.0h0M96.7 131.5h0M85.5 107.4h0M106.0 146.0h0M100.5 56.6h0M96.2 86.8h0M109.8 146.8h0M103.6 110.5h0M106.9 142.2h0M110.0 140.2h0M106.5 143.7h0M107.1 142.8h0M112.8 146.7h0M107.3 141.5h0M102.7 143.8h0M107.2 142.1h0M116.2 14.5h0M115.0 82.6h0M103.2 85.9h0M111.0 134.6h0M105.4 135.2h0M110.4 139.8h0M105.4 131.2h0M105.1 143.2h0M105.8 145.5h0M108.8 147.7h0M115.7 91.4h0M114.4 114.1h0M106.9 145.6h0M105.6 136.0h0M112.5 143.4h0M96.4 91.8h0M92.7 103.9h0M109.2 147.7h0M110.1 147.2h0M98.4 135.2h0M109.9 141.0h0M118.9 139.9h0M100.4 70.2h0M106.3 144.6h0M107.7 145.2h0M110.0 141.4h0M108.4 148.6h0M104.8 120.1h0M100.4 12.5h0M103.4 138.3h0M97.9 113.3h0M103.8 122.1h0M116.3 143.8h0M110.1 144.1h0M109.9 144.9h0M99.6 109.7h0M107.7 145.2h0M103.8 137.0h0M108.5 148.8h0M98.8 94.4h0M101.9 48.2h0M113.3 135.6h0M106.6 143.9h0M121.8 80.4h0M106.4 137.0h0M109.1 145.6h0M111.3 138.7h0M118.2 138.9h0M103.1 116.9h0M110.9 131.6h0M108.8 148.6h0M107.6 145.7h0M103.6 141.5h0M105.2 139.0h0M106.4 143.5h0M109.4 144.0h0M85.8 93.0h0M108.0 146.8h0M98.3 135.9h0M103.8 135.1h0M104.7 143.2h0M110.1 140.6h0M99.2 141.9h0M96.5 27.1h0M105.7 128.2h0M106.0 143.6h0M142.1 108.1h0M118.1 108.0h0M106.6 146.1h0M102.2 135.2h0M107.6 144.0h0M110.0 140.2h0M97.7 138.6h0M110.4 140.6h0M131.7 116.4h0M101.0 86.1h0M112.0 113.7h0M113.9 127.6h0M128.4 133.4h0M108.5 148.8h0M108.9 147.8h0M116.9 123.8h0M104.5 121.5h0M112.9 126.1h0M108.4 148.8h0M103.6 124.9h0M113.7 127.7h0M115.4 98.5h0M105.8 142.1h0M115.6 117.7h0M111.4 126.7h0M119.4 140.7h0M108.1 148.4h0M127.4 121.1h0M108.5 148.8h0M106.2 144.5h0M112.0 146.1h0M78.2 98.2h0M100.2 113.4h0M120.5 84.1h0M115.0 62.1h0M112.6 134.2h0M103.3 133.9h0M118.0 123.6h0M112.2 110.9h0M111.6 135.8h0M108.0 146.3h0M107.9 147.1h0M112.3 127.3h0M102.8 129.8h0M106.1 129.8h0M105.6 138.3h0M103.3 135.4h0M108.3 148.6h0M108.0 146.4h0M111.2 140.8h0M101.9 132.2h0M112.0 123.6h0M104.0 100.3h0M118.8 79.8h0M109.6 146.0h0M104.9 145.5h0M102.1 130.0h0M109.7 142.1h0M117.3 143.0h0M111.7 145.2h0M107.1 140.8h0M109.0 147.0h0M108.0 146.9h0M112.8 138.7h0M101.7 138.0h0M107.3 145.0h0M106.1 137.8h0M107.0 143.0h0M113.4 141.8h0M105.3 128.6h0M103.3 105.6h0M108.9 147.4h0M109.1 146.8h0M110.2 140.6h0M90.5 60.4h0M116.4 139.2h0M116.0 141.7h0M101.7 118.9h0M110.1 142.2h0M110.7 145.5h0M108.2 147.3h0M112.3 144.3h0M104.7 118.7h0M110.1 138.8h0M113.4 128.7h0M114.3 146.0h0M105.6 146.2h0M109.0 147.8h0M150.1 88.2h0M108.9 147.0h0M94.7 90.1h0M104.4 120.6h0M95.9 127.1h0M90.3 132.9h0M113.0 140.1h0M109.7 145.6h0M104.6 106.9h0M108.2 148.0h0M106.9 142.4h0M107.5 145.6h0M111.5 141.6h0M90.3 51.2h0M113.8 118.1h0M109.5 144.6h0M108.5 148.8h0M106.8 136.6h0M106.0 135.0h0M100.7 136.4h0M112.2 126.6h0M106.7 135.9h0M113.0 142.9h0M104.5 128.0h0M87.7 124.5h0M105.9 142.6h0M108.2 148.3h0M111.2 137.9h0M105.6 137.3h0M111.4 146.6h0M102.0 140.0h0M107.3 141.7h0M116.2 134.6h0M110.5 141.1h0M102.2 70.1h0M103.1 144.7h0M120.7 128.4h0M112.0 123.0h0M110.3 143.4h0M97.1 137.5h0M101.5 127.6h0M123.2 49.0h0M111.3 136.2h0M111.4 146.3h0M111.6 127.2h0M99.4 124.3h0M107.8 147.5h0M107.0 144.7h0M114.8 125.1h0M123.3 116.7h0M115.8 141.3h0M111.5 133.0h0M109.4 147.2h0M90.1 119.2h0M94.1 57.0h0M103.6 145.4h0M90.8 127.3h0M113.1 142.6h0M109.5 145.1h0M102.2 118.7h0M111.5 130.4h0M112.5 116.4h0M107.6 144.9h0M105.7 124.1h0M110.6 134.4h0M107.4 143.2h0M105.9 130.2h0M111.6 135.6h0M114.6 61.0h0M110.3 141.8h0M102.9 122.7h0M113.1 116.8h0M104.7 125.8h0M110.6 134.1h0M110.1 146.7h0M107.8 147.1h0M110.0 141.2h0M106.2 136.0h0M107.9 146.4h0M114.8 111.9h0M108.5 148.9h0M114.8 65.9h0M109.2 146.5h0M112.2 138.7h0M107.9 146.1h0M110.1 145.4h0M107.2 147.3h0M107.0 147.0h0M106.9 139.1h0M112.0 138.6h0M103.1 126.3h0M110.8 138.2h0M120.6 83.5h0M107.2 142.7h0M128.6 15.8h0M106.4 144.8h0M112.3 138.0h0M105.0 144.8h0M109.1 146.5h0M107.4 145.3h0M110.6 137.3h0M108.6 148.7h0M97.6 90.6h0M110.6 134.5h0M115.8 123.7h0M99.4 140.4h0M105.6 139.3h0M118.5 80.8h0M107.1 143.6h0M110.9 136.0h0M90.6 130.3h0M107.9 145.8h0M109.1 147.8h0M90.8 116.0h0M107.2 147.9h0M118.1 135.7h0M105.5 137.2h0M101.7 143.5h0M108.1 148.7h0M109.5 146.8h0M114.4 96.1h0M110.7 141.1h0M109.6 144.2h0M110.6 142.4h0M104.2 145.7h0M112.0 122.1h0M101.2 128.0h0M107.9 146.5h0M115.2 109.2h0M119.1 134.5h0M109.6 145.2h0M106.5 145.1h0M101.8 109.5h0M118.1 110.9h0M108.7 148.8h0M99.5 143.6h0M121.1 49.4h0M108.0 146.4h0M98.0 136.4h0M103.1 78.7h0M106.8 138.7h0M110.2 139.5h0M114.2 128.5h0M110.9 137.4h0M108.1 148.7h0M117.0 120.6h0M100.7 92.4h0M116.4 125.6h0M115.0 141.3h0M112.5 114.5h0M117.6 137.7h0M105.2 122.6h0M82.8 127.3h0M111.1 126.8h0M97.9 139.7h0M110.0 144.2h0M105.0 139.5h0M102.5 88.6h0M101.0 111.5h0M108.5 148.8h0M108.7 147.9h0M107.6 147.5h0M107.3 143.4h0M104.3 104.8h0M105.3 141.7h0M96.3 135.3h0M109.6 144.0h0M123.0 131.0h0M108.4 148.7h0M110.7 139.9h0M106.1 134.8h0M106.9 137.2h0M108.7 148.5h0M120.6 138.1h0M124.8 132.5h0M110.3 138.8h0M114.4 70.7h0M109.0 147.1h0M98.6 83.4h0M119.4 59.0h0M109.0 146.5h0M106.0 138.8h0M102.6 121.3h0M105.9 139.4h0M106.7 142.3h0M101.1 143.8h0M107.3 147.0h0M107.5 144.2h0M114.8 145.1h0M113.1 141.5h0M112.8 142.8h0M107.7 148.4h0M109.4 148.5h0M103.3 142.3h0M91.9 98.8h0M109.7 145.7h0M109.9 140.4h0M109.4 143.6h0M107.0 140.1h0M108.9 147.6h0M122.9 119.0h0M103.4 95.4h0M107.0 140.3h0M107.5 144.4h0M123.8 128.4h0M113.3 140.1h0M106.2 133.9h0M107.6 148.2h0M104.7 140.2h0M116.4 126.2h0M130.2 115.0h0M110.4 137.2h0M109.0 148.1h0M107.8 145.3h0M111.7 131.7h0M98.5 25.1h0M122.8 62.9h0M105.2 147.0h0M109.0 148.0h0M113.2 123.8h0M127.9 109.5h0M105.3 144.5h0M98.1 31.8h0M106.7 147.5h0M93.5 133.2h0M104.8 132.4h0M106.6 135.9h0M102.4 103.8h0M102.0 94.5h0M98.6 29.4h0M99.5 97.4h0M100.3 143.4h0M102.8 127.8h0M109.7 147.8h0M113.5 90.6h0M117.0 107.2h0M108.7 148.3h0M95.9 95.4h0M110.3 145.4h0M46.9 37.1h0M98.0 139.6h0M108.2 148.2h0M111.0 135.5h0M123.1 113.0h0M105.2 141.3h0M108.8 147.5h0M106.1 135.6h0M106.9 139.7h0M124.9 115.1h0M121.1 91.0h0M123.1 21.3h0M116.5 94.4h0M72.3 112.7h0M111.2 142.6h0M109.0 148.6h0M107.5 143.5h0M105.8 141.6h0M129.5 13.1h0M105.6 137.2h0M107.1 146.9h0M120.3 135.7h0M105.4 123.5h0M110.4 147.1h0M110.6 141.4h0M101.8 110.0h0M91.9 125.1h0M112.0 135.6h0M107.5 146.7h0M113.8 95.3h0M144.2 109.1h0M110.0 143.6h0M118.2 133.6h0M102.2 138.3h0M132.6 131.6h0M108.4 148.8h0M105.2 128.6h0M105.5 138.2h0M124.6 127.3h0M111.6 123.0h0M107.5 147.3h0M119.7 137.3h0M110.0 143.7h0M93.1 137.7h0M110.6 137.9h0M120.4 142.0h0M110.0 141.5h0M104.3 134.9h0M115.5 134.5h0M117.3 96.0h0M111.2 135.7h0M119.9 140.3h0M111.3 140.2h0M106.4 145.4h0M112.4 138.1h0M103.7 144.9h0M106.9 140.4h0M110.9 132.2h0M109.4 144.0h0M109.0 148.3h0M105.6 134.2h0M107.2 145.2h0M102.8 143.7h0M105.8 144.9h0M109.6 143.8h0M109.6 145.6h0M109.2 146.3h0M111.7 124.4h0M115.1 101.9h0M116.8 143.7h0M108.5 148.9h0M104.8 119.6h0M111.0 134.8h0M106.7 141.9h0M108.6 148.7h0M114.7 128.6h0M116.8 123.0h0M107.0 144.6h0M95.6 118.8h0M130.8 130.6h0M107.7 146.9h0M114.1 118.2h0M109.2 145.4h0M97.7 138.2h0M105.0 124.0h0M108.5 148.9h0M98.0 140.0h0M95.8 133.5h0M119.5 88.2h0M103.9 134.8h0M118.3 121.2h0M101.8 141.6h0M114.8 144.8h0M95.3 117.2h0M107.3 142.7h0M109.4 145.3h0M104.7 131.1h0M109.3 148.1h0M111.3 142.2h0M110.2 147.1h0M104.2 146.8h0M110.4 136.6h0M112.2 132.0h0M111.7 134.8h0M100.0 117.3h0M94.9 76.9h0M117.3 142.7h0M96.0 111.6h0M111.8 136.3h0M110.3 142.9h0M107.7 145.4h0M114.6 144.3h0M107.5 143.8h0M111.0 132.5h0M108.3 148.5h0M106.0 140.1h0M98.7 108.3h0M106.5 140.5h0M106.3 144.4h0M108.3 148.1h0M110.3 139.9h0M103.8 123.4h0M106.0 129.9h0M108.4 148.8h0M82.7 92.6h0M96.1 71.2h0M109.5 146.3h0M102.9 94.2h0M116.4 109.8h0M105.9 134.7h0M112.6 140.0h0M105.4 146.4h0M112.9 139.3h0M99.9 89.3h0M109.5 144.3h0M100.7 24.3h0M108.6 148.5h0M106.8 145.6h0M102.7 106.5h0M115.8 142.1h0M114.9 125.0h0M116.6 125.7h0M112.3 143.9h0M102.2 141.7h0M109.6 144.7h0M111.1 131.0h0M106.2 130.7h0M105.9 136.6h0M113.0 100.4h0M104.8 135.9h0M113.5 130.9h0M109.6 144.6h0M109.1 146.7h0M104.2 146.7h0M104.5 105.9h0M107.9 148.5h0M107.7 144.8h0M107.3 142.6h0M116.7 140.4h0M77.7 120.1h0M108.4 148.5h0M96.6 98.5h0M98.1 107.1h0M108.1 147.6h0M111.5 121.5h0M102.3 118.5h0M111.4 143.2h0M107.6 147.0h0M110.7 139.9h0M107.3 144.2h0M105.0 130.8h0M111.2 134.7h0M101.3 48.8h0M112.2 134.3h0M109.1 145.9h0M107.4 146.1h0M111.5 136.6h0M111.5 140.0h0M106.1 144.6h0M108.7 148.7h0M102.6 102.1h0M102.8 81.7h0M115.5 137.2h0M107.2 142.2h0M91.5 18.1h0M97.4 139.6h0M101.4 92.6h0M115.7 37.5h0M104.8 132.7h0M115.0 145.7h0M112.5 126.1h0M106.6 142.1h0M116.7 107.6h0M111.3 126.6h0M94.1 34.3h0M112.4 117.5h0M106.0 138.5h0M111.0 130.7h0M120.1 70.9h0M105.8 135.2h0M84.9 132.7h0M117.5 140.0h0M106.2 147.0h0M104.1 143.3h0M100.4 62.7h0M109.5 145.9h0M111.7 136.7h0M113.8 138.0h0M106.2 137.7h0M94.0 73.0h0M113.8 135.4h0M89.9 125.7h0M108.7 148.8h0M109.0 146.4h0M109.2 147.9h0M105.4 136.2h0M109.8 146.1h0M104.8 132.9h0M116.6 138.7h0M111.6 140.0h0M108.0 146.6h0M107.3 143.0h0M108.4 148.2h0M108.2 148.3h0M112.0 141.1h0M110.4 144.1h0M111.5 133.1h0M108.4 148.4h0M105.6 141.8h0M118.9 111.2h0M112.0 135.2h0M138.3 111.2h0M114.7 143.3h0M112.6 121.9h0M106.4 138.3h0M100.5 141.6h0M106.5 143.7h0M114.8 144.7h0M106.7 138.0h0M109.5 147.1h0M100.7 110.1h0M104.2 143.5h0M104.8 131.2h0M109.8 143.1h0M88.8 125.2h0M113.0 137.0h0M93.1 134.3h0M112.9 135.4h0M106.5 142.9h0M110.5 140.4h0M104.4 117.8h0M103.0 143.7h0M105.1 132.2h0M111.9 129.8h0M106.6 136.7h0M117.0 138.7h0M111.6 124.4h0M116.9 115.9h0M105.0 126.8h0M111.6 134.8h0M103.3 131.9h0M125.2 124.4h0M106.2 139.2h0M98.0 107.4h0M111.3 127.5h0M115.0 106.6h0M113.6 123.2h0M111.6 133.9h0M111.5 121.7h0M108.1 146.8h0M105.0 138.8h0M93.2 43.5h0M106.4 134.6h0M124.6 96.8h0M102.8 117.1h0M110.4 139.9h0M106.3 137.6h0M85.9 106.5h0M105.6 127.3h0M98.1 128.7h0M104.4 139.8h0M105.6 135.7h0M104.4 126.2h0M115.8 101.2h0M110.4 136.2h0M109.7 145.7h0M113.4 114.5h0M107.9 146.3h0M107.9 146.7h0M110.1 148.0h0M93.3 101.6h0M105.5 132.0h0M119.0 127.7h0M104.9 137.8h0M105.0 131.5h0M90.9 129.6h0M117.6 99.0h0M111.1 136.1h0M109.3 145.1h0M115.9 61.3h0M118.3 104.9h0M108.3 148.0h0M109.2 145.6h0M106.6 136.2h0M114.5 127.1h0M110.3 147.7h0M109.1 145.8h0M109.4 146.6h0M119.7 84.0h0M109.2 145.2h0M106.1 132.9h0M116.3 143.5h0M111.2 133.4h0M107.6 145.3h0M106.3 136.4h0M114.6 99.3h0M110.9 144.1h0M115.9 22.3h0M100.8 97.4h0M121.9 124.3h0M100.1 89.3h0M105.4 130.9h0M87.8 130.3h0M100.4 111.0h0M109.9 145.7h0M101.7 123.2h0M111.7 125.4h0M79.5 86.4h0M106.9 138.1h0M92.4 43.7h0M109.3 147.5h0M103.0 117.1h0M113.4 129.3h0M110.1 141.8h0M95.8 133.6h0M113.6 113.5h0M117.3 142.3h0M106.6 143.2h0M104.7 134.4h0M102.4 122.5h0M117.3 137.2h0M98.5 139.9h0M106.7 145.3h0M117.5 72.7h0M105.9 144.8h0M95.4 81.2h0M111.0 143.8h0M98.7 134.1h0M121.4 95.7h0M106.1 134.5h0M97.3 94.0h0M103.0 145.0h0M100.4 120.8h0M100.8 121.6h0M102.4 126.4h0M116.9 119.5h0M114.5 128.6h0M113.5 136.1h0M115.0 128.0h0M105.0 114.5h0M106.0 145.1h0M103.5 100.4h0M106.9 145.8h0M103.3 129.7h0M76.8 108.0h0M132.1 131.6h0M116.4 74.6h0M113.4 125.5h0M111.1 144.8h0M113.6 143.9h0M115.9 113.4h0M93.3 16.2h0M107.4 146.6h0M108.6 148.8h0M92.6 130.5h0M108.3 147.9h0M106.0 146.3h0M108.0 146.8h0M115.4 121.0h0M107.7 145.8h0M115.9 139.7h0M107.4 145.8h0M102.9 127.1h0M121.7 98.3h0M106.3 139.7h0M113.4 143.2h0M113.7 145.9h0M110.3 137.4h0M105.1 135.3h0M105.0 140.6h0M111.7 142.3h0M90.8 137.3h0M110.6 142.2h0M103.8 136.5h0M117.3 108.1h0M108.5 148.8h0M110.7 146.7h0M123.7 137.2h0M112.6 128.6h0M108.9 147.1h0M109.0 146.6h0M102.0 132.2h0M136.2 101.4h0M108.6 148.4h0M104.7 139.1h0M136.0 113.4h0M107.2 143.5h0M128.5 111.6h0M119.7 50.0h0M112.6 138.1h0M105.7 131.1h0M109.8 142.9h0M119.0 38.3h0M108.6 148.7h0M106.7 136.9h0M106.9 148.2h0M114.8 95.4h0M110.0 146.8h0M114.2 122.1h0M108.8 148.6h0M109.6 145.3h0M105.6 134.1h0M123.2 139.0h0M105.5 133.4h0M113.0 136.3h0M71.8 73.7h0M107.2 145.3h0M110.5 135.1h0M104.7 131.3h0M105.7 126.9h0M107.1 142.9h0M104.0 119.4h0M118.4 98.1h0M110.1 140.3h0M120.2 87.7h0M103.7 121.4h0M103.9 138.2h0M105.3 129.6h0M120.8 78.5h0M108.4 148.6h0M121.4 24.8h0M151.2 62.2h0M110.5 143.9h0M106.1 145.2h0M111.6 142.8h0M107.1 140.5h0M126.3 137.5h0M99.9 16.4h0M90.8 121.9h0M114.4 142.2h0M110.0 143.7h0M100.8 108.5h0M115.5 144.6h0M109.4 145.0h0M97.4 133.2h0M101.4 97.0h0M95.4 112.2h0M106.6 137.8h0M103.6 131.1h0M103.5 131.4h0M98.8 60.7h0M110.8 133.2h0M107.9 146.0h0M105.3 139.0h0M106.4 134.2h0M117.5 132.1h0M105.6 127.2h0M107.7 146.9h0M109.8 144.7h0M106.6 139.5h0M105.5 131.3h0M117.3 143.0h0M109.3 145.4h0M113.1 143.1h0M109.7 144.3h0M109.9 144.8h0M114.0 144.5h0M100.2 133.5h0M97.0 141.9h0M111.6 140.5h0M100.9 114.5h0M106.6 147.0h0M101.4 137.0h0M118.3 115.6h0M119.6 130.5h0M106.8 139.1h0M108.3 148.6h0M89.4 132.8h0M108.3 148.0h0M74.3 71.3h0M108.5 148.9h0M118.3 143.6h0M111.1 130.3h0M110.3 137.7h0M107.5 144.9h0M108.6 148.5h0M110.2 142.4h0M120.7 100.6h0M106.4 146.7h0M117.2 139.7h0M109.3 144.5h0M102.0 136.9h0M112.8 135.6h0M112.0 142.4h0M116.2 132.4h0M109.5 145.8h0M117.0 96.8h0M98.1 134.9h0M113.9 134.3h0M114.2 144.4h0M119.9 132.6h0M104.2 134.2h0M111.8 121.1h0M118.9 51.1h0M108.2 148.4h0M106.0 144.3h0M100.0 131.7h0M108.6 148.8h0M129.1 114.4h0M112.7 124.3h0M108.0 147.8h0M98.3 136.0h0M107.5 144.1h0M107.1 141.4h0M100.8 143.8h0M105.9 140.9h0M99.3 143.5h0M103.7 140.1h0M98.1 141.9h0M104.4 131.9h0M109.7 144.0h0M101.6 137.7h0M126.5 129.4h0M114.9 92.2h0M107.2 145.0h0M105.3 142.2h0M106.1 147.0h0M109.3 147.7h0M103.7 90.3h0M107.3 144.3h0M107.8 147.3h0M113.5 142.3h0M111.5 124.4h0M110.4 136.1h0M109.8 146.3h0M99.5 47.3h0M108.7 148.3h0M104.1 141.7h0M77.3 125.0h0M108.3 148.0h0M105.3 122.6h0M115.7 42.8h0M112.4 120.8h0M110.0 139.6h0M105.9 143.0h0M112.5 130.0h0M110.6 142.6h0M108.1 147.7h0M108.5 148.9h0M106.2 142.9h0M116.1 145.1h0M104.3 128.6h0M126.8 137.6h0M102.3 86.5h0M110.3 139.1h0M105.5 126.4h0M122.6 86.3h0M106.8 147.6h0M104.6 138.8h0M111.4 140.1h0M102.2 107.2h0M97.3 141.7h0M105.6 137.0h0M133.5 113.8h0M136.2 89.8h0M115.7 127.2h0M117.9 64.4h0M112.7 138.1h0M110.6 139.1h0M107.4 143.1h0M92.9 137.1h0M109.8 144.5h0M127.3 98.4h0M125.9 116.9h0M108.0 147.4h0M99.0 109.9h0M119.3 63.8h0M111.2 140.0h0M102.4 103.3h0M106.7 146.3h0M118.2 92.5h0M104.6 106.8h0M111.6 130.2h0M115.2 102.3h0M103.9 131.6h0M112.7 131.6h0M108.2 147.3h0M107.3 144.0h0M111.9 133.5h0M107.8 145.4h0M100.1 18.2h0M105.9 141.8h0M111.3 136.6h0M104.7 109.2h0M104.0 145.8h0M110.1 143.9h0M108.1 147.5h0M108.5 148.8h0M107.4 143.6h0M113.4 137.4h0M112.6 105.0h0M115.1 137.1h0M107.0 141.0h0M112.5 138.5h0M85.7 125.1h0M108.6 148.7h0M116.4 144.5h0M108.6 148.7h0M123.6 34.7h0M96.4 133.7h0M118.4 68.2h0M109.4 145.7h0M94.7 137.3h0M107.8 147.0h0M105.1 129.7h0M115.2 144.6h0M107.6 148.1h0M115.4 131.2h0M94.6 138.4h0M109.2 145.6h0M107.6 143.9h0M110.4 138.0h0M110.7 132.8h0M130.2 106.7h0M106.4 141.4h0M113.2 92.1h0M109.6 147.0h0M105.7 137.3h0M96.2 93.1h0M96.2 103.1h0M111.5 146.5h0M99.0 143.1h0M113.4 135.4h0M89.1 42.8h0M112.6 127.5h0M108.5 148.8h0M105.7 145.0h0M109.2 147.2h0M107.5 147.6h0M113.2 117.0h0M107.6 146.6h0M109.8 144.6h0M113.8 132.3h0M114.7 121.3h0M112.0 136.1h0M109.6 144.9h0M111.9 135.4h0M100.5 140.4h0M110.3 140.8h0M108.6 148.7h0M103.3 133.5h0M110.7 142.9h0M100.9 62.0h0M96.0 136.8h0M104.9 120.4h0M110.4 141.6h0M108.1 147.3h0M109.6 143.8h0M110.8 139.6h0M109.7 145.0h0M128.3 13.5h0M106.1 141.8h0M109.7 146.1h0M112.7 106.3h0M110.5 138.9h0M109.5 143.3h0M103.1 111.6h0M108.0 147.5h0M106.1 143.1h0M113.5 135.6h0M110.4 137.4h0M100.0 138.8h0M115.9 143.4h0M110.8 133.0h0M114.4 134.3h0M100.2 121.9h0M103.7 129.3h0M114.0 117.4h0M117.9 88.1h0M104.9 116.8h0M106.9 141.1h0M105.8 134.2h0M117.8 98.1h0M99.3 92.5h0M114.2 144.1h0M110.1 142.3h0M127.5 135.8h0M111.8 122.3h0M107.9 147.1h0M100.4 18.9h0M114.8 108.4h0M112.7 124.9h0M99.0 140.6h0M113.1 95.2h0M125.1 123.4h0M90.9 137.1h0M115.5 140.5h0M111.5 124.2h0M103.1 132.9h0M104.4 136.5h0M107.9 146.6h0M127.6 133.8h0M129.5 38.9h0M111.3 140.9h0M109.2 148.0h0M106.0 144.1h0M108.1 146.7h0M105.6 147.3h0M103.8 103.2h0M104.7 136.2h0M123.3 130.8h0M104.7 139.7h0M98.6 111.9h0M112.4 135.7h0M110.6 140.3h0M111.3 146.5h0M122.9 52.2h0M116.6 113.1h0M97.9 94.5h0M134.3 125.9h0M109.3 146.6h0M116.8 96.3h0M110.4 140.8h0M109.2 145.6h0M107.1 144.6h0M109.4 144.2h0M106.9 141.0h0M116.6 136.4h0M122.0 130.5h0M95.9 63.7h0M100.4 124.7h0M111.4 128.3h0M102.6 80.6h0M107.3 144.1h0M102.5 139.5h0M111.5 125.9h0M106.6 141.2h0M100.8 126.2h0M112.6 131.2h0M104.6 127.3h0M104.5 132.9h0M104.4 129.3h0M97.8 99.3h0M116.0 56.8h0M104.3 114.7h0M94.7 133.2h0M97.0 96.6h0M111.2 141.0h0M116.8 99.0h0M108.5 148.7h0M122.0 91.4h0M117.0 82.6h0M104.0 146.6h0M114.7 71.8h0M124.0 56.3h0M101.9 127.6h0M104.3 144.3h0M110.2 140.0h0M109.9 144.5h0M107.9 147.1h0M112.1 122.5h0M101.6 142.6h0M104.8 146.8h0M104.7 143.1h0M109.3 145.7h0M107.4 143.2h0M111.8 141.4h0M108.4 148.2h0M104.7 145.5h0M103.8 125.7h0M103.4 144.9h0M111.4 143.4h0M113.9 141.1h0M106.7 139.9h0M114.1 133.1h0M112.5 134.3h0M110.1 144.3h0M120.5 104.7h0M105.0 123.0h0M107.9 146.1h0M99.1 89.1h0M107.3 146.5h0M106.4 145.0h0M96.8 44.3h0M110.3 141.1h0M114.1 102.9h0M110.8 147.6h0M41.1 26.4h0M108.1 148.0h0M110.7 142.3h0M96.9 16.9h0M118.9 125.3h0M124.4 78.4h0M111.0 135.5h0M114.0 94.8h0M108.8 147.8h0M107.2 141.8h0M120.0 78.7h0M98.5 129.2h0M105.2 136.6h0M108.9 147.2h0M114.3 76.1h0M104.1 142.1h0M118.8 54.5h0M103.6 131.6h0M114.8 138.6h0M112.2 122.8h0M104.1 117.7h0M108.4 148.6h0M90.5 134.0h0M110.3 139.3h0M112.4 144.4h0M106.7 137.7h0M103.9 133.5h0M110.7 133.4h0M131.9 130.2h0M105.5 139.6h0M115.5 122.0h0M116.4 21.6h0M109.5 143.4h0M107.4 147.4h0M109.9 140.2h0M109.8 139.9h0M106.9 143.5h0M112.1 140.6h0M106.2 139.2h0M110.2 144.9h0M73.0 19.2h0M109.5 146.0h0M100.4 123.1h0M109.7 143.4h0M94.7 38.0h0M122.2 68.3h0M107.0 143.4h0M106.4 146.5h0M112.4 123.5h0M110.1 143.0h0M109.9 147.9h0M103.9 108.4h0M108.6 148.7h0M110.2 137.0h0M101.5 143.0h0M108.2 148.3h0M106.0 130.6h0M111.5 133.2h0M110.4 143.8h0M106.9 142.5h0M104.9 116.8h0M118.0 139.4h0M98.7 63.3h0M100.8 12.9h0M108.9 148.2h0M108.3 148.1h0M109.4 144.5h0M110.3 144.7h0M111.7 129.6h0M115.7 89.9h0M109.9 146.1h0M118.4 53.1h0M99.4 86.9h0M107.5 144.5h0M109.2 145.1h0M104.7 115.3h0M113.7 82.7h0M104.7 139.2h0M97.4 91.2h0M111.9 121.5h0M118.6 113.2h0M110.6 138.0h0M108.6 148.8h0M109.2 146.7h0M107.0 143.7h0M107.7 148.3h0M108.7 148.3h0M116.6 141.6h0M110.0 145.1h0M109.7 141.8h0M103.1 119.3h0M103.8 122.8h0M109.4 144.1h0M110.9 145.4h0M111.3 135.0h0M107.2 147.0h0M95.9 51.2h0M108.9 148.2h0M109.6 143.5h0M107.1 139.2h0M109.9 143.2h0M109.2 146.6h0M109.4 144.0h0M108.7 148.6h0M112.5 145.0h0M126.9 132.7h0M110.0 138.9h0M116.3 69.4h0M104.5 133.2h0M103.7 132.3h0M113.2 142.6h0M102.1 65.7h0M110.6 144.3h0M94.5 132.8h0M110.1 139.1h0M119.3 17.0h0M107.0 147.3h0M106.2 135.3h0M111.2 130.4h0M106.2 138.4h0M112.9 108.2h0M139.1 107.8h0M115.2 107.5h0M120.4 138.8h0M107.2 143.3h0M110.5 141.3h0M103.9 127.0h0M98.0 113.6h0M110.4 137.2h0M108.8 147.5h0M99.9 33.7h0M109.8 144.1h0M100.6 143.9h0M118.0 89.7h0M106.8 138.9h0M98.3 122.1h0M112.3 129.5h0M109.3 144.5h0M114.7 68.2h0M106.1 136.6h0M107.3 142.1h0M114.9 133.3h0M118.2 140.9h0M107.6 144.1h0M108.5 148.9h0M95.2 117.2h0M106.4 144.3h0M93.2 135.7h0M108.2 147.8h0M124.9 132.5h0M110.3 147.4h0M106.1 145.5h0M108.4 148.6h0M117.6 134.4h0M115.8 82.7h0M110.9 147.0h0M109.0 146.4h0M118.7 32.9h0M133.3 91.0h0M99.7 118.8h0M105.6 133.7h0M105.9 146.0h0M109.7 143.2h0M116.2 29.5h0M109.4 147.3h0M102.4 127.2h0M92.4 108.0h0M111.5 124.7h0M97.5 102.4h0M106.4 138.7h0M108.7 148.4h0M101.5 124.7h0M104.9 136.0h0M114.5 107.4h0M110.3 138.9h0M106.8 144.1h0M110.0 140.4h0M108.2 148.6h0M113.4 135.5h0M116.8 141.8h0M117.2 120.3h0M106.9 142.0h0M106.6 138.6h0M108.9 146.8h0M122.6 114.6h0M111.2 137.5h0M111.8 135.2h0M114.1 82.4h0M100.4 106.6h0M107.2 145.3h0M103.8 137.3h0M107.4 142.7h0M109.2 145.6h0M109.5 143.9h0M103.1 86.1h0M105.9 134.5h0M104.5 109.6h0M102.0 80.0h0M108.6 148.4h0M111.7 146.2h0M117.0 139.7h0M102.2 116.4h0M107.6 144.2h0M112.0 141.4h0M105.6 131.3h0M105.7 125.4h0M94.8 82.5h0M97.3 120.8h0M121.5 16.4h0M107.2 147.6h0M107.5 142.9h0M111.8 147.4h0M92.8 125.0h0M109.4 147.1h0M93.3 32.5h0M101.0 133.4h0M117.7 135.5h0M106.5 134.9h0M97.2 37.7h0M109.4 144.6h0M116.2 122.7h0M112.5 138.5h0M95.4 96.4h0M104.9 137.8h0M97.0 40.3h0M107.2 140.3h0M104.3 146.7h0M110.2 138.9h0M118.6 121.5h0M96.3 102.9h0M106.2 134.1h0M90.7 29.5h0M110.7 143.0h0M106.5 139.7h0M103.5 87.2h0M104.3 109.8h0M114.0 132.5h0M108.8 148.0h0M107.8 148.5h0M105.9 147.3h0M103.0 112.2h0M111.4 129.3h0M94.2 124.3h0M117.9 121.8h0M110.4 143.4h0M110.3 140.3h0M102.8 145.0h0M107.8 147.7h0M103.5 146.3h0M118.3 95.3h0M109.0 147.3h0M102.6 145.1h0M110.3 145.7h0M112.6 126.4h0M109.6 148.0h0M106.8 141.8h0M107.6 145.9h0M87.0 113.9h0M118.6 141.1h0M102.2 136.4h0M124.3 124.3h0M95.2 135.7h0M107.4 143.1h0M105.7 138.7h0M113.2 125.2h0M105.7 124.5h0M109.1 148.6h0M106.7 143.3h0M112.6 106.5h0M108.9 147.3h0M113.4 123.4h0M118.4 66.8h0M107.9 146.0h0M109.4 145.1h0M108.7 148.1h0M109.3 146.8h0M58.6 54.2h0M109.9 141.9h0M108.3 148.4h0M107.6 143.8h0M152.7 59.0h0M109.3 145.4h0M111.4 134.2h0M118.9 143.0h0M96.1 97.5h0M100.0 74.1h0M107.5 144.4h0M136.2 109.0h0M113.0 114.4h0M118.0 120.7h0M102.4 119.4h0M110.3 141.9h0M121.8 71.1h0M100.3 23.4h0M102.0 90.6h0M102.0 127.0h0M109.2 148.0h0M100.0 109.8h0M108.4 148.5h0M110.6 137.3h0M114.3 119.3h0M105.3 124.6h0M75.5 104.6h0M106.9 142.6h0M99.6 55.9h0M116.2 51.6h0M107.1 144.6h0M113.4 136.3h0M105.2 127.8h0M105.3 139.5h0M117.9 140.1h0M116.0 140.5h0M109.8 148.1h0M90.8 129.4h0M101.7 132.3h0M97.4 128.6h0M104.6 145.7h0M107.4 147.0h0M112.6 116.8h0M109.6 141.8h0M114.4 125.3h0M106.6 141.1h0M109.9 140.5h0M105.3 146.9h0M101.2 118.9h0M97.4 139.5h0M106.2 139.8h0M103.2 127.1h0M108.7 148.7h0M111.6 142.3h0M103.5 111.9h0M107.4 146.9h0M119.2 132.6h0M110.7 139.7h0M135.4 126.7h0M112.3 120.7h0M101.3 124.2h0M103.7 128.7h0M109.6 147.1h0M117.2 132.7h0M108.0 147.5h0M81.6 129.0h0M106.4 141.5h0M111.5 145.2h0M108.1 147.1h0M103.9 101.1h0M108.4 148.6h0M108.1 148.3h0M107.7 144.9h0M115.1 113.3h0M114.9 52.8h0M103.5 132.0h0M102.8 110.6h0M111.2 140.9h0M105.9 138.8h0M101.3 92.2h0M112.6 127.1h0M104.3 126.8h0M112.1 135.9h0M92.3 133.9h0M110.3 140.6h0M110.4 136.7h0M106.2 131.9h0M102.1 139.2h0M86.6 132.5h0M110.2 141.0h0M101.1 128.8h0M120.1 96.2h0M111.3 142.0h0M98.6 95.6h0M107.1 142.5h0M102.2 142.2h0M111.7 133.3h0M111.0 136.0h0M106.5 142.9h0M108.7 148.2h0M113.6 132.5h0M97.3 31.4h0M118.8 133.8h0M93.5 86.6h0M99.1 122.8h0M109.4 144.7h0M108.8 147.7h0M119.3 126.4h0M111.6 120.0h0M91.2 44.9h0M116.0 129.8h0M111.0 144.8h0M109.5 142.8h0M107.3 148.0h0M110.0 147.1h0M122.4 97.6h0M107.7 147.8h0M112.4 129.8h0M109.5 144.3h0M106.8 144.8h0M110.3 139.2h0M97.5 36.8h0M104.0 121.7h0M111.9 116.2h0M113.2 145.1h0M106.8 139.0h0M110.0 142.1h0M113.9 135.1h0M101.9 83.0h0M119.0 113.4h0M114.6 70.8h0M109.4 144.8h0M89.9 134.4h0M110.3 136.0h0M116.3 63.0h0M98.3 140.1h0M113.4 134.9h0M110.7 144.6h0M112.5 137.9h0M116.3 122.3h0M107.7 146.1h0M124.7 133.5h0M78.0 123.6h0M111.1 132.8h0M113.4 137.1h0M103.1 128.1h0M110.3 137.1h0M125.8 64.1h0M111.6 136.0h0M111.2 131.2h0M118.8 112.2h0M112.3 130.7h0M113.6 106.3h0M103.3 140.7h0M106.9 142.8h0M110.9 142.2h0M108.3 148.1h0M105.2 129.0h0M100.2 122.6h0M107.9 147.9h0M120.5 139.9h0M110.8 147.3h0M110.0 142.3h0M104.5 146.8h0M125.6 101.5h0M114.7 131.9h0M113.8 141.2h0M107.3 143.5h0M99.2 89.7h0M111.6 132.3h0M111.3 140.2h0M109.8 147.2h0M110.1 143.2h0M112.7 133.9h0M121.1 139.9h0M91.7 70.7h0M113.7 136.2h0M100.7 129.1h0M112.8 143.8h0M114.4 66.5h0M109.9 145.8h0M109.3 145.9h0M97.7 38.7h0M117.3 140.0h0M110.2 145.9h0M104.4 126.5h0M94.6 59.8h0M110.3 141.4h0M117.6 109.6h0M108.5 148.9h0M108.2 147.9h0M97.4 62.0h0M105.6 128.8h0M108.8 148.4h0M109.8 145.1h0M107.3 145.1h0M107.4 146.0h0M108.8 148.7h0M109.4 144.1h0M101.1 141.0h0M106.6 137.3h0M106.6 148.0h0M99.8 116.8h0M122.4 24.7h0M104.7 126.9h0M113.4 124.8h0M122.2 138.1h0M106.0 145.9h0M105.3 137.4h0M114.5 84.6h0M100.0 76.7h0M109.4 143.8h0M105.7 147.2h0M113.2 132.5h0M109.7 142.0h0M111.0 135.8h0M92.3 135.7h0M109.9 140.8h0M111.1 145.4h0M102.3 70.6h0M106.6 136.8h0M115.6 56.5h0M110.0 139.8h0M111.2 142.0h0M107.8 144.8h0M100.1 51.5h0M114.9 70.0h0M100.7 133.9h0M100.7 108.4h0M108.6 148.8h0M89.5 56.2h0M106.8 137.7h0M110.3 137.7h0M109.3 144.5h0M119.5 81.1h0M101.2 34.1h0M111.7 136.9h0M104.1 133.8h0M109.7 143.5h0M97.4 141.3h0M105.1 116.8h0M107.1 147.0h0M109.5 144.0h0M108.1 147.6h0M110.3 143.0h0M109.7 148.1h0M115.7 144.9h0M107.9 146.3h0M105.6 145.9h0M111.5 146.5h0M113.0 143.5h0M112.0 136.7h0M105.1 131.8h0M106.2 144.3h0M106.9 146.5h0M112.9 145.8h0M111.8 127.8h0M110.8 140.0h0M111.5 130.1h0M113.9 95.6h0M103.6 102.5h0M78.3 111.6h0M113.1 144.2h0M102.1 132.3h0M110.3 144.8h0M105.6 144.5h0M123.9 134.3h0M111.8 125.5h0M107.0 143.0h0M102.1 56.8h0M109.5 146.9h0M114.3 118.6h0M109.6 143.5h0M106.3 140.3h0M110.1 147.4h0M120.2 139.0h0M99.7 115.3h0M106.7 144.4h0M107.3 142.5h0M103.1 78.6h0M115.7 119.3h0M98.6 127.1h0M108.8 148.8h0M104.1 98.1h0M98.9 124.4h0M110.4 135.3h0M110.4 139.6h0M109.4 144.6h0M105.2 126.5h0M108.8 148.4h0M119.8 79.9h0M104.5 129.4h0M105.7 131.9h0M106.9 146.6h0M113.7 107.8h0M136.1 106.6h0M108.1 147.0h0M111.8 132.0h0" stroke="#4cf822" stroke-width="2.9" stroke-linecap="round" fill="none"/>
<line x1="23.4" y1="120.5" x2="193.4" y2="120.5" stroke="#aaaaaa" stroke-width="1.3" stroke-dasharray="5.2 6.4" stroke-dashoffset="-1"/>
<line x1="98.9" y1="149.5" x2="98.9" y2="166.4" stroke="#aaaaaa" stroke-width="1.3" stroke-dasharray="5 4"/>
<line x1="118.1" y1="149.5" x2="118.1" y2="166.4" stroke="#aaaaaa" stroke-width="1.3" stroke-dasharray="5 4"/>
<rect x="23.4" y="12.4" width="170.0" height="154.0" fill="none" stroke="#333" stroke-width="1"/>
<line x1="20.9" y1="148.9" x2="23.4" y2="148.9" stroke="#333" stroke-width="1" />
<text x="20.8" y="152.39" font-size="8.9" text-anchor="end" fill="#333">0</text>
<line x1="20.9" y1="105.5" x2="23.4" y2="105.5" stroke="#333" stroke-width="1" />
<text x="20.8" y="108.99" font-size="8.9" text-anchor="end" fill="#333">2</text>
<line x1="20.9" y1="62.1" x2="23.4" y2="62.1" stroke="#333" stroke-width="1" />
<text x="20.8" y="65.59" font-size="8.9" text-anchor="end" fill="#333">4</text>
<line x1="20.9" y1="18.7" x2="23.4" y2="18.7" stroke="#333" stroke-width="1" />
<text x="20.8" y="22.19" font-size="8.9" text-anchor="end" fill="#333">6</text>
<line x1="60.35" y1="166.4" x2="60.35" y2="168.9" stroke="#333" stroke-width="1" />
<text x="60.35" y="175.79" font-size="8.9" text-anchor="middle" fill="#333">−5</text>
<line x1="108.5" y1="166.4" x2="108.5" y2="168.9" stroke="#333" stroke-width="1" />
<text x="108.5" y="175.79" font-size="8.9" text-anchor="middle" fill="#333">0</text>
<line x1="156.65" y1="166.4" x2="156.65" y2="168.9" stroke="#333" stroke-width="1" />
<text x="156.65" y="175.79" font-size="8.9" text-anchor="middle" fill="#333">5</text>
<text transform="translate(11.2,89) rotate(-90)" x="0" y="0" font-size="10.6" text-anchor="middle" fill="#222">−log<tspan font-size="6.8" dy="2.6">10</tspan><tspan dy="-2.6">(pvalue)</tspan></text>
<text x="118.1" y="187.2" font-size="10.7" text-anchor="middle" fill="#222">log<tspan font-size="7.3" dy="2.6">2</tspan><tspan dy="-2.6">(shCREB5 vs shGFP)</tspan></text>
<text x="78.2" y="160.72" font-size="7.6" text-anchor="middle" fill="#333">FC &lt; −2.0</text>
<text x="136.5" y="160.72" font-size="7.6" text-anchor="middle" fill="#333">FC &gt; 2.0</text>
<text x="64.6" y="27.92" font-size="10.4" font-weight="bold" text-anchor="middle" fill="#ee2222" font-style="italic">APLN</text>
<text x="59.5" y="43.89" font-size="10.6" font-weight="bold" text-anchor="middle">Down: 626</text>
<text x="162" y="43.89" font-size="10.6" font-weight="bold" text-anchor="middle">Up: 652</text>
<text x="155.8" y="136.99" font-size="10.6" font-weight="bold" text-anchor="middle">pvalue = 0.05</text>
<text transform="translate(202.18,15.8) scale(0.900,1)" font-size="14.39" font-weight="bold" fill="#000">B</text>
<circle cx="375.8" cy="92.3" r="70.6" fill="#d2c5ed"/>
<circle cx="271.6" cy="92" r="70.3" fill="#8bd9f2"/>
<clipPath id="clipB"><circle cx="271.6" cy="92" r="70.3"/></clipPath>
<circle cx="375.8" cy="92.3" r="70.6" fill="#8eabe2" clip-path="url(#clipB)"/>
<circle cx="375.8" cy="92.3" r="70.6" fill="none" stroke="#6f6a78" stroke-width="0.9"/>
<circle cx="375.8" cy="92.3" r="70.6" fill="none" stroke="#5f9fc8" stroke-width="1" clip-path="url(#clipB)"/>
<circle cx="271.6" cy="92" r="70.3" fill="none" stroke="#2e2a2e" stroke-width="1"/>
<text x="256.4" y="68.32" font-size="10.4" font-weight="bold" text-anchor="middle" fill="#222">SiHa-LNM2</text>
<text x="255.7" y="81.52" font-size="10.4" font-weight="bold" text-anchor="middle" fill="#222">shCREB5 vs shGFP</text>
<text x="256.4" y="94.72" font-size="10.4" font-weight="bold" text-anchor="middle" fill="#222">RNA-seq</text>
<text x="260.2" y="116.02" font-size="10.4" font-weight="bold" text-anchor="middle" fill="#222">Down-regulated</text>
<text x="261.3" y="128.22" font-size="10.4" font-weight="bold" text-anchor="middle" fill="#222">genes</text>
<text x="322.8" y="95.92" font-size="10.4" font-weight="bold" text-anchor="middle" fill="#222">APLN</text>
<text x="396.8" y="91.72" font-size="10.4" font-weight="bold" text-anchor="middle" fill="#222">Lymphangiogenesis</text>
<text x="396.8" y="103.52" font-size="10.4" font-weight="bold" text-anchor="middle" fill="#222">Related Genes</text>
<text transform="translate(444.6,15.9) scale(0.915,1)" font-size="14.53" font-weight="bold" fill="#000">C</text>
<text x="525.6" y="9.27" font-size="11.1" font-weight="bold" text-anchor="middle">SiHa-LNM2</text>
<text transform="translate(458.6,81.5) rotate(-90)" x="0" y="3.4" font-size="9.5" font-weight="bold" text-anchor="middle" textLength="120.5" lengthAdjust="spacingAndGlyphs">Relative APLN mRNA level</text>
<path d="M494.7 141.3V64.24H508.7V141.3" fill="none" stroke="#2222ff" stroke-width="1.45"/>
<line x1="501.7" y1="58.23" x2="501.7" y2="66.81" stroke="#2222ff" stroke-width="1.45" />
<line x1="497.36" y1="58.23" x2="506.04" y2="58.23" stroke="#2222ff" stroke-width="1.45" />
<line x1="497.36" y1="66.81" x2="506.04" y2="66.81" stroke="#2222ff" stroke-width="1.45" />
<circle cx="501.7" cy="57.06" r="2.3" fill="#2222ff"/>
<circle cx="495.1" cy="66.19" r="2.3" fill="#2222ff"/>
<circle cx="508.1" cy="62.99" r="2.3" fill="#2222ff"/>
<path d="M518.3 141.3V121.1H532.3V141.3" fill="none" stroke="#ff2a2a" stroke-width="1.45"/>
<line x1="525.3" y1="114.31" x2="525.3" y2="127.03" stroke="#ff2a2a" stroke-width="1.45" />
<line x1="520.96" y1="114.31" x2="529.64" y2="114.31" stroke="#ff2a2a" stroke-width="1.45" />
<line x1="520.96" y1="127.03" x2="529.64" y2="127.03" stroke="#ff2a2a" stroke-width="1.45" />
<rect x="523.12" y="111.82" width="4.37" height="4.37" fill="#ff2a2a"/>
<rect x="523.12" y="116.73" width="4.37" height="4.37" fill="#ff2a2a"/>
<rect x="523.12" y="123.91" width="4.37" height="4.37" fill="#ff2a2a"/>
<path d="M541.6 141.3V121.72H555.6V141.3" fill="none" stroke="#55e040" stroke-width="1.45"/>
<line x1="548.6" y1="111.5" x2="548.6" y2="130.61" stroke="#55e040" stroke-width="1.45" />
<line x1="544.26" y1="111.5" x2="552.94" y2="111.5" stroke="#55e040" stroke-width="1.45" />
<line x1="544.26" y1="130.61" x2="552.94" y2="130.61" stroke="#55e040" stroke-width="1.45" />
<path d="M548.6 108.32L551.48 113.35L545.73 113.35Z" fill="#55e040"/>
<path d="M548.6 119L551.48 124.03L545.73 124.03Z" fill="#55e040"/>
<path d="M548.6 127.74L551.48 132.77L545.73 132.77Z" fill="#55e040"/>
<line x1="486.4" y1="23.65" x2="486.4" y2="141.95" stroke="#000" stroke-width="1.3" />
<line x1="481.6" y1="141.3" x2="486.4" y2="141.3" stroke="#000" stroke-width="1.3" />
<text x="480.9" y="144.99" font-size="8.9" font-weight="bold" text-anchor="end">0.0</text>
<line x1="481.6" y1="102.3" x2="486.4" y2="102.3" stroke="#000" stroke-width="1.3" />
<text x="480.9" y="105.99" font-size="8.9" font-weight="bold" text-anchor="end">0.5</text>
<line x1="481.6" y1="63.3" x2="486.4" y2="63.3" stroke="#000" stroke-width="1.3" />
<text x="480.9" y="66.99" font-size="8.9" font-weight="bold" text-anchor="end">1.0</text>
<line x1="481.6" y1="24.3" x2="486.4" y2="24.3" stroke="#000" stroke-width="1.3" />
<text x="480.9" y="27.99" font-size="8.9" font-weight="bold" text-anchor="end">1.5</text>
<line x1="486.4" y1="141.3" x2="565.1" y2="141.3" stroke="#000" stroke-width="1.3" />
<line x1="501.7" y1="141.3" x2="501.7" y2="146.1" stroke="#000" stroke-width="1.3" />
<text transform="translate(502.1,152.5) rotate(-45)" x="0" y="3.08" font-size="8.6" font-weight="bold" text-anchor="end">shGFP</text>
<line x1="525.3" y1="141.3" x2="525.3" y2="146.1" stroke="#000" stroke-width="1.3" />
<text transform="translate(525.7,152.5) rotate(-45)" x="0" y="3.08" font-size="8.6" font-weight="bold" text-anchor="end">shCREB5-1</text>
<line x1="548.6" y1="141.3" x2="548.6" y2="146.1" stroke="#000" stroke-width="1.3" />
<text transform="translate(549,152.5) rotate(-45)" x="0" y="3.08" font-size="8.6" font-weight="bold" text-anchor="end">shCREB5-2</text>
<line x1="501.8" y1="38.7" x2="550" y2="38.7" stroke="#000" stroke-width="1.15" />
<path d="M519.1 28.7L519.1 34.1M516.76 30.05L521.44 32.75M521.44 30.05L516.76 32.75" stroke="#111" stroke-width="1.35" fill="none"/>
<path d="M525.9 28.7L525.9 34.1M523.56 30.05L528.24 32.75M528.24 30.05L523.56 32.75" stroke="#111" stroke-width="1.35" fill="none"/>
<path d="M532.7 28.7L532.7 34.1M530.36 30.05L535.04 32.75M535.04 30.05L530.36 32.75" stroke="#111" stroke-width="1.35" fill="none"/>
<line x1="499.8" y1="53.3" x2="529.9" y2="53.3" stroke="#000" stroke-width="1.15" />
<path d="M508.05 43.3L508.05 48.7M505.71 44.65L510.39 47.35M510.39 44.65L505.71 47.35" stroke="#111" stroke-width="1.35" fill="none"/>
<path d="M514.85 43.3L514.85 48.7M512.51 44.65L517.19 47.35M517.19 44.65L512.51 47.35" stroke="#111" stroke-width="1.35" fill="none"/>
<path d="M521.65 43.3L521.65 48.7M519.31 44.65L523.99 47.35M523.99 44.65L519.31 47.35" stroke="#111" stroke-width="1.35" fill="none"/>
<text transform="translate(574.23,15.8) scale(0.952,1)" font-size="14.39" font-weight="bold" fill="#000">D</text>
<text x="643.2" y="9.27" font-size="11.1" font-weight="bold" text-anchor="middle">HeLa-LNM2</text>
<text transform="translate(576.4,81.6) rotate(-90)" x="0" y="3.4" font-size="9.5" font-weight="bold" text-anchor="middle" textLength="120.8" lengthAdjust="spacingAndGlyphs">Relative APLN mRNA level</text>
<path d="M612.9 141.3V59.09H626.9V141.3" fill="none" stroke="#2222ff" stroke-width="1.45"/>
<line x1="619.9" y1="52.54" x2="619.9" y2="64.24" stroke="#2222ff" stroke-width="1.45" />
<line x1="615.56" y1="52.54" x2="624.24" y2="52.54" stroke="#2222ff" stroke-width="1.45" />
<line x1="615.56" y1="64.24" x2="624.24" y2="64.24" stroke="#2222ff" stroke-width="1.45" />
<circle cx="619.9" cy="52.38" r="2.3" fill="#2222ff"/>
<circle cx="619.9" cy="58.62" r="2.3" fill="#2222ff"/>
<circle cx="619.9" cy="64.08" r="2.3" fill="#2222ff"/>
<path d="M636.3 141.3V115.56H650.3V141.3" fill="none" stroke="#ff2a2a" stroke-width="1.45"/>
<line x1="643.3" y1="107.99" x2="643.3" y2="121.1" stroke="#ff2a2a" stroke-width="1.45" />
<line x1="638.96" y1="107.99" x2="647.64" y2="107.99" stroke="#ff2a2a" stroke-width="1.45" />
<line x1="638.96" y1="121.1" x2="647.64" y2="121.1" stroke="#ff2a2a" stroke-width="1.45" />
<rect x="641.12" y="105.58" width="4.37" height="4.37" fill="#ff2a2a"/>
<rect x="641.12" y="113.38" width="4.37" height="4.37" fill="#ff2a2a"/>
<rect x="641.12" y="118.84" width="4.37" height="4.37" fill="#ff2a2a"/>
<path d="M659.6 141.3V120.4H673.6V141.3" fill="none" stroke="#55e040" stroke-width="1.45"/>
<line x1="666.6" y1="109.48" x2="666.6" y2="128.66" stroke="#55e040" stroke-width="1.45" />
<line x1="662.26" y1="109.48" x2="670.94" y2="109.48" stroke="#55e040" stroke-width="1.45" />
<line x1="662.26" y1="128.66" x2="670.94" y2="128.66" stroke="#55e040" stroke-width="1.45" />
<path d="M666.6 106.45L669.48 111.48L663.73 111.48Z" fill="#55e040"/>
<path d="M666.6 118.93L669.48 123.96L663.73 123.96Z" fill="#55e040"/>
<path d="M666.6 125.17L669.48 130.2L663.73 130.2Z" fill="#55e040"/>
<line x1="604.4" y1="23.65" x2="604.4" y2="141.95" stroke="#000" stroke-width="1.3" />
<line x1="599.6" y1="141.3" x2="604.4" y2="141.3" stroke="#000" stroke-width="1.3" />
<text x="598.9" y="144.99" font-size="8.9" font-weight="bold" text-anchor="end">0.0</text>
<line x1="599.6" y1="102.3" x2="604.4" y2="102.3" stroke="#000" stroke-width="1.3" />
<text x="598.9" y="105.99" font-size="8.9" font-weight="bold" text-anchor="end">0.5</text>
<line x1="599.6" y1="63.3" x2="604.4" y2="63.3" stroke="#000" stroke-width="1.3" />
<text x="598.9" y="66.99" font-size="8.9" font-weight="bold" text-anchor="end">1.0</text>
<line x1="599.6" y1="24.3" x2="604.4" y2="24.3" stroke="#000" stroke-width="1.3" />
<text x="598.9" y="27.99" font-size="8.9" font-weight="bold" text-anchor="end">1.5</text>
<line x1="604.4" y1="141.3" x2="682.7" y2="141.3" stroke="#000" stroke-width="1.3" />
<line x1="619.9" y1="141.3" x2="619.9" y2="146.1" stroke="#000" stroke-width="1.3" />
<text transform="translate(620.3,152.5) rotate(-45)" x="0" y="3.08" font-size="8.6" font-weight="bold" text-anchor="end">shGFP</text>
<line x1="643.3" y1="141.3" x2="643.3" y2="146.1" stroke="#000" stroke-width="1.3" />
<text transform="translate(643.7,152.5) rotate(-45)" x="0" y="3.08" font-size="8.6" font-weight="bold" text-anchor="end">shCREB5-1</text>
<line x1="666.6" y1="141.3" x2="666.6" y2="146.1" stroke="#000" stroke-width="1.3" />
<text transform="translate(667,152.5) rotate(-45)" x="0" y="3.08" font-size="8.6" font-weight="bold" text-anchor="end">shCREB5-2</text>
<line x1="620.7" y1="32.6" x2="668" y2="32.6" stroke="#000" stroke-width="1.15" />
<path d="M637.55 22.6L637.55 28M635.21 23.95L639.89 26.65M639.89 23.95L635.21 26.65" stroke="#111" stroke-width="1.35" fill="none"/>
<path d="M644.35 22.6L644.35 28M642.01 23.95L646.69 26.65M646.69 23.95L642.01 26.65" stroke="#111" stroke-width="1.35" fill="none"/>
<path d="M651.15 22.6L651.15 28M648.81 23.95L653.49 26.65M653.49 23.95L648.81 26.65" stroke="#111" stroke-width="1.35" fill="none"/>
<line x1="618" y1="47.7" x2="643" y2="47.7" stroke="#000" stroke-width="1.15" />
<path d="M623.7 37.7L623.7 43.1M621.36 39.05L626.04 41.75M626.04 39.05L621.36 41.75" stroke="#111" stroke-width="1.35" fill="none"/>
<path d="M630.5 37.7L630.5 43.1M628.16 39.05L632.84 41.75M632.84 39.05L628.16 41.75" stroke="#111" stroke-width="1.35" fill="none"/>
<path d="M637.3 37.7L637.3 43.1M634.96 39.05L639.64 41.75M639.64 39.05L634.96 41.75" stroke="#111" stroke-width="1.35" fill="none"/>
<text transform="translate(2.21,211.9) scale(0.876,1)" font-size="14.24" font-weight="bold" fill="#000">E</text>
<text x="67.1" y="219.44" font-size="11" font-weight="bold" text-anchor="middle">SiHa-PR</text>
<text transform="translate(5.5,288.5) rotate(-90)" x="0" y="3.44" font-size="9.6" font-weight="bold" text-anchor="middle" textLength="116.7" lengthAdjust="spacingAndGlyphs">Relative APLN mRNA level</text>
<path d="M40.9 346.2V338.8H61.5V346.2" fill="none" stroke="#2222ff" stroke-width="1.45"/>
<line x1="51.2" y1="337.52" x2="51.2" y2="339.78" stroke="#2222ff" stroke-width="1.45" />
<line x1="46.2" y1="337.52" x2="56.2" y2="337.52" stroke="#2222ff" stroke-width="1.45" />
<line x1="46.2" y1="339.78" x2="56.2" y2="339.78" stroke="#2222ff" stroke-width="1.45" />
<circle cx="44.7" cy="339.78" r="2.3" fill="#2222ff"/>
<circle cx="51.2" cy="337.14" r="2.3" fill="#2222ff"/>
<circle cx="57.7" cy="338.65" r="2.3" fill="#2222ff"/>
<path d="M73.3 346.2V255.37H93.9V346.2" fill="none" stroke="#ff2a2a" stroke-width="1.45"/>
<line x1="83.6" y1="249.18" x2="83.6" y2="261.04" stroke="#ff2a2a" stroke-width="1.45" />
<line x1="77.1" y1="249.18" x2="90.1" y2="249.18" stroke="#ff2a2a" stroke-width="1.45" />
<line x1="77.1" y1="261.04" x2="90.1" y2="261.04" stroke="#ff2a2a" stroke-width="1.45" />
<rect x="86.91" y="247.83" width="4.37" height="4.37" fill="#ff2a2a"/>
<rect x="81.41" y="250.7" width="4.37" height="4.37" fill="#ff2a2a"/>
<rect x="82.21" y="259.61" width="4.37" height="4.37" fill="#ff2a2a"/>
<line x1="29.9" y1="232.3" x2="29.9" y2="346.85" stroke="#000" stroke-width="1.3" />
<line x1="25.1" y1="346.2" x2="29.9" y2="346.2" stroke="#000" stroke-width="1.3" />
<text x="24.4" y="349.89" font-size="8.9" font-weight="bold" text-anchor="end">0</text>
<line x1="25.1" y1="308.45" x2="29.9" y2="308.45" stroke="#000" stroke-width="1.3" />
<text x="24.4" y="312.14" font-size="8.9" font-weight="bold" text-anchor="end">5</text>
<line x1="25.1" y1="270.7" x2="29.9" y2="270.7" stroke="#000" stroke-width="1.3" />
<text x="24.4" y="274.39" font-size="8.9" font-weight="bold" text-anchor="end">10</text>
<line x1="25.1" y1="232.95" x2="29.9" y2="232.95" stroke="#000" stroke-width="1.3" />
<text x="24.4" y="236.64" font-size="8.9" font-weight="bold" text-anchor="end">15</text>
<line x1="29.9" y1="346.2" x2="106.6" y2="346.2" stroke="#000" stroke-width="1.3" />
<line x1="51.2" y1="346.2" x2="51.2" y2="351" stroke="#000" stroke-width="1.3" />
<text transform="translate(51.6,357.4) rotate(-45)" x="0" y="3.08" font-size="8.6" font-weight="bold" text-anchor="end">Vector</text>
<line x1="83.6" y1="346.2" x2="83.6" y2="351" stroke="#000" stroke-width="1.3" />
<text transform="translate(84,357.4) rotate(-45)" x="0" y="3.08" font-size="8.6" font-weight="bold" text-anchor="end">CREB5</text>
<line x1="52" y1="245.4" x2="81.4" y2="245.4" stroke="#000" stroke-width="1.15" />
<path d="M59.9 235.4L59.9 240.8M57.56 236.75L62.24 239.45M62.24 236.75L57.56 239.45" stroke="#111" stroke-width="1.35" fill="none"/>
<path d="M66.7 235.4L66.7 240.8M64.36 236.75L69.04 239.45M69.04 236.75L64.36 239.45" stroke="#111" stroke-width="1.35" fill="none"/>
<path d="M73.5 235.4L73.5 240.8M71.16 236.75L75.84 239.45M75.84 236.75L71.16 239.45" stroke="#111" stroke-width="1.35" fill="none"/>
<text transform="translate(112.2,211.9) scale(0.877,1)" font-size="14.39" font-weight="bold" fill="#000">F</text>
<text x="182.2" y="219.44" font-size="11" font-weight="bold" text-anchor="middle">HeLa-LNM2</text>
<text transform="translate(120.7,288.5) rotate(-90)" x="0" y="3.44" font-size="9.6" font-weight="bold" text-anchor="middle" textLength="116.7" lengthAdjust="spacingAndGlyphs">Relative APLN mRNA level</text>
<path d="M155.9 346.4V338.86H176.3V346.4" fill="none" stroke="#2222ff" stroke-width="1.45"/>
<line x1="166.1" y1="338.11" x2="166.1" y2="339.61" stroke="#2222ff" stroke-width="1.45" />
<line x1="161.1" y1="338.11" x2="171.1" y2="338.11" stroke="#2222ff" stroke-width="1.45" />
<line x1="161.1" y1="339.61" x2="171.1" y2="339.61" stroke="#2222ff" stroke-width="1.45" />
<circle cx="159.6" cy="339.24" r="2.3" fill="#2222ff"/>
<circle cx="166.1" cy="338.11" r="2.3" fill="#2222ff"/>
<circle cx="172.6" cy="338.48" r="2.3" fill="#2222ff"/>
<path d="M188.5 346.4V262.1H208.9V346.4" fill="none" stroke="#ff2a2a" stroke-width="1.45"/>
<line x1="198.7" y1="255.92" x2="198.7" y2="267.53" stroke="#ff2a2a" stroke-width="1.45" />
<line x1="192.2" y1="255.92" x2="205.2" y2="255.92" stroke="#ff2a2a" stroke-width="1.45" />
<line x1="192.2" y1="267.53" x2="205.2" y2="267.53" stroke="#ff2a2a" stroke-width="1.45" />
<rect x="196.51" y="253.21" width="4.37" height="4.37" fill="#ff2a2a"/>
<rect x="196.51" y="259.77" width="4.37" height="4.37" fill="#ff2a2a"/>
<rect x="196.51" y="265.8" width="4.37" height="4.37" fill="#ff2a2a"/>
<line x1="144.8" y1="232.65" x2="144.8" y2="347.05" stroke="#000" stroke-width="1.3" />
<line x1="140" y1="346.4" x2="144.8" y2="346.4" stroke="#000" stroke-width="1.3" />
<text x="139.3" y="350.09" font-size="8.9" font-weight="bold" text-anchor="end">0</text>
<line x1="140" y1="308.7" x2="144.8" y2="308.7" stroke="#000" stroke-width="1.3" />
<text x="139.3" y="312.39" font-size="8.9" font-weight="bold" text-anchor="end">5</text>
<line x1="140" y1="271" x2="144.8" y2="271" stroke="#000" stroke-width="1.3" />
<text x="139.3" y="274.69" font-size="8.9" font-weight="bold" text-anchor="end">10</text>
<line x1="140" y1="233.3" x2="144.8" y2="233.3" stroke="#000" stroke-width="1.3" />
<text x="139.3" y="236.99" font-size="8.9" font-weight="bold" text-anchor="end">15</text>
<line x1="144.8" y1="346.4" x2="221.5" y2="346.4" stroke="#000" stroke-width="1.3" />
<line x1="166.1" y1="346.4" x2="166.1" y2="351.2" stroke="#000" stroke-width="1.3" />
<text transform="translate(166.5,357.6) rotate(-45)" x="0" y="3.08" font-size="8.6" font-weight="bold" text-anchor="end">Vector</text>
<line x1="198.7" y1="346.4" x2="198.7" y2="351.2" stroke="#000" stroke-width="1.3" />
<text transform="translate(199.1,357.6) rotate(-45)" x="0" y="3.08" font-size="8.6" font-weight="bold" text-anchor="end">CREB5</text>
<line x1="165.1" y1="251.4" x2="194.8" y2="251.4" stroke="#000" stroke-width="1.15" />
<path d="M173.15 241.4L173.15 246.8M170.81 242.75L175.49 245.45M175.49 242.75L170.81 245.45" stroke="#111" stroke-width="1.35" fill="none"/>
<path d="M179.95 241.4L179.95 246.8M177.61 242.75L182.29 245.45M182.29 242.75L177.61 245.45" stroke="#111" stroke-width="1.35" fill="none"/>
<path d="M186.75 241.4L186.75 246.8M184.41 242.75L189.09 245.45M189.09 242.75L184.41 245.45" stroke="#111" stroke-width="1.35" fill="none"/>
<text transform="translate(228.71,211.9) scale(0.926,1)" font-size="14.24" font-weight="bold" fill="#000">G</text>
<text x="300" y="220.34" font-size="11" font-weight="bold" text-anchor="middle">SiHa-LNM2</text>
<text transform="translate(235.5,290) rotate(-90)" x="0" y="3.44" font-size="9.6" font-weight="bold" text-anchor="middle" textLength="121.7" lengthAdjust="spacingAndGlyphs">Relative APLN level (ELISA)</text>
<path d="M270 347.6V276.2H283.8V347.6" fill="none" stroke="#2222ff" stroke-width="1.45"/>
<line x1="276.9" y1="270.99" x2="276.9" y2="280.8" stroke="#2222ff" stroke-width="1.45" />
<line x1="272.62" y1="270.99" x2="281.18" y2="270.99" stroke="#2222ff" stroke-width="1.45" />
<line x1="272.62" y1="280.8" x2="281.18" y2="280.8" stroke="#2222ff" stroke-width="1.45" />
<circle cx="276.9" cy="273.33" r="2.3" fill="#2222ff"/>
<circle cx="283.4" cy="272.2" r="2.3" fill="#2222ff"/>
<circle cx="276.9" cy="279.29" r="2.3" fill="#2222ff"/>
<path d="M292.8 347.6V329.73H306.6V347.6" fill="none" stroke="#ff2a2a" stroke-width="1.45"/>
<line x1="299.7" y1="325.28" x2="299.7" y2="334.1" stroke="#ff2a2a" stroke-width="1.45" />
<line x1="295.42" y1="325.28" x2="303.98" y2="325.28" stroke="#ff2a2a" stroke-width="1.45" />
<line x1="295.42" y1="334.1" x2="303.98" y2="334.1" stroke="#ff2a2a" stroke-width="1.45" />
<rect x="303.51" y="324.53" width="4.37" height="4.37" fill="#ff2a2a"/>
<rect x="297.51" y="330.11" width="4.37" height="4.37" fill="#ff2a2a"/>
<rect x="298.51" y="331.09" width="4.37" height="4.37" fill="#ff2a2a"/>
<path d="M315.6 347.6V323.62H329.4V347.6" fill="none" stroke="#55e040" stroke-width="1.45"/>
<line x1="322.5" y1="313.37" x2="322.5" y2="334.41" stroke="#55e040" stroke-width="1.45" />
<line x1="318.22" y1="313.37" x2="326.78" y2="313.37" stroke="#55e040" stroke-width="1.45" />
<line x1="318.22" y1="334.41" x2="326.78" y2="334.41" stroke="#55e040" stroke-width="1.45" />
<path d="M322.5 313.36L325.38 318.39L319.62 318.39Z" fill="#55e040"/>
<path d="M322.5 318.64L325.38 323.67L319.62 323.67Z" fill="#55e040"/>
<path d="M322.5 330.85L325.38 335.88L319.62 335.88Z" fill="#55e040"/>
<line x1="262" y1="233.85" x2="262" y2="348.25" stroke="#000" stroke-width="1.3" />
<line x1="257.2" y1="347.6" x2="262" y2="347.6" stroke="#000" stroke-width="1.3" />
<text x="256.5" y="351.29" font-size="8.9" font-weight="bold" text-anchor="end">0.0</text>
<line x1="257.2" y1="309.9" x2="262" y2="309.9" stroke="#000" stroke-width="1.3" />
<text x="256.5" y="313.59" font-size="8.9" font-weight="bold" text-anchor="end">0.5</text>
<line x1="257.2" y1="272.2" x2="262" y2="272.2" stroke="#000" stroke-width="1.3" />
<text x="256.5" y="275.89" font-size="8.9" font-weight="bold" text-anchor="end">1.0</text>
<line x1="257.2" y1="234.5" x2="262" y2="234.5" stroke="#000" stroke-width="1.3" />
<text x="256.5" y="238.19" font-size="8.9" font-weight="bold" text-anchor="end">1.5</text>
<line x1="262" y1="347.6" x2="339.1" y2="347.6" stroke="#000" stroke-width="1.3" />
<line x1="276.9" y1="347.6" x2="276.9" y2="352.4" stroke="#000" stroke-width="1.3" />
<text transform="translate(277.3,358.8) rotate(-45)" x="0" y="3.08" font-size="8.6" font-weight="bold" text-anchor="end">shGFP</text>
<line x1="299.7" y1="347.6" x2="299.7" y2="352.4" stroke="#000" stroke-width="1.3" />
<text transform="translate(300.1,358.8) rotate(-45)" x="0" y="3.08" font-size="8.6" font-weight="bold" text-anchor="end">shCREB5-1</text>
<line x1="322.5" y1="347.6" x2="322.5" y2="352.4" stroke="#000" stroke-width="1.3" />
<text transform="translate(322.9,358.8) rotate(-45)" x="0" y="3.08" font-size="8.6" font-weight="bold" text-anchor="end">shCREB5-2</text>
<line x1="276.9" y1="253.2" x2="322" y2="253.2" stroke="#000" stroke-width="1.15" />
<path d="M292.65 243.2L292.65 248.6M290.31 244.55L294.99 247.25M294.99 244.55L290.31 247.25" stroke="#111" stroke-width="1.35" fill="none"/>
<path d="M299.45 243.2L299.45 248.6M297.11 244.55L301.79 247.25M301.79 244.55L297.11 247.25" stroke="#111" stroke-width="1.35" fill="none"/>
<path d="M306.25 243.2L306.25 248.6M303.91 244.55L308.59 247.25M308.59 244.55L303.91 247.25" stroke="#111" stroke-width="1.35" fill="none"/>
<line x1="276.9" y1="266.5" x2="302" y2="266.5" stroke="#000" stroke-width="1.15" />
<path d="M282.65 256.5L282.65 261.9M280.31 257.85L284.99 260.55M284.99 257.85L280.31 260.55" stroke="#111" stroke-width="1.35" fill="none"/>
<path d="M289.45 256.5L289.45 261.9M287.11 257.85L291.79 260.55M291.79 257.85L287.11 260.55" stroke="#111" stroke-width="1.35" fill="none"/>
<path d="M296.25 256.5L296.25 261.9M293.91 257.85L298.59 260.55M298.59 257.85L293.91 260.55" stroke="#111" stroke-width="1.35" fill="none"/>
<text transform="translate(346.84,211.9) scale(0.955,1)" font-size="14.24" font-weight="bold" fill="#000">H</text>
<text x="415" y="220.34" font-size="11" font-weight="bold" text-anchor="middle">HeLa-LNM2</text>
<text transform="translate(350.5,290) rotate(-90)" x="0" y="3.44" font-size="9.6" font-weight="bold" text-anchor="middle" textLength="121.7" lengthAdjust="spacingAndGlyphs">Relative APLN level (ELISA)</text>
<path d="M385.3 347.6V270.16H399.1V347.6" fill="none" stroke="#2222ff" stroke-width="1.45"/>
<line x1="392.2" y1="264.66" x2="392.2" y2="277.48" stroke="#2222ff" stroke-width="1.45" />
<line x1="387.92" y1="264.66" x2="396.48" y2="264.66" stroke="#2222ff" stroke-width="1.45" />
<line x1="387.92" y1="277.48" x2="396.48" y2="277.48" stroke="#2222ff" stroke-width="1.45" />
<circle cx="392.2" cy="264.66" r="2.3" fill="#2222ff"/>
<circle cx="385.7" cy="272.58" r="2.3" fill="#2222ff"/>
<circle cx="398.7" cy="272.58" r="2.3" fill="#2222ff"/>
<path d="M408.1 347.6V326.26H421.9V347.6" fill="none" stroke="#ff2a2a" stroke-width="1.45"/>
<line x1="415" y1="324.23" x2="415" y2="328" stroke="#ff2a2a" stroke-width="1.45" />
<line x1="410.72" y1="324.23" x2="419.28" y2="324.23" stroke="#ff2a2a" stroke-width="1.45" />
<line x1="410.72" y1="328" x2="419.28" y2="328" stroke="#ff2a2a" stroke-width="1.45" />
<rect x="408.81" y="323.55" width="4.37" height="4.37" fill="#ff2a2a"/>
<rect x="412.81" y="324.3" width="4.37" height="4.37" fill="#ff2a2a"/>
<rect x="416.81" y="322.8" width="4.37" height="4.37" fill="#ff2a2a"/>
<path d="M430.9 347.6V327.69H444.7V347.6" fill="none" stroke="#55e040" stroke-width="1.45"/>
<line x1="437.8" y1="319.93" x2="437.8" y2="334.71" stroke="#55e040" stroke-width="1.45" />
<line x1="433.52" y1="319.93" x2="442.08" y2="319.93" stroke="#55e040" stroke-width="1.45" />
<line x1="433.52" y1="334.71" x2="442.08" y2="334.71" stroke="#55e040" stroke-width="1.45" />
<path d="M437.8 317.58L440.68 322.61L434.93 322.61Z" fill="#55e040"/>
<path d="M437.8 323.61L440.68 328.64L434.93 328.64Z" fill="#55e040"/>
<path d="M437.8 331.15L440.68 336.18L434.93 336.18Z" fill="#55e040"/>
<line x1="377" y1="233.85" x2="377" y2="348.25" stroke="#000" stroke-width="1.3" />
<line x1="372.2" y1="347.6" x2="377" y2="347.6" stroke="#000" stroke-width="1.3" />
<text x="371.5" y="351.29" font-size="8.9" font-weight="bold" text-anchor="end">0.0</text>
<line x1="372.2" y1="309.9" x2="377" y2="309.9" stroke="#000" stroke-width="1.3" />
<text x="371.5" y="313.59" font-size="8.9" font-weight="bold" text-anchor="end">0.5</text>
<line x1="372.2" y1="272.2" x2="377" y2="272.2" stroke="#000" stroke-width="1.3" />
<text x="371.5" y="275.89" font-size="8.9" font-weight="bold" text-anchor="end">1.0</text>
<line x1="372.2" y1="234.5" x2="377" y2="234.5" stroke="#000" stroke-width="1.3" />
<text x="371.5" y="238.19" font-size="8.9" font-weight="bold" text-anchor="end">1.5</text>
<line x1="377" y1="347.6" x2="454" y2="347.6" stroke="#000" stroke-width="1.3" />
<line x1="392.2" y1="347.6" x2="392.2" y2="352.4" stroke="#000" stroke-width="1.3" />
<text transform="translate(392.6,358.8) rotate(-45)" x="0" y="3.08" font-size="8.6" font-weight="bold" text-anchor="end">shGFP</text>
<line x1="415" y1="347.6" x2="415" y2="352.4" stroke="#000" stroke-width="1.3" />
<text transform="translate(415.4,358.8) rotate(-45)" x="0" y="3.08" font-size="8.6" font-weight="bold" text-anchor="end">shCREB5-1</text>
<line x1="437.8" y1="347.6" x2="437.8" y2="352.4" stroke="#000" stroke-width="1.3" />
<text transform="translate(438.2,358.8) rotate(-45)" x="0" y="3.08" font-size="8.6" font-weight="bold" text-anchor="end">shCREB5-2</text>
<line x1="392" y1="242.7" x2="434" y2="242.7" stroke="#000" stroke-width="1.15" />
<path d="M406.2 232.7L406.2 238.1M403.86 234.05L408.54 236.75M408.54 234.05L403.86 236.75" stroke="#111" stroke-width="1.35" fill="none"/>
<path d="M413 232.7L413 238.1M410.66 234.05L415.34 236.75M415.34 234.05L410.66 236.75" stroke="#111" stroke-width="1.35" fill="none"/>
<path d="M419.8 232.7L419.8 238.1M417.46 234.05L422.14 236.75M422.14 234.05L417.46 236.75" stroke="#111" stroke-width="1.35" fill="none"/>
<line x1="390.2" y1="256.8" x2="417.7" y2="256.8" stroke="#000" stroke-width="1.15" />
<path d="M397.15 246.8L397.15 252.2M394.81 248.15L399.49 250.85M399.49 248.15L394.81 250.85" stroke="#111" stroke-width="1.35" fill="none"/>
<path d="M403.95 246.8L403.95 252.2M401.61 248.15L406.29 250.85M406.29 248.15L401.61 250.85" stroke="#111" stroke-width="1.35" fill="none"/>
<path d="M410.75 246.8L410.75 252.2M408.41 248.15L413.09 250.85M413.09 248.15L408.41 250.85" stroke="#111" stroke-width="1.35" fill="none"/>
<text transform="translate(460.87,211.9) scale(1.024,1)" font-size="14.24" font-weight="bold" fill="#000">I</text>
<text x="527.1" y="219.44" font-size="11" font-weight="bold" text-anchor="middle">SiHa-PR</text>
<text transform="translate(465.5,289) rotate(-90)" x="0" y="3.44" font-size="9.6" font-weight="bold" text-anchor="middle" textLength="121.7" lengthAdjust="spacingAndGlyphs">Relative APLN level (ELISA)</text>
<path d="M501.2 346.4V334.43H521.4V346.4" fill="none" stroke="#2222ff" stroke-width="1.45"/>
<line x1="511.3" y1="333.29" x2="511.3" y2="335.57" stroke="#2222ff" stroke-width="1.45" />
<line x1="506.3" y1="333.29" x2="516.3" y2="333.29" stroke="#2222ff" stroke-width="1.45" />
<line x1="506.3" y1="335.57" x2="516.3" y2="335.57" stroke="#2222ff" stroke-width="1.45" />
<circle cx="504.8" cy="335.57" r="2.3" fill="#2222ff"/>
<circle cx="511.3" cy="332.72" r="2.3" fill="#2222ff"/>
<circle cx="517.8" cy="335" r="2.3" fill="#2222ff"/>
<path d="M533.3 346.4V268.2H553.5V346.4" fill="none" stroke="#ff2a2a" stroke-width="1.45"/>
<line x1="543.4" y1="260.22" x2="543.4" y2="274.69" stroke="#ff2a2a" stroke-width="1.45" />
<line x1="536.9" y1="260.22" x2="549.9" y2="260.22" stroke="#ff2a2a" stroke-width="1.45" />
<line x1="536.9" y1="274.69" x2="549.9" y2="274.69" stroke="#ff2a2a" stroke-width="1.45" />
<rect x="541.22" y="256.21" width="4.37" height="4.37" fill="#ff2a2a"/>
<rect x="533.72" y="269.89" width="4.37" height="4.37" fill="#ff2a2a"/>
<rect x="549.01" y="269.89" width="4.37" height="4.37" fill="#ff2a2a"/>
<rect x="541.22" y="267.83" width="4.37" height="4.37" fill="#ff2a2a"/>
<line x1="490" y1="231.75" x2="490" y2="347.05" stroke="#000" stroke-width="1.3" />
<line x1="485.2" y1="346.4" x2="490" y2="346.4" stroke="#000" stroke-width="1.3" />
<text x="484.5" y="350.09" font-size="8.9" font-weight="bold" text-anchor="end">0</text>
<line x1="485.2" y1="323.6" x2="490" y2="323.6" stroke="#000" stroke-width="1.3" />
<text x="484.5" y="327.29" font-size="8.9" font-weight="bold" text-anchor="end">2</text>
<line x1="485.2" y1="300.8" x2="490" y2="300.8" stroke="#000" stroke-width="1.3" />
<text x="484.5" y="304.49" font-size="8.9" font-weight="bold" text-anchor="end">4</text>
<line x1="485.2" y1="278" x2="490" y2="278" stroke="#000" stroke-width="1.3" />
<text x="484.5" y="281.69" font-size="8.9" font-weight="bold" text-anchor="end">6</text>
<line x1="485.2" y1="255.2" x2="490" y2="255.2" stroke="#000" stroke-width="1.3" />
<text x="484.5" y="258.89" font-size="8.9" font-weight="bold" text-anchor="end">8</text>
<line x1="485.2" y1="232.4" x2="490" y2="232.4" stroke="#000" stroke-width="1.3" />
<text x="484.5" y="236.09" font-size="8.9" font-weight="bold" text-anchor="end">10</text>
<line x1="490" y1="346.4" x2="566" y2="346.4" stroke="#000" stroke-width="1.3" />
<line x1="511.3" y1="346.4" x2="511.3" y2="351.2" stroke="#000" stroke-width="1.3" />
<text transform="translate(511.7,357.6) rotate(-45)" x="0" y="3.08" font-size="8.6" font-weight="bold" text-anchor="end">Vector</text>
<line x1="543.4" y1="346.4" x2="543.4" y2="351.2" stroke="#000" stroke-width="1.3" />
<text transform="translate(543.8,357.6) rotate(-45)" x="0" y="3.08" font-size="8.6" font-weight="bold" text-anchor="end">CREB5</text>
<line x1="511" y1="253.3" x2="542.9" y2="253.3" stroke="#000" stroke-width="1.15" />
<path d="M520.15 243.3L520.15 248.7M517.81 244.65L522.49 247.35M522.49 244.65L517.81 247.35" stroke="#111" stroke-width="1.35" fill="none"/>
<path d="M526.95 243.3L526.95 248.7M524.61 244.65L529.29 247.35M529.29 244.65L524.61 247.35" stroke="#111" stroke-width="1.35" fill="none"/>
<path d="M533.75 243.3L533.75 248.7M531.41 244.65L536.09 247.35M536.09 244.65L531.41 247.35" stroke="#111" stroke-width="1.35" fill="none"/>
<text transform="translate(578.55,211.9) scale(0.935,1)" font-size="14.24" font-weight="bold" fill="#000">J</text>
<text x="643" y="219.44" font-size="11" font-weight="bold" text-anchor="middle">HeLa-PR</text>
<text transform="translate(580.5,289) rotate(-90)" x="0" y="3.44" font-size="9.6" font-weight="bold" text-anchor="middle" textLength="121.7" lengthAdjust="spacingAndGlyphs">Relative APLN level (ELISA)</text>
<path d="M616.1 346.4V335.57H636.5V346.4" fill="none" stroke="#2222ff" stroke-width="1.45"/>
<line x1="626.3" y1="334.43" x2="626.3" y2="336.37" stroke="#2222ff" stroke-width="1.45" />
<line x1="621.3" y1="334.43" x2="631.3" y2="334.43" stroke="#2222ff" stroke-width="1.45" />
<line x1="621.3" y1="336.37" x2="631.3" y2="336.37" stroke="#2222ff" stroke-width="1.45" />
<circle cx="619.8" cy="336.14" r="2.3" fill="#2222ff"/>
<circle cx="626.3" cy="334.43" r="2.3" fill="#2222ff"/>
<circle cx="632.8" cy="335" r="2.3" fill="#2222ff"/>
<path d="M648.3 346.4V261.93H668.7V346.4" fill="none" stroke="#ff2a2a" stroke-width="1.45"/>
<line x1="658.5" y1="252.46" x2="658.5" y2="270.02" stroke="#ff2a2a" stroke-width="1.45" />
<line x1="652" y1="252.46" x2="665" y2="252.46" stroke="#ff2a2a" stroke-width="1.45" />
<line x1="652" y1="270.02" x2="665" y2="270.02" stroke="#ff2a2a" stroke-width="1.45" />
<rect x="656.32" y="248.45" width="4.37" height="4.37" fill="#ff2a2a"/>
<rect x="656.32" y="262.13" width="4.37" height="4.37" fill="#ff2a2a"/>
<rect x="656.32" y="264.98" width="4.37" height="4.37" fill="#ff2a2a"/>
<line x1="605" y1="231.75" x2="605" y2="347.05" stroke="#000" stroke-width="1.3" />
<line x1="600.2" y1="346.4" x2="605" y2="346.4" stroke="#000" stroke-width="1.3" />
<text x="599.5" y="350.09" font-size="8.9" font-weight="bold" text-anchor="end">0</text>
<line x1="600.2" y1="323.6" x2="605" y2="323.6" stroke="#000" stroke-width="1.3" />
<text x="599.5" y="327.29" font-size="8.9" font-weight="bold" text-anchor="end">2</text>
<line x1="600.2" y1="300.8" x2="605" y2="300.8" stroke="#000" stroke-width="1.3" />
<text x="599.5" y="304.49" font-size="8.9" font-weight="bold" text-anchor="end">4</text>
<line x1="600.2" y1="278" x2="605" y2="278" stroke="#000" stroke-width="1.3" />
<text x="599.5" y="281.69" font-size="8.9" font-weight="bold" text-anchor="end">6</text>
<line x1="600.2" y1="255.2" x2="605" y2="255.2" stroke="#000" stroke-width="1.3" />
<text x="599.5" y="258.89" font-size="8.9" font-weight="bold" text-anchor="end">8</text>
<line x1="600.2" y1="232.4" x2="605" y2="232.4" stroke="#000" stroke-width="1.3" />
<text x="599.5" y="236.09" font-size="8.9" font-weight="bold" text-anchor="end">10</text>
<line x1="605" y1="346.4" x2="681" y2="346.4" stroke="#000" stroke-width="1.3" />
<line x1="626.3" y1="346.4" x2="626.3" y2="351.2" stroke="#000" stroke-width="1.3" />
<text transform="translate(626.7,357.6) rotate(-45)" x="0" y="3.08" font-size="8.6" font-weight="bold" text-anchor="end">Vector</text>
<line x1="658.5" y1="346.4" x2="658.5" y2="351.2" stroke="#000" stroke-width="1.3" />
<text transform="translate(658.9,357.6) rotate(-45)" x="0" y="3.08" font-size="8.6" font-weight="bold" text-anchor="end">CREB5</text>
<line x1="627.2" y1="247.2" x2="659.3" y2="247.2" stroke="#000" stroke-width="1.15" />
<path d="M636.45 237.2L636.45 242.6M634.11 238.55L638.79 241.25M638.79 238.55L634.11 241.25" stroke="#111" stroke-width="1.35" fill="none"/>
<path d="M643.25 237.2L643.25 242.6M640.91 238.55L645.59 241.25M645.59 238.55L640.91 241.25" stroke="#111" stroke-width="1.35" fill="none"/>
<path d="M650.05 237.2L650.05 242.6M647.71 238.55L652.39 241.25M652.39 238.55L647.71 241.25" stroke="#111" stroke-width="1.35" fill="none"/>
<text transform="translate(417.5,412.5) scale(0.808,1)" font-size="13.81" font-weight="bold" fill="#000">M</text>
<text x="499.9" y="419.94" font-size="11" font-weight="bold" text-anchor="middle">SiHa-LNM2</text>
<text transform="translate(431.3,497) rotate(-90)" x="0" y="3.72" font-size="10.4" font-weight="bold" text-anchor="middle" textLength="133.4" lengthAdjust="spacingAndGlyphs">Relative luciferase activity</text>
<path d="M470.25 562.8V472.28H485.75V562.8" fill="none" stroke="#2222ff" stroke-width="1.45"/>
<line x1="478" y1="455.36" x2="478" y2="488.35" stroke="#2222ff" stroke-width="1.45" />
<line x1="473.19" y1="455.36" x2="482.81" y2="455.36" stroke="#2222ff" stroke-width="1.45" />
<line x1="473.19" y1="488.35" x2="482.81" y2="488.35" stroke="#2222ff" stroke-width="1.45" />
<circle cx="478" cy="452.82" r="2.3" fill="#2222ff"/>
<circle cx="478" cy="479.05" r="2.3" fill="#2222ff"/>
<circle cx="478" cy="484.97" r="2.3" fill="#2222ff"/>
<path d="M495.65 562.8V531.5H511.15V562.8" fill="none" stroke="#ff2a2a" stroke-width="1.45"/>
<line x1="503.4" y1="523.88" x2="503.4" y2="539.11" stroke="#ff2a2a" stroke-width="1.45" />
<line x1="498.59" y1="523.88" x2="508.2" y2="523.88" stroke="#ff2a2a" stroke-width="1.45" />
<line x1="498.59" y1="539.11" x2="508.2" y2="539.11" stroke="#ff2a2a" stroke-width="1.45" />
<rect x="501.21" y="521.7" width="4.37" height="4.37" fill="#ff2a2a"/>
<rect x="501.21" y="526.77" width="4.37" height="4.37" fill="#ff2a2a"/>
<rect x="501.21" y="535.24" width="4.37" height="4.37" fill="#ff2a2a"/>
<path d="M521.35 562.8V474.82H536.85V562.8" fill="none" stroke="#55e040" stroke-width="1.45"/>
<line x1="529.1" y1="462.97" x2="529.1" y2="484.97" stroke="#55e040" stroke-width="1.45" />
<line x1="524.3" y1="462.97" x2="533.9" y2="462.97" stroke="#55e040" stroke-width="1.45" />
<line x1="524.3" y1="484.97" x2="533.9" y2="484.97" stroke="#55e040" stroke-width="1.45" />
<path d="M529.1 460.1L531.98 465.13L526.23 465.13Z" fill="#55e040"/>
<path d="M529.1 471.94L531.98 476.97L526.23 476.97Z" fill="#55e040"/>
<path d="M529.1 482.09L531.98 487.12L526.23 487.12Z" fill="#55e040"/>
<line x1="460.3" y1="435.25" x2="460.3" y2="563.45" stroke="#000" stroke-width="1.3" />
<line x1="455.5" y1="562.8" x2="460.3" y2="562.8" stroke="#000" stroke-width="1.3" />
<text x="454.8" y="565.94" font-size="9.6" font-weight="bold" text-anchor="end">0.0</text>
<line x1="455.5" y1="520.5" x2="460.3" y2="520.5" stroke="#000" stroke-width="1.3" />
<text x="454.8" y="523.64" font-size="9.6" font-weight="bold" text-anchor="end">0.5</text>
<line x1="455.5" y1="478.2" x2="460.3" y2="478.2" stroke="#000" stroke-width="1.3" />
<text x="454.8" y="481.34" font-size="9.6" font-weight="bold" text-anchor="end">1.0</text>
<line x1="455.5" y1="435.9" x2="460.3" y2="435.9" stroke="#000" stroke-width="1.3" />
<text x="454.8" y="439.04" font-size="9.6" font-weight="bold" text-anchor="end">1.5</text>
<line x1="460.3" y1="562.8" x2="546.5" y2="562.8" stroke="#000" stroke-width="1.3" />
<line x1="478" y1="562.8" x2="478" y2="567.6" stroke="#000" stroke-width="1.3" />
<text x="478" y="578.49" font-size="10.3" font-weight="bold" text-anchor="middle">FL</text>
<line x1="503.4" y1="562.8" x2="503.4" y2="567.6" stroke="#000" stroke-width="1.3" />
<text x="503.4" y="578.49" font-size="10.3" font-weight="bold" text-anchor="middle">M1</text>
<line x1="529.1" y1="562.8" x2="529.1" y2="567.6" stroke="#000" stroke-width="1.3" />
<text x="529.1" y="578.49" font-size="10.3" font-weight="bold" text-anchor="middle">M2</text>
<path d="M503.4 495.5L503.4 500.9M501.06 496.85L505.74 499.55M505.74 496.85L501.06 499.55" stroke="#111" stroke-width="1.35" fill="none"/>
<path d="M503.4 503.3L503.4 508.7M501.06 504.65L505.74 507.35M505.74 504.65L501.06 507.35" stroke="#111" stroke-width="1.35" fill="none"/>
<path d="M503.4 511.1L503.4 516.5M501.06 512.45L505.74 515.15M505.74 512.45L501.06 515.15" stroke="#111" stroke-width="1.35" fill="none"/>
<text x="529.6" y="458.07" font-size="10.8" text-anchor="middle" fill="#222">ns</text>
<text transform="translate(559.25,412.5) scale(0.862,1)" font-size="13.81" font-weight="bold" fill="#000">N</text>
<text x="636" y="419.94" font-size="11" font-weight="bold" text-anchor="middle">HeLa-LNM2</text>
<text transform="translate(568.4,497) rotate(-90)" x="0" y="3.72" font-size="10.4" font-weight="bold" text-anchor="middle" textLength="133.4" lengthAdjust="spacingAndGlyphs">Relative luciferase activity</text>
<path d="M607.35 562.8V476.51H622.85V562.8" fill="none" stroke="#2222ff" stroke-width="1.45"/>
<line x1="615.1" y1="473.97" x2="615.1" y2="478.2" stroke="#2222ff" stroke-width="1.45" />
<line x1="610.3" y1="473.97" x2="619.9" y2="473.97" stroke="#2222ff" stroke-width="1.45" />
<line x1="610.3" y1="478.2" x2="619.9" y2="478.2" stroke="#2222ff" stroke-width="1.45" />
<circle cx="610.1" cy="478.2" r="2.3" fill="#2222ff"/>
<circle cx="615.1" cy="473.97" r="2.3" fill="#2222ff"/>
<circle cx="620.1" cy="476.51" r="2.3" fill="#2222ff"/>
<path d="M632.65 562.8V537.42H648.15V562.8" fill="none" stroke="#ff2a2a" stroke-width="1.45"/>
<line x1="640.4" y1="534.04" x2="640.4" y2="539.96" stroke="#ff2a2a" stroke-width="1.45" />
<line x1="635.6" y1="534.04" x2="645.2" y2="534.04" stroke="#ff2a2a" stroke-width="1.45" />
<line x1="635.6" y1="539.96" x2="645.2" y2="539.96" stroke="#ff2a2a" stroke-width="1.45" />
<rect x="634.22" y="536.93" width="4.37" height="4.37" fill="#ff2a2a"/>
<rect x="638.22" y="535.24" width="4.37" height="4.37" fill="#ff2a2a"/>
<rect x="643.22" y="532.7" width="4.37" height="4.37" fill="#ff2a2a"/>
<path d="M658.25 562.8V475.66H673.75V562.8" fill="none" stroke="#55e040" stroke-width="1.45"/>
<line x1="666" y1="474.82" x2="666" y2="476.51" stroke="#55e040" stroke-width="1.45" />
<line x1="661.2" y1="474.82" x2="670.8" y2="474.82" stroke="#55e040" stroke-width="1.45" />
<line x1="661.2" y1="476.51" x2="670.8" y2="476.51" stroke="#55e040" stroke-width="1.45" />
<path d="M661 473.63L663.88 478.66L658.12 478.66Z" fill="#55e040"/>
<path d="M666 471.94L668.88 476.97L663.12 476.97Z" fill="#55e040"/>
<path d="M671 472.79L673.88 477.82L668.12 477.82Z" fill="#55e040"/>
<line x1="598.2" y1="435.25" x2="598.2" y2="563.45" stroke="#000" stroke-width="1.3" />
<line x1="593.4" y1="562.8" x2="598.2" y2="562.8" stroke="#000" stroke-width="1.3" />
<text x="592.7" y="565.94" font-size="9.6" font-weight="bold" text-anchor="end">0.0</text>
<line x1="593.4" y1="520.5" x2="598.2" y2="520.5" stroke="#000" stroke-width="1.3" />
<text x="592.7" y="523.64" font-size="9.6" font-weight="bold" text-anchor="end">0.5</text>
<line x1="593.4" y1="478.2" x2="598.2" y2="478.2" stroke="#000" stroke-width="1.3" />
<text x="592.7" y="481.34" font-size="9.6" font-weight="bold" text-anchor="end">1.0</text>
<line x1="593.4" y1="435.9" x2="598.2" y2="435.9" stroke="#000" stroke-width="1.3" />
<text x="592.7" y="439.04" font-size="9.6" font-weight="bold" text-anchor="end">1.5</text>
<line x1="598.2" y1="562.8" x2="684" y2="562.8" stroke="#000" stroke-width="1.3" />
<line x1="615.1" y1="562.8" x2="615.1" y2="567.6" stroke="#000" stroke-width="1.3" />
<text x="615.1" y="578.49" font-size="10.3" font-weight="bold" text-anchor="middle">FL</text>
<line x1="640.4" y1="562.8" x2="640.4" y2="567.6" stroke="#000" stroke-width="1.3" />
<text x="640.4" y="578.49" font-size="10.3" font-weight="bold" text-anchor="middle">M1</text>
<line x1="666" y1="562.8" x2="666" y2="567.6" stroke="#000" stroke-width="1.3" />
<text x="666" y="578.49" font-size="10.3" font-weight="bold" text-anchor="middle">M2</text>
<path d="M641.5 509.7L641.5 515.1M639.16 511.05L643.84 513.75M643.84 511.05L639.16 513.75" stroke="#111" stroke-width="1.35" fill="none"/>
<path d="M641.5 517.8L641.5 523.2M639.16 519.15L643.84 521.85M643.84 519.15L639.16 521.85" stroke="#111" stroke-width="1.35" fill="none"/>
<path d="M641.5 525.9L641.5 531.3M639.16 527.25L643.84 529.95M643.84 527.25L639.16 529.95" stroke="#111" stroke-width="1.35" fill="none"/>
<text x="666" y="467.07" font-size="10.8" text-anchor="middle" fill="#222">ns</text>
<text transform="translate(0.89,411.1) scale(0.913,1)" font-size="14.1" font-weight="bold" fill="#000">K</text>
<circle cx="71" cy="412.7" r="2.5" fill="#2222ff"/>
<text x="83.9" y="416.53" font-size="10.7" font-weight="bold" fill="#222">SiHa-LNM2</text>
<rect x="68.8" y="425.4" width="4.4" height="4.4" fill="#ff2a2a"/>
<text x="83.9" y="431.43" font-size="10.7" font-weight="bold" fill="#222">HeLa-LNM2</text>
<text transform="translate(5.5,489.9) rotate(-90)" x="0" y="3.79" font-size="10.6" font-weight="bold" text-anchor="middle" fill="#111" textLength="116" lengthAdjust="spacingAndGlyphs">APLN ChIP enrichment</text>
<text transform="translate(16.8,493.2) rotate(-90)" x="0" y="3.79" font-size="10.6" font-weight="bold" text-anchor="middle" fill="#111" textLength="79.2" lengthAdjust="spacingAndGlyphs">relative to input</text>
<path d="M54 555.6V555.6H68.2V555.6" fill="none" stroke="#2222ff" stroke-width="1.45"/>
<line x1="61.1" y1="555.6" x2="61.1" y2="555.6" stroke="#2222ff" stroke-width="1.45" />
<line x1="61.05" y1="555.6" x2="61.15" y2="555.6" stroke="#2222ff" stroke-width="1.45" />
<line x1="61.05" y1="555.6" x2="61.15" y2="555.6" stroke="#2222ff" stroke-width="1.45" />
<circle cx="55.9" cy="554.66" r="2.3" fill="#2222ff"/>
<circle cx="61.1" cy="554.66" r="2.3" fill="#2222ff"/>
<circle cx="66.1" cy="554.66" r="2.3" fill="#2222ff"/>
<path d="M76.2 555.6V462.51H90.4V555.6" fill="none" stroke="#2222ff" stroke-width="1.45"/>
<line x1="83.3" y1="452.59" x2="83.3" y2="472.81" stroke="#2222ff" stroke-width="1.45" />
<line x1="79.3" y1="452.59" x2="87.3" y2="452.59" stroke="#2222ff" stroke-width="1.45" />
<line x1="79.3" y1="472.81" x2="87.3" y2="472.81" stroke="#2222ff" stroke-width="1.45" />
<circle cx="83.3" cy="453.33" r="2.3" fill="#2222ff"/>
<circle cx="83.3" cy="460.45" r="2.3" fill="#2222ff"/>
<circle cx="83.3" cy="472.44" r="2.3" fill="#2222ff"/>
<path d="M113.3 555.6V555.6H127.5V555.6" fill="none" stroke="#ff2a2a" stroke-width="1.45"/>
<line x1="120.4" y1="555.6" x2="120.4" y2="555.6" stroke="#ff2a2a" stroke-width="1.45" />
<line x1="120.35" y1="555.6" x2="120.45" y2="555.6" stroke="#ff2a2a" stroke-width="1.45" />
<line x1="120.35" y1="555.6" x2="120.45" y2="555.6" stroke="#ff2a2a" stroke-width="1.45" />
<rect x="113.22" y="550.79" width="4.37" height="4.37" fill="#ff2a2a"/>
<rect x="118.22" y="550.79" width="4.37" height="4.37" fill="#ff2a2a"/>
<rect x="123.22" y="550.79" width="4.37" height="4.37" fill="#ff2a2a"/>
<path d="M135.8 555.6V469.25H150V555.6" fill="none" stroke="#ff2a2a" stroke-width="1.45"/>
<line x1="142.9" y1="461.76" x2="142.9" y2="477.12" stroke="#ff2a2a" stroke-width="1.45" />
<line x1="138.9" y1="461.76" x2="146.9" y2="461.76" stroke="#ff2a2a" stroke-width="1.45" />
<line x1="138.9" y1="477.12" x2="146.9" y2="477.12" stroke="#ff2a2a" stroke-width="1.45" />
<rect x="135.72" y="462.76" width="4.37" height="4.37" fill="#ff2a2a"/>
<rect x="146.22" y="462.95" width="4.37" height="4.37" fill="#ff2a2a"/>
<rect x="140.72" y="474.94" width="4.37" height="4.37" fill="#ff2a2a"/>
<line x1="46.2" y1="442.22" x2="46.2" y2="556.6" stroke="#000" stroke-width="2" />
<line x1="40.7" y1="555.6" x2="46.2" y2="555.6" stroke="#000" stroke-width="2" />
<text x="40" y="559.99" font-size="10.6" text-anchor="end" fill="#222">0.0</text>
<line x1="40.7" y1="518.14" x2="46.2" y2="518.14" stroke="#000" stroke-width="2" />
<text x="40" y="522.53" font-size="10.6" text-anchor="end" fill="#222">0.2</text>
<line x1="40.7" y1="480.68" x2="46.2" y2="480.68" stroke="#000" stroke-width="2" />
<text x="40" y="485.07" font-size="10.6" text-anchor="end" fill="#222">0.4</text>
<line x1="40.7" y1="443.22" x2="46.2" y2="443.22" stroke="#000" stroke-width="2" />
<text x="40" y="447.61" font-size="10.6" text-anchor="end" fill="#222">0.6</text>
<line x1="46.2" y1="555.6" x2="158.9" y2="555.6" stroke="#000" stroke-width="2" />
<line x1="61.1" y1="555.6" x2="61.1" y2="560.4" stroke="#000" stroke-width="2" />
<text transform="translate(62.9,567.1) rotate(-45)" x="0" y="3.94" font-size="11" font-weight="bold" text-anchor="end">IgG</text>
<line x1="83.3" y1="555.6" x2="83.3" y2="560.4" stroke="#000" stroke-width="2" />
<text transform="translate(85.1,567.1) rotate(-45)" x="0" y="3.94" font-size="11" font-weight="bold" text-anchor="end">CREB5</text>
<line x1="120.4" y1="555.6" x2="120.4" y2="560.4" stroke="#000" stroke-width="2" />
<text transform="translate(122.2,567.1) rotate(-45)" x="0" y="3.94" font-size="11" font-weight="bold" text-anchor="end">IgG</text>
<line x1="142.9" y1="555.6" x2="142.9" y2="560.4" stroke="#000" stroke-width="2" />
<text transform="translate(144.7,567.1) rotate(-45)" x="0" y="3.94" font-size="11" font-weight="bold" text-anchor="end">CREB5</text>
<line x1="63" y1="448.1" x2="83.5" y2="448.1" stroke="#000" stroke-width="1" />
<path d="M66.5 439.1L66.5 444.5M64.16 440.45L68.84 443.15M68.84 440.45L64.16 443.15" stroke="#222" stroke-width="1.3" fill="none"/>
<path d="M73 439.1L73 444.5M70.66 440.45L75.34 443.15M75.34 440.45L70.66 443.15" stroke="#222" stroke-width="1.3" fill="none"/>
<path d="M79.5 439.1L79.5 444.5M77.16 440.45L81.84 443.15M81.84 440.45L77.16 443.15" stroke="#222" stroke-width="1.3" fill="none"/>
<line x1="118.6" y1="458.3" x2="142.2" y2="458.3" stroke="#000" stroke-width="1" />
<path d="M123.9 449.3L123.9 454.7M121.56 450.65L126.24 453.35M126.24 450.65L121.56 453.35" stroke="#222" stroke-width="1.3" fill="none"/>
<path d="M130.4 449.3L130.4 454.7M128.06 450.65L132.74 453.35M132.74 450.65L128.06 453.35" stroke="#222" stroke-width="1.3" fill="none"/>
<path d="M136.9 449.3L136.9 454.7M134.56 450.65L139.24 453.35M139.24 450.65L134.56 453.35" stroke="#222" stroke-width="1.3" fill="none"/>
<text transform="translate(166.27,411.1) scale(0.946,1)" font-size="13.81" font-weight="bold" fill="#000">L</text>
<text x="174.6" y="472.59" font-size="10.3" font-weight="bold" text-anchor="middle">FL</text>
<line x1="190.3" y1="468.6" x2="385.5" y2="468.6" stroke="#2a2020" stroke-width="1.3" />
<line x1="190.3" y1="464.4" x2="190.3" y2="472.8" stroke="#2a2020" stroke-width="1.4" />
<line x1="385.5" y1="464.4" x2="385.5" y2="472.8" stroke="#2a2020" stroke-width="1.4" />
<path d="M379.7 468.6V451.6H410.3" fill="none" stroke="#2e3192" stroke-width="1.4"/>
<path d="M401.5 447.4L410.6 451.6L401.5 455.8" fill="none" stroke="#2e3192" stroke-width="1.4"/>
<text x="289.8" y="461.09" font-size="10.6" font-weight="bold" text-anchor="middle" fill="#222">APLN Promoter</text>
<text x="174.6" y="502.89" font-size="10.3" font-weight="bold" text-anchor="middle">M1</text>
<line x1="190.3" y1="498.9" x2="385.5" y2="498.9" stroke="#2a2020" stroke-width="1.3" />
<line x1="190.3" y1="494.7" x2="190.3" y2="503.1" stroke="#2a2020" stroke-width="1.4" />
<line x1="385.5" y1="494.7" x2="385.5" y2="503.1" stroke="#2a2020" stroke-width="1.4" />
<path d="M379.7 498.9V481.5H410.3" fill="none" stroke="#2e3192" stroke-width="1.4"/>
<path d="M401.5 477.3L410.6 481.5L401.5 485.7" fill="none" stroke="#2e3192" stroke-width="1.4"/>
<text x="174.6" y="547.49" font-size="10.3" font-weight="bold" text-anchor="middle">M2</text>
<line x1="190.3" y1="543.5" x2="385.5" y2="543.5" stroke="#2a2020" stroke-width="1.3" />
<line x1="190.3" y1="539.3" x2="190.3" y2="547.7" stroke="#2a2020" stroke-width="1.4" />
<line x1="385.5" y1="539.3" x2="385.5" y2="547.7" stroke="#2a2020" stroke-width="1.4" />
<path d="M379.7 543.5V526.3H410.3" fill="none" stroke="#2e3192" stroke-width="1.4"/>
<path d="M401.5 522.1L410.6 526.3L401.5 530.5" fill="none" stroke="#2e3192" stroke-width="1.4"/>
<rect x="306.2" y="491.1" width="59.2" height="14.7" fill="#86cc2e" stroke="#2e3192" stroke-width="1.4"/>
<text x="336.8" y="502.54" font-size="10.6" text-anchor="middle" fill="#1a1a1a">TGACG</text>
<path d="M331.9 484.9L344.5 494.5M344.5 484.9L331.9 494.5" stroke="#ee1c24" stroke-width="1.3" fill="none"/>
<rect x="239.3" y="535.8" width="58.7" height="15.1" fill="#86cc2e" stroke="#2e3192" stroke-width="1.4"/>
<text x="269.65" y="547.44" font-size="10.6" text-anchor="middle" fill="#1a1a1a">TGGCG</text>
<path d="M262 530.4L274.6 540M274.6 530.4L262 540" stroke="#ee1c24" stroke-width="1.3" fill="none"/>
<text x="304.5" y="519.1" font-size="10.9" text-anchor="middle" fill="#222">-106</text>
<text x="368.9" y="519.1" font-size="10.9" text-anchor="middle" fill="#222">-102</text>
<text x="234" y="564.4" font-size="10.9" text-anchor="middle" fill="#222">-877</text>
<text x="298.4" y="564.4" font-size="10.9" text-anchor="middle" fill="#222">-873</text>
<text transform="translate(0.9,612.5) scale(0.921,1)" font-size="14.68" font-weight="bold" fill="#000">O</text>
<circle cx="50.95" cy="708.02" r="2.5" fill="#000"/>
<circle cx="59.27" cy="692.04" r="2.5" fill="#000"/>
<circle cx="68.03" cy="714.37" r="2.5" fill="#000"/>
<circle cx="70.65" cy="714.37" r="2.5" fill="#000"/>
<circle cx="73.94" cy="715.25" r="2.5" fill="#000"/>
<circle cx="89.27" cy="710.87" r="2.5" fill="#000"/>
<circle cx="90.36" cy="699.92" r="2.5" fill="#000"/>
<circle cx="91.68" cy="702.11" r="2.5" fill="#000"/>
<circle cx="90.8" cy="709.12" r="2.5" fill="#000"/>
<circle cx="92.55" cy="711.31" r="2.5" fill="#000"/>
<circle cx="97.37" cy="718.75" r="2.5" fill="#000"/>
<circle cx="97.37" cy="720.51" r="2.5" fill="#000"/>
<circle cx="98.24" cy="703.43" r="2.5" fill="#000"/>
<circle cx="99.12" cy="699.92" r="2.5" fill="#000"/>
<circle cx="102.4" cy="689.41" r="2.5" fill="#000"/>
<circle cx="102.62" cy="699.27" r="2.5" fill="#000"/>
<circle cx="103.5" cy="704.74" r="2.5" fill="#000"/>
<circle cx="104.59" cy="708.68" r="2.5" fill="#000"/>
<circle cx="104.81" cy="698.17" r="2.5" fill="#000"/>
<circle cx="104.37" cy="722.91" r="2.5" fill="#000"/>
<circle cx="109.19" cy="700.8" r="2.5" fill="#000"/>
<circle cx="110.07" cy="702.55" r="2.5" fill="#000"/>
<circle cx="114.01" cy="680.65" r="2.5" fill="#000"/>
<circle cx="112.7" cy="687.66" r="2.5" fill="#000"/>
<circle cx="114.01" cy="686.13" r="2.5" fill="#000"/>
<circle cx="113.57" cy="691.6" r="2.5" fill="#000"/>
<circle cx="112.26" cy="690.73" r="2.5" fill="#000"/>
<circle cx="114.01" cy="707.37" r="2.5" fill="#000"/>
<circle cx="117.73" cy="709.12" r="2.5" fill="#000"/>
<circle cx="117.95" cy="712.84" r="2.5" fill="#000"/>
<circle cx="124.52" cy="703.86" r="2.5" fill="#000"/>
<circle cx="127.58" cy="694.67" r="2.5" fill="#000"/>
<circle cx="129.34" cy="682.84" r="2.5" fill="#000"/>
<circle cx="130.21" cy="685.47" r="2.5" fill="#000"/>
<circle cx="143.35" cy="671.46" r="2.5" fill="#000"/>
<circle cx="149.48" cy="664.67" r="2.5" fill="#000"/>
<circle cx="149.48" cy="672.33" r="2.5" fill="#000"/>
<circle cx="158.24" cy="667.08" r="2.5" fill="#000"/>
<circle cx="169.63" cy="660.29" r="2.5" fill="#000"/>
<circle cx="177.07" cy="675.18" r="2.5" fill="#000"/>
<line x1="50.9" y1="722.7" x2="177.1" y2="668" stroke="#f03030" stroke-width="1.2" />
<line x1="37.4" y1="628.3" x2="37.4" y2="755.8" stroke="#000" stroke-width="1.3" />
<line x1="32.6" y1="755.2" x2="37.4" y2="755.2" stroke="#000" stroke-width="1.3" />
<text x="31.4" y="759.39" font-size="10.3" font-weight="bold" text-anchor="end">0</text>
<line x1="32.6" y1="713.1" x2="37.4" y2="713.1" stroke="#000" stroke-width="1.3" />
<text x="31.4" y="717.29" font-size="10.3" font-weight="bold" text-anchor="end">5</text>
<line x1="32.6" y1="671" x2="37.4" y2="671" stroke="#000" stroke-width="1.3" />
<text x="31.4" y="675.19" font-size="10.3" font-weight="bold" text-anchor="end">10</text>
<line x1="32.6" y1="628.9" x2="37.4" y2="628.9" stroke="#000" stroke-width="1.3" />
<text x="31.4" y="633.09" font-size="10.3" font-weight="bold" text-anchor="end">15</text>
<line x1="37.4" y1="755.2" x2="194.45" y2="755.2" stroke="#000" stroke-width="1.3" />
<line x1="37.4" y1="755.2" x2="37.4" y2="760" stroke="#000" stroke-width="1.3" />
<text x="37.4" y="771.17" font-size="10.8" font-weight="bold" text-anchor="middle">0</text>
<line x1="89.75" y1="755.2" x2="89.75" y2="760" stroke="#000" stroke-width="1.3" />
<text x="89.75" y="771.17" font-size="10.8" font-weight="bold" text-anchor="middle">5</text>
<line x1="142.1" y1="755.2" x2="142.1" y2="760" stroke="#000" stroke-width="1.3" />
<text x="142.1" y="771.17" font-size="10.8" font-weight="bold" text-anchor="middle">10</text>
<line x1="194.45" y1="755.2" x2="194.45" y2="760" stroke="#000" stroke-width="1.3" />
<text x="194.45" y="771.17" font-size="10.8" font-weight="bold" text-anchor="middle">15</text>
<text x="115.9" y="786.36" font-size="10.5" font-weight="bold" text-anchor="middle" textLength="140" lengthAdjust="spacingAndGlyphs">Relative CREB5 mRNA level</text>
<text transform="translate(9.8,697.5) rotate(-90)" x="0" y="3.72" font-size="10.4" font-weight="bold" text-anchor="middle" textLength="127.6" lengthAdjust="spacingAndGlyphs">Relative APLN mRNA level</text>
<text x="48.7" y="649.87" font-size="10.8" fill="#222">r = 0.743</text>
<text x="48.7" y="661.87" font-size="10.8" fill="#222">P &lt; 0.0001</text>
<text transform="translate(471.9,611.8) scale(0.979,1)" font-size="13.66" font-weight="bold" fill="#000">Q</text>
<circle cx="507.3" cy="745.05" r="2.6" fill="#000"/>
<circle cx="524.3" cy="717.55" r="2.6" fill="#000"/>
<circle cx="541.3" cy="703.8" r="2.6" fill="#000"/>
<circle cx="541.3" cy="731.3" r="2.6" fill="#000"/>
<circle cx="541.3" cy="745.05" r="2.6" fill="#000"/>
<circle cx="558.3" cy="703.8" r="2.6" fill="#000"/>
<circle cx="558.3" cy="717.55" r="2.6" fill="#000"/>
<circle cx="558.3" cy="745.05" r="2.6" fill="#000"/>
<circle cx="575.3" cy="717.55" r="2.6" fill="#000"/>
<circle cx="575.3" cy="676.3" r="2.6" fill="#000"/>
<circle cx="609.3" cy="635.05" r="2.6" fill="#000"/>
<circle cx="609.3" cy="676.3" r="2.6" fill="#000"/>
<circle cx="609.3" cy="703.8" r="2.6" fill="#000"/>
<circle cx="609.3" cy="731.3" r="2.6" fill="#000"/>
<circle cx="660.3" cy="635.05" r="2.6" fill="#000"/>
<circle cx="660.3" cy="676.3" r="2.6" fill="#000"/>
<line x1="507.3" y1="736.8" x2="660.3" y2="659.11" stroke="#f03030" stroke-width="1.2" />
<line x1="507.3" y1="620.7" x2="507.3" y2="759.4" stroke="#000" stroke-width="1.3" />
<line x1="502.5" y1="758.8" x2="507.3" y2="758.8" stroke="#000" stroke-width="1.3" />
<text x="501.7" y="762.88" font-size="10" font-weight="bold" text-anchor="end">0</text>
<line x1="502.5" y1="731.3" x2="507.3" y2="731.3" stroke="#000" stroke-width="1.3" />
<text x="501.7" y="735.38" font-size="10" font-weight="bold" text-anchor="end">2</text>
<line x1="502.5" y1="703.8" x2="507.3" y2="703.8" stroke="#000" stroke-width="1.3" />
<text x="501.7" y="707.88" font-size="10" font-weight="bold" text-anchor="end">4</text>
<line x1="502.5" y1="676.3" x2="507.3" y2="676.3" stroke="#000" stroke-width="1.3" />
<text x="501.7" y="680.38" font-size="10" font-weight="bold" text-anchor="end">6</text>
<line x1="502.5" y1="648.8" x2="507.3" y2="648.8" stroke="#000" stroke-width="1.3" />
<text x="501.7" y="652.88" font-size="10" font-weight="bold" text-anchor="end">8</text>
<line x1="502.5" y1="621.3" x2="507.3" y2="621.3" stroke="#000" stroke-width="1.3" />
<text x="501.7" y="625.38" font-size="10" font-weight="bold" text-anchor="end">10</text>
<line x1="507.3" y1="758.8" x2="677.3" y2="758.8" stroke="#000" stroke-width="1.3" />
<line x1="507.3" y1="758.8" x2="507.3" y2="763.6" stroke="#000" stroke-width="1.3" />
<text x="507.3" y="776.08" font-size="10" font-weight="bold" text-anchor="middle">0</text>
<line x1="541.3" y1="758.8" x2="541.3" y2="763.6" stroke="#000" stroke-width="1.3" />
<text x="541.3" y="776.08" font-size="10" font-weight="bold" text-anchor="middle">2</text>
<line x1="575.3" y1="758.8" x2="575.3" y2="763.6" stroke="#000" stroke-width="1.3" />
<text x="575.3" y="776.08" font-size="10" font-weight="bold" text-anchor="middle">4</text>
<line x1="609.3" y1="758.8" x2="609.3" y2="763.6" stroke="#000" stroke-width="1.3" />
<text x="609.3" y="776.08" font-size="10" font-weight="bold" text-anchor="middle">6</text>
<line x1="643.3" y1="758.8" x2="643.3" y2="763.6" stroke="#000" stroke-width="1.3" />
<text x="643.3" y="776.08" font-size="10" font-weight="bold" text-anchor="middle">8</text>
<line x1="677.3" y1="758.8" x2="677.3" y2="763.6" stroke="#000" stroke-width="1.3" />
<text x="677.3" y="776.08" font-size="10" font-weight="bold" text-anchor="middle">10</text>
<text x="590.2" y="794.07" font-size="10.8" font-weight="bold" text-anchor="middle" textLength="91" lengthAdjust="spacingAndGlyphs">CREB5 IHC Score</text>
<text transform="translate(478.3,692.2) rotate(-90)" x="0" y="3.79" font-size="10.6" font-weight="bold" text-anchor="middle" textLength="81.9" lengthAdjust="spacingAndGlyphs">APLN IHC Score</text>
<text x="520.1" y="643.67" font-size="10.8" fill="#222">r = 0.716</text>
<text x="520.1" y="656.87" font-size="10.8" fill="#222">P &lt; 0.0001</text>
<text transform="translate(206.23,612.5) scale(0.967,1)" font-size="14.24" font-weight="bold" fill="#000">P</text>
<text x="281" y="615.19" font-size="10.6" font-weight="bold" text-anchor="middle">Patient A</text>
<text x="409.5" y="614.99" font-size="10.6" font-weight="bold" text-anchor="middle">Patient B</text>
<text transform="translate(210.5,660.7) rotate(-90)" x="0" y="3.79" font-size="10.6" font-weight="bold" text-anchor="middle">CREB5</text>
<text transform="translate(210.5,746) rotate(-90)" x="0" y="3.79" font-size="10.6" font-weight="bold" text-anchor="middle">APLN</text>
<rect x="219.7" y="618.6" width="122.2" height="79.8" fill="#aca7bb"/>
<filter id="nf1" x="0" y="0" width="100%" height="100%" color-interpolation-filters="sRGB"><feTurbulence type="fractalNoise" baseFrequency="0.45" numOctaves="2" seed="3"/><feColorMatrix type="matrix" values="0 0 0 0 0.22  0 0 0 0 0.25  0 0 0 0 0.59  5 0 0 0 -2.3"/></filter>
<rect x="219.7" y="618.6" width="122.2" height="79.8" filter="url(#nf1)" opacity="0.62"/>
<filter id="nf2" x="0" y="0" width="100%" height="100%" color-interpolation-filters="sRGB"><feTurbulence type="fractalNoise" baseFrequency="0.32" numOctaves="2" seed="10"/><feColorMatrix type="matrix" values="0 0 0 0 0.49  0 0 0 0 0.35  0 0 0 0 0.25  0 5 0 0 -2.75"/></filter>
<rect x="219.7" y="618.6" width="122.2" height="79.8" filter="url(#nf2)" opacity="0.35"/>
<filter id="nf3" x="0" y="0" width="100%" height="100%" color-interpolation-filters="sRGB"><feTurbulence type="fractalNoise" baseFrequency="0.45" numOctaves="2" seed="17"/><feColorMatrix type="matrix" values="0 0 0 0 0.93  0 0 0 0 0.93  0 0 0 0 0.96  0 0 7 0 -4.2"/></filter>
<rect x="219.7" y="618.6" width="122.2" height="79.8" filter="url(#nf3)" opacity="0.6"/>
<path d="M287 618.6L296 618.6L294.5 637Z" fill="#eeeef4" opacity="0.9"/>
<path d="M318.5 618.6L323.5 618.6L327 642L324 636Z" fill="#eeeef4" opacity="0.9"/>
<path d="M341.9 634L329 650L333 667L333.5 652L341.9 639Z" fill="#eeeef4" opacity="0.9"/>
<path d="M278 648.5L275 653L270 667L266.5 680L263 698.4L264.6 698.4L267.6 682L271.5 668L277.5 655Z" fill="#eeeef4" opacity="0.9"/>
<path d="M219.7 685L229 686.5L240 691L246 698.4L240 698.4L232 692L219.7 690Z" fill="#eeeef4" opacity="0.9"/>
<rect x="222" y="692" width="24" height="2.6" fill="none" stroke="#555" stroke-width="0.5"/>
<rect x="345.7" y="617.9" width="121.4" height="79.3" fill="#c0ae9c"/>
<filter id="nf4" x="0" y="0" width="100%" height="100%" color-interpolation-filters="sRGB"><feTurbulence type="fractalNoise" baseFrequency="0.45" numOctaves="2" seed="11"/><feColorMatrix type="matrix" values="0 0 0 0 0.29  0 0 0 0 0.35  0 0 0 0 0.67  5 0 0 0 -2.75"/></filter>
<rect x="345.7" y="617.9" width="121.4" height="79.3" filter="url(#nf4)" opacity="0.5"/>
<filter id="nf5" x="0" y="0" width="100%" height="100%" color-interpolation-filters="sRGB"><feTurbulence type="fractalNoise" baseFrequency="0.32" numOctaves="2" seed="18"/><feColorMatrix type="matrix" values="0 0 0 0 0.51  0 0 0 0 0.39  0 0 0 0 0.29  0 5 0 0 -2.6"/></filter>
<rect x="345.7" y="617.9" width="121.4" height="79.3" filter="url(#nf5)" opacity="0.25"/>
<filter id="nf6" x="0" y="0" width="100%" height="100%" color-interpolation-filters="sRGB"><feTurbulence type="fractalNoise" baseFrequency="0.45" numOctaves="2" seed="25"/><feColorMatrix type="matrix" values="0 0 0 0 0.96  0 0 0 0 0.94  0 0 0 0 0.93  0 0 7 0 -4.2"/></filter>
<rect x="345.7" y="617.9" width="121.4" height="79.3" filter="url(#nf6)" opacity="0.55"/>
<path d="M394.2 617.9C393 630 392 640 388 649C383 655 372 658 361 663" fill="none" stroke="#aab8e2" stroke-width="3" stroke-linecap="round" stroke-linejoin="round"/>
<path d="M449 697.2C455 688 462 684 467.1 682L467.1 697.2Z" fill="#a9b6df" opacity="0.9"/>
<rect x="348" y="691" width="24" height="2.6" fill="none" stroke="#555" stroke-width="0.5"/>
<rect x="219.6" y="702.3" width="121.4" height="79.7" fill="#bfbccd"/>
<filter id="nf7" x="0" y="0" width="100%" height="100%" color-interpolation-filters="sRGB"><feTurbulence type="fractalNoise" baseFrequency="0.45" numOctaves="2" seed="21"/><feColorMatrix type="matrix" values="0 0 0 0 0.25  0 0 0 0 0.31  0 0 0 0 0.67  5 0 0 0 -2.5"/></filter>
<rect x="219.6" y="702.3" width="121.4" height="79.7" filter="url(#nf7)" opacity="0.62"/>
<filter id="nf8" x="0" y="0" width="100%" height="100%" color-interpolation-filters="sRGB"><feTurbulence type="fractalNoise" baseFrequency="0.32" numOctaves="2" seed="28"/><feColorMatrix type="matrix" values="0 0 0 0 0.59  0 0 0 0 0.53  0 0 0 0 0.49  0 5 0 0 -2.8"/></filter>
<rect x="219.6" y="702.3" width="121.4" height="79.7" filter="url(#nf8)" opacity="0.2"/>
<filter id="nf9" x="0" y="0" width="100%" height="100%" color-interpolation-filters="sRGB"><feTurbulence type="fractalNoise" baseFrequency="0.45" numOctaves="2" seed="35"/><feColorMatrix type="matrix" values="0 0 0 0 0.95  0 0 0 0 0.95  0 0 0 0 0.97  0 0 7 0 -4.2"/></filter>
<rect x="219.6" y="702.3" width="121.4" height="79.7" filter="url(#nf9)" opacity="0.6"/>
<path d="M289 702.3L296 702.3L293 722Z" fill="#eeeef4" opacity="0.9"/>
<path d="M318.5 702.3L322 702.3L332 733L329.5 731Z" fill="#eeeef4" opacity="0.9"/>
<path d="M341 725L334 740L340.9 760Z" fill="#eeeef4" opacity="0.9"/>
<path d="M277 745L270 756L263 770L260.5 782L262.3 782L267 768L275 755Z" fill="#eeeef4" opacity="0.9"/>
<rect x="222" y="776" width="24" height="2.6" fill="none" stroke="#555" stroke-width="0.5"/>
<rect x="346" y="702.3" width="121" height="79.7" fill="#c6b6a6"/>
<filter id="nf10" x="0" y="0" width="100%" height="100%" color-interpolation-filters="sRGB"><feTurbulence type="fractalNoise" baseFrequency="0.45" numOctaves="2" seed="31"/><feColorMatrix type="matrix" values="0 0 0 0 0.29  0 0 0 0 0.36  0 0 0 0 0.7  5 0 0 0 -2.65"/></filter>
<rect x="346" y="702.3" width="121" height="79.7" filter="url(#nf10)" opacity="0.5"/>
<filter id="nf11" x="0" y="0" width="100%" height="100%" color-interpolation-filters="sRGB"><feTurbulence type="fractalNoise" baseFrequency="0.32" numOctaves="2" seed="38"/><feColorMatrix type="matrix" values="0 0 0 0 0.55  0 0 0 0 0.44  0 0 0 0 0.35  0 5 0 0 -2.8"/></filter>
<rect x="346" y="702.3" width="121" height="79.7" filter="url(#nf11)" opacity="0.22"/>
<filter id="nf12" x="0" y="0" width="100%" height="100%" color-interpolation-filters="sRGB"><feTurbulence type="fractalNoise" baseFrequency="0.45" numOctaves="2" seed="45"/><feColorMatrix type="matrix" values="0 0 0 0 0.96  0 0 0 0 0.96  0 0 0 0 0.94  0 0 7 0 -4.2"/></filter>
<rect x="346" y="702.3" width="121" height="79.7" filter="url(#nf12)" opacity="0.55"/>
<path d="M396 702.3C395 715 394 725 389 733C383 740 375 742 365 747" fill="none" stroke="#aab8e2" stroke-width="2.6" stroke-linecap="round" stroke-linejoin="round"/>
<path d="M452 782C457 775 462 772 467 770L467 782Z" fill="#a9b6df" opacity="0.9"/>
<rect x="348" y="776" width="24" height="2.6" fill="none" stroke="#555" stroke-width="0.5"/>
<path d="M671.5 737.4h5M678.5 740h1.2M683 739.8h2" stroke="#9eeeff" stroke-width="0.9"/>
<path d="M682.3 778.2h2.7" stroke="#3333ff" stroke-width="1"/>
<path d="M684 775.6h1" stroke="#ff66ff" stroke-width="0.8"/>
<circle cx="666.4" cy="184.2" r="0.6" fill="#8eeeff"/>
</svg>
</body></html>
